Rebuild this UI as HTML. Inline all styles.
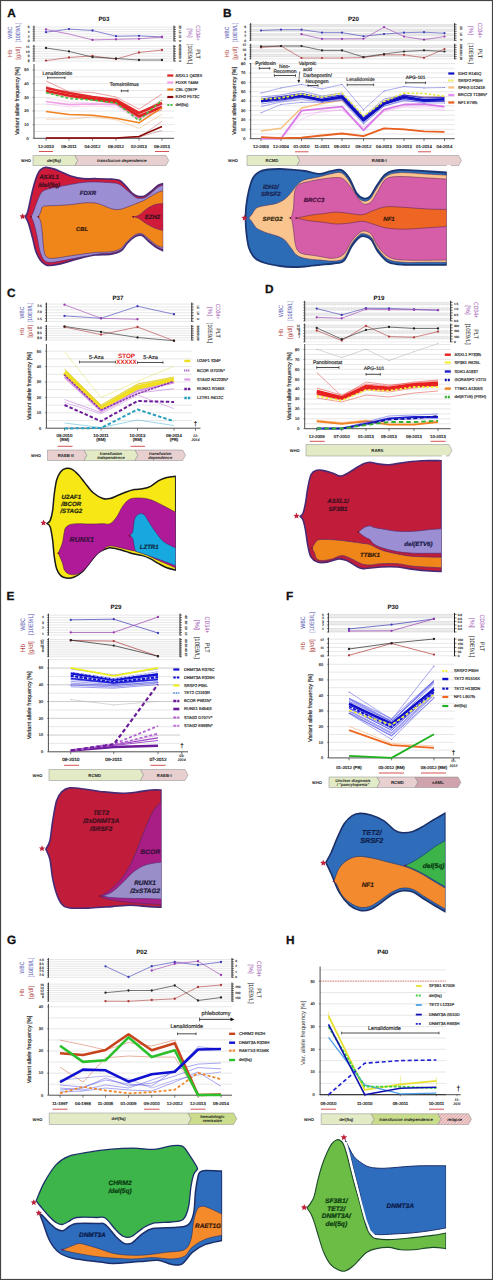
<!DOCTYPE html>
<html><head><meta charset="utf-8"><title>Clonal evolution figure</title>
<style>html,body{margin:0;padding:0;background:#fff;}svg{display:block;}text{font-family:"Liberation Sans", sans-serif;text-rendering:geometricPrecision;}</style>
</head><body>
<svg width="493" height="1280" viewBox="0 0 493 1280" font-family='"Liberation Sans", sans-serif'>
<rect x="0" y="0" width="493" height="1280" fill="#ffffff" />
<text x="7.2" y="16.8" font-size="11.8" fill="#111" text-anchor="start" font-weight="bold" font-style="normal" stroke="#111" stroke-width="0.3">A</text>
<text x="104" y="20.6" font-size="6.2" fill="#111" text-anchor="middle" font-weight="bold" font-style="normal" >P03</text>
<line x1="34" y1="27.1" x2="174" y2="27.1" stroke="#c9c9c9" stroke-width="0.45" />
<line x1="34" y1="29.4" x2="174" y2="29.4" stroke="#c9c9c9" stroke-width="0.45" />
<line x1="34" y1="31.7" x2="174" y2="31.7" stroke="#c9c9c9" stroke-width="0.45" />
<line x1="34" y1="34" x2="174" y2="34" stroke="#c9c9c9" stroke-width="0.45" />
<line x1="34" y1="36.3" x2="174" y2="36.3" stroke="#c9c9c9" stroke-width="0.45" />
<line x1="34" y1="38.6" x2="174" y2="38.6" stroke="#c9c9c9" stroke-width="0.45" />
<line x1="34" y1="40.9" x2="174" y2="40.9" stroke="#c9c9c9" stroke-width="0.45" />
<line x1="34" y1="25.6" x2="34" y2="41.4" stroke="#222" stroke-width="0.9" />
<line x1="174" y1="25.6" x2="174" y2="41.4" stroke="#222" stroke-width="1" />
<line x1="32.5" y1="27.1" x2="34" y2="27.1" stroke="#222" stroke-width="0.5" />
<line x1="174" y1="27.1" x2="176" y2="27.1" stroke="#222" stroke-width="0.6" />
<line x1="32.5" y1="29.4" x2="34" y2="29.4" stroke="#222" stroke-width="0.5" />
<line x1="174" y1="29.4" x2="176" y2="29.4" stroke="#222" stroke-width="0.6" />
<line x1="32.5" y1="31.7" x2="34" y2="31.7" stroke="#222" stroke-width="0.5" />
<line x1="174" y1="31.7" x2="176" y2="31.7" stroke="#222" stroke-width="0.6" />
<line x1="32.5" y1="34" x2="34" y2="34" stroke="#222" stroke-width="0.5" />
<line x1="174" y1="34" x2="176" y2="34" stroke="#222" stroke-width="0.6" />
<line x1="32.5" y1="36.3" x2="34" y2="36.3" stroke="#222" stroke-width="0.5" />
<line x1="174" y1="36.3" x2="176" y2="36.3" stroke="#222" stroke-width="0.6" />
<line x1="32.5" y1="38.6" x2="34" y2="38.6" stroke="#222" stroke-width="0.5" />
<line x1="174" y1="38.6" x2="176" y2="38.6" stroke="#222" stroke-width="0.6" />
<line x1="32.5" y1="40.9" x2="34" y2="40.9" stroke="#222" stroke-width="0.5" />
<line x1="174" y1="40.9" x2="176" y2="40.9" stroke="#222" stroke-width="0.6" />
<text x="29.5" y="28.3" font-size="3.3" fill="#444" text-anchor="end" font-weight="normal" font-style="normal"  stroke="#444" stroke-width="0.2">6</text>
<text x="29.5" y="32.9" font-size="3.3" fill="#444" text-anchor="end" font-weight="normal" font-style="normal"  stroke="#444" stroke-width="0.2">4</text>
<text x="29.5" y="37.5" font-size="3.3" fill="#444" text-anchor="end" font-weight="normal" font-style="normal"  stroke="#444" stroke-width="0.2">2</text>
<text x="29.5" y="42.1" font-size="3.3" fill="#444" text-anchor="end" font-weight="normal" font-style="normal"  stroke="#444" stroke-width="0.2">0</text>
<text x="179.2" y="27.1" font-size="3" fill="#444" text-anchor="middle" font-weight="normal" font-style="normal" transform="rotate(90 179.2 27.1)"  stroke="#444" stroke-width="0.2">20</text>
<text x="179.2" y="31.7" font-size="3" fill="#444" text-anchor="middle" font-weight="normal" font-style="normal" transform="rotate(90 179.2 31.7)"  stroke="#444" stroke-width="0.2">15</text>
<text x="179.2" y="36.3" font-size="3" fill="#444" text-anchor="middle" font-weight="normal" font-style="normal" transform="rotate(90 179.2 36.3)"  stroke="#444" stroke-width="0.2">10</text>
<text x="179.2" y="40.9" font-size="3" fill="#444" text-anchor="middle" font-weight="normal" font-style="normal" transform="rotate(90 179.2 40.9)"  stroke="#444" stroke-width="0.2">0</text>
<line x1="34" y1="46.4" x2="174" y2="46.4" stroke="#c9c9c9" stroke-width="0.45" />
<line x1="34" y1="48.83" x2="174" y2="48.83" stroke="#c9c9c9" stroke-width="0.45" />
<line x1="34" y1="51.27" x2="174" y2="51.27" stroke="#c9c9c9" stroke-width="0.45" />
<line x1="34" y1="53.7" x2="174" y2="53.7" stroke="#c9c9c9" stroke-width="0.45" />
<line x1="34" y1="56.13" x2="174" y2="56.13" stroke="#c9c9c9" stroke-width="0.45" />
<line x1="34" y1="58.57" x2="174" y2="58.57" stroke="#c9c9c9" stroke-width="0.45" />
<line x1="34" y1="61" x2="174" y2="61" stroke="#c9c9c9" stroke-width="0.45" />
<line x1="34" y1="44.9" x2="34" y2="61.5" stroke="#222" stroke-width="0.9" />
<line x1="174" y1="44.9" x2="174" y2="61.5" stroke="#222" stroke-width="1" />
<line x1="32.5" y1="46.4" x2="34" y2="46.4" stroke="#222" stroke-width="0.5" />
<line x1="174" y1="46.4" x2="176" y2="46.4" stroke="#222" stroke-width="0.6" />
<line x1="32.5" y1="48.83" x2="34" y2="48.83" stroke="#222" stroke-width="0.5" />
<line x1="174" y1="48.83" x2="176" y2="48.83" stroke="#222" stroke-width="0.6" />
<line x1="32.5" y1="51.27" x2="34" y2="51.27" stroke="#222" stroke-width="0.5" />
<line x1="174" y1="51.27" x2="176" y2="51.27" stroke="#222" stroke-width="0.6" />
<line x1="32.5" y1="53.7" x2="34" y2="53.7" stroke="#222" stroke-width="0.5" />
<line x1="174" y1="53.7" x2="176" y2="53.7" stroke="#222" stroke-width="0.6" />
<line x1="32.5" y1="56.13" x2="34" y2="56.13" stroke="#222" stroke-width="0.5" />
<line x1="174" y1="56.13" x2="176" y2="56.13" stroke="#222" stroke-width="0.6" />
<line x1="32.5" y1="58.57" x2="34" y2="58.57" stroke="#222" stroke-width="0.5" />
<line x1="174" y1="58.57" x2="176" y2="58.57" stroke="#222" stroke-width="0.6" />
<line x1="32.5" y1="61" x2="34" y2="61" stroke="#222" stroke-width="0.5" />
<line x1="174" y1="61" x2="176" y2="61" stroke="#222" stroke-width="0.6" />
<text x="29.5" y="47.6" font-size="3.3" fill="#444" text-anchor="end" font-weight="normal" font-style="normal"  stroke="#444" stroke-width="0.2">11</text>
<text x="29.5" y="52.5" font-size="3.3" fill="#444" text-anchor="end" font-weight="normal" font-style="normal"  stroke="#444" stroke-width="0.2">10</text>
<text x="29.5" y="57.3" font-size="3.3" fill="#444" text-anchor="end" font-weight="normal" font-style="normal"  stroke="#444" stroke-width="0.2">9</text>
<text x="29.5" y="62.2" font-size="3.3" fill="#444" text-anchor="end" font-weight="normal" font-style="normal"  stroke="#444" stroke-width="0.2">8</text>
<text x="179.2" y="46.4" font-size="3" fill="#444" text-anchor="middle" font-weight="normal" font-style="normal" transform="rotate(90 179.2 46.4)"  stroke="#444" stroke-width="0.2">400</text>
<text x="179.2" y="51.3" font-size="3" fill="#444" text-anchor="middle" font-weight="normal" font-style="normal" transform="rotate(90 179.2 51.3)"  stroke="#444" stroke-width="0.2">300</text>
<text x="179.2" y="56.1" font-size="3" fill="#444" text-anchor="middle" font-weight="normal" font-style="normal" transform="rotate(90 179.2 56.1)"  stroke="#444" stroke-width="0.2">200</text>
<text x="179.2" y="61" font-size="3" fill="#444" text-anchor="middle" font-weight="normal" font-style="normal" transform="rotate(90 179.2 61)"  stroke="#444" stroke-width="0.2">0</text>
<text x="12.31" y="32.7" font-size="6.14" fill="#5050b0" text-anchor="middle" font-weight="normal" font-style="normal" transform="rotate(-90 12.31 32.7)"  textLength="11.9" lengthAdjust="spacingAndGlyphs">WBC</text>
<text x="19.91" y="32.7" font-size="6.14" fill="#5050b0" text-anchor="middle" font-weight="normal" font-style="normal" transform="rotate(-90 19.91 32.7)"  textLength="19.72" lengthAdjust="spacingAndGlyphs">[10E9/L]</text>
<text x="12.31" y="53.3" font-size="6.14" fill="#b04040" text-anchor="middle" font-weight="normal" font-style="normal" transform="rotate(-90 12.31 53.3)"  textLength="7.25" lengthAdjust="spacingAndGlyphs">Hb</text>
<text x="19.91" y="53.3" font-size="6.14" fill="#b04040" text-anchor="middle" font-weight="normal" font-style="normal" transform="rotate(-90 19.91 53.3)"  textLength="12.65" lengthAdjust="spacingAndGlyphs">[g/dl]</text>
<text x="195.79" y="33" font-size="6.14" fill="#9a50b0" text-anchor="middle" font-weight="normal" font-style="normal" transform="rotate(90 195.79 33)"  textLength="15.53" lengthAdjust="spacingAndGlyphs">CD34+</text>
<text x="188.29" y="33" font-size="6.14" fill="#9a50b0" text-anchor="middle" font-weight="normal" font-style="normal" transform="rotate(90 188.29 33)"  textLength="9.39" lengthAdjust="spacingAndGlyphs">[%]</text>
<text x="195.79" y="54" font-size="6.14" fill="#222" text-anchor="middle" font-weight="normal" font-style="normal" transform="rotate(90 195.79 54)"  textLength="9.39" lengthAdjust="spacingAndGlyphs">PLT</text>
<text x="188.29" y="54" font-size="6.14" fill="#222" text-anchor="middle" font-weight="normal" font-style="normal" transform="rotate(90 188.29 54)"  textLength="20.74" lengthAdjust="spacingAndGlyphs">[10E9/L]</text>
<polyline points="46,32.2 69,29.1 92.5,30.5 116,36.2 139,35.8 162,37" fill="none" stroke="#3a3ab8" stroke-width="0.6" stroke-linejoin="round" stroke-linecap="butt" />
<circle cx="46" cy="32.2" r="1.15" fill="#3a3ab8"/><circle cx="69" cy="29.1" r="1.15" fill="#3a3ab8"/><circle cx="92.5" cy="30.5" r="1.15" fill="#3a3ab8"/><circle cx="116" cy="36.2" r="1.15" fill="#3a3ab8"/><circle cx="139" cy="35.8" r="1.15" fill="#3a3ab8"/><circle cx="162" cy="37" r="1.15" fill="#3a3ab8"/>
<polyline points="46,29.5 69,34 92.5,39.9 116,39.3 139,38.8 162,37" fill="none" stroke="#9a3ab0" stroke-width="0.6" stroke-linejoin="round" stroke-linecap="butt" />
<circle cx="46" cy="29.5" r="1.15" fill="#9a3ab0"/><circle cx="92.5" cy="39.9" r="1.15" fill="#9a3ab0"/><circle cx="116" cy="39.3" r="1.15" fill="#9a3ab0"/><circle cx="139" cy="38.8" r="1.15" fill="#9a3ab0"/><circle cx="162" cy="37" r="1.15" fill="#9a3ab0"/>
<polyline points="46,60.6 69,57.5 92.5,55.9 116,59.1 139,52.5 162,50" fill="none" stroke="#b03a3a" stroke-width="0.6" stroke-linejoin="round" stroke-linecap="butt" />
<circle cx="46" cy="60.6" r="1.15" fill="#b03a3a"/><circle cx="69" cy="57.5" r="1.15" fill="#b03a3a"/><circle cx="92.5" cy="55.9" r="1.15" fill="#b03a3a"/><circle cx="116" cy="59.1" r="1.15" fill="#b03a3a"/><circle cx="139" cy="52.5" r="1.15" fill="#b03a3a"/><circle cx="162" cy="50" r="1.15" fill="#b03a3a"/>
<polyline points="46,48 69,51.4 92.5,57.1 116,58.5 139,60 162,60" fill="none" stroke="#222" stroke-width="0.6" stroke-linejoin="round" stroke-linecap="butt" />
<circle cx="46" cy="48" r="1.15" fill="#222"/><circle cx="69" cy="51.4" r="1.15" fill="#222"/><circle cx="92.5" cy="57.1" r="1.15" fill="#222"/><circle cx="116" cy="58.5" r="1.15" fill="#222"/><circle cx="139" cy="60" r="1.15" fill="#222"/><circle cx="162" cy="60" r="1.15" fill="#222"/>
<line x1="34" y1="131.48" x2="174" y2="131.48" stroke="#c9c9c9" stroke-width="0.45" />
<line x1="34" y1="124.65" x2="174" y2="124.65" stroke="#c9c9c9" stroke-width="0.45" />
<line x1="34" y1="117.83" x2="174" y2="117.83" stroke="#c9c9c9" stroke-width="0.45" />
<line x1="34" y1="111" x2="174" y2="111" stroke="#c9c9c9" stroke-width="0.45" />
<line x1="34" y1="104.18" x2="174" y2="104.18" stroke="#c9c9c9" stroke-width="0.45" />
<line x1="34" y1="97.35" x2="174" y2="97.35" stroke="#c9c9c9" stroke-width="0.45" />
<line x1="34" y1="90.53" x2="174" y2="90.53" stroke="#c9c9c9" stroke-width="0.45" />
<line x1="34" y1="83.7" x2="174" y2="83.7" stroke="#c9c9c9" stroke-width="0.45" />
<line x1="34" y1="76.88" x2="174" y2="76.88" stroke="#c9c9c9" stroke-width="0.45" />
<line x1="34" y1="70.05" x2="174" y2="70.05" stroke="#c9c9c9" stroke-width="0.45" />
<line x1="34" y1="64" x2="34" y2="138.3" stroke="#222" stroke-width="0.8" />
<line x1="34" y1="138.3" x2="174" y2="138.3" stroke="#222" stroke-width="0.8" />
<line x1="32.7" y1="138.3" x2="34" y2="138.3" stroke="#222" stroke-width="0.5" />
<text x="28.6" y="139.65" font-size="3.8" fill="#333" text-anchor="end" font-weight="normal" font-style="normal"  stroke="#333" stroke-width="0.2">0</text>
<line x1="32.7" y1="124.65" x2="34" y2="124.65" stroke="#222" stroke-width="0.5" />
<text x="28.6" y="126" font-size="3.8" fill="#333" text-anchor="end" font-weight="normal" font-style="normal"  stroke="#333" stroke-width="0.2">10</text>
<line x1="32.7" y1="111" x2="34" y2="111" stroke="#222" stroke-width="0.5" />
<text x="28.6" y="112.35" font-size="3.8" fill="#333" text-anchor="end" font-weight="normal" font-style="normal"  stroke="#333" stroke-width="0.2">20</text>
<line x1="32.7" y1="97.35" x2="34" y2="97.35" stroke="#222" stroke-width="0.5" />
<text x="28.6" y="98.7" font-size="3.8" fill="#333" text-anchor="end" font-weight="normal" font-style="normal"  stroke="#333" stroke-width="0.2">30</text>
<line x1="32.7" y1="83.7" x2="34" y2="83.7" stroke="#222" stroke-width="0.5" />
<text x="28.6" y="85.05" font-size="3.8" fill="#333" text-anchor="end" font-weight="normal" font-style="normal"  stroke="#333" stroke-width="0.2">40</text>
<line x1="32.7" y1="70.05" x2="34" y2="70.05" stroke="#222" stroke-width="0.5" />
<text x="28.6" y="71.4" font-size="3.8" fill="#333" text-anchor="end" font-weight="normal" font-style="normal"  stroke="#333" stroke-width="0.2">50</text>
<line x1="46" y1="138.3" x2="46" y2="140.7" stroke="#222" stroke-width="0.6" />
<line x1="69" y1="138.3" x2="69" y2="140.7" stroke="#222" stroke-width="0.6" />
<line x1="92.5" y1="138.3" x2="92.5" y2="140.7" stroke="#222" stroke-width="0.6" />
<line x1="116" y1="138.3" x2="116" y2="140.7" stroke="#222" stroke-width="0.6" />
<line x1="139" y1="138.3" x2="139" y2="140.7" stroke="#222" stroke-width="0.6" />
<line x1="162" y1="138.3" x2="162" y2="140.7" stroke="#222" stroke-width="0.6" />
<text x="46" y="148" font-size="4.3" fill="#222" text-anchor="middle" font-weight="normal" font-style="normal"  stroke="#222" stroke-width="0.2">12-2010</text>
<text x="69" y="148" font-size="4.3" fill="#222" text-anchor="middle" font-weight="normal" font-style="normal"  stroke="#222" stroke-width="0.2">06-2011</text>
<text x="92.5" y="148" font-size="4.3" fill="#222" text-anchor="middle" font-weight="normal" font-style="normal"  stroke="#222" stroke-width="0.2">04-2012</text>
<text x="116" y="148" font-size="4.3" fill="#222" text-anchor="middle" font-weight="normal" font-style="normal"  stroke="#222" stroke-width="0.2">08-2012</text>
<text x="139" y="148" font-size="4.3" fill="#222" text-anchor="middle" font-weight="normal" font-style="normal"  stroke="#222" stroke-width="0.2">02-2013</text>
<text x="162" y="148" font-size="4.3" fill="#222" text-anchor="middle" font-weight="normal" font-style="normal"  stroke="#222" stroke-width="0.2">06-2013</text>
<text x="19.5" y="101.15" font-size="5.6" fill="#333" text-anchor="middle" font-weight="normal" font-style="normal" transform="rotate(-90 19.5 101.15)"  stroke="#333" stroke-width="0.2">Variant allele frequency [%]</text>
<polyline points="46,138 69,138 92.5,138 116,138 139,137.5 162,121.3" fill="none" stroke="#a04040" stroke-width="0.4" stroke-linejoin="round" stroke-linecap="butt" />
<polyline points="46,138 69,138 92.5,138 116,138 139,137 162,130.5" fill="none" stroke="#a04040" stroke-width="0.4" stroke-linejoin="round" stroke-linecap="butt" />
<polyline points="46,119.2 69,119.2 92.5,116.8 116,119.8 139,128.3 162,114.3" fill="none" stroke="#f0a060" stroke-width="0.45" stroke-linejoin="round" stroke-linecap="butt" />
<polyline points="46,98 69,102 92.5,103 116,103 139,116 162,102" fill="none" stroke="#f0b0e8" stroke-width="0.5" stroke-linejoin="round" stroke-linecap="butt" />
<polyline points="46,104 69,107 92.5,106 116,107 139,120 162,108" fill="none" stroke="#f0b0e8" stroke-width="0.5" stroke-linejoin="round" stroke-linecap="butt" />
<polyline points="46,101.5 69,104.6 92.5,104 116,104.6 139,118.3 162,104.6" fill="none" stroke="#f3a0e6" stroke-width="1.6" stroke-linejoin="round" stroke-linecap="butt" />
<polyline points="46,80.9 69,91.8 92.5,92.4 116,97 139,109.2 162,94" fill="none" stroke="#d84040" stroke-width="0.5" stroke-linejoin="round" stroke-linecap="butt" />
<polyline points="46,86 69,96 92.5,99 116,101 139,114 162,100" fill="none" stroke="#e05050" stroke-width="0.5" stroke-linejoin="round" stroke-linecap="butt" />
<polyline points="46,93 69,97 92.5,100 116,104 139,118 162,110" fill="none" stroke="#e05050" stroke-width="0.5" stroke-linejoin="round" stroke-linecap="butt" />
<polyline points="46,88 69,93 92.5,97 116,100 139,113 162,103" fill="none" stroke="#e02828" stroke-width="2.6" stroke-linejoin="round" stroke-linecap="butt" />
<polyline points="46,90.9 69,95.5 92.5,99.1 116,102.2 139,116.2 162,107" fill="none" stroke="#e02020" stroke-width="2.6" stroke-linejoin="round" stroke-linecap="butt" />
<polyline points="46,111.6 69,114.6 92.5,115.2 116,118.3 139,122.8 162,107.6" fill="none" stroke="#f08020" stroke-width="1.5" stroke-linejoin="round" stroke-linecap="butt" />
<polyline points="46,92.4 69,98.5 92.5,100 116,103 139,120.4 162,100" fill="none" stroke="#44c040" stroke-width="1.6" stroke-dasharray="3,2" stroke-linejoin="round" stroke-linecap="butt" />
<polyline points="46,138 69,138 92.5,138 116,138 139,136.5 162,126.5" fill="none" stroke="#8b0a0a" stroke-width="1.5" stroke-linejoin="round" stroke-linecap="butt" />
<line x1="47.6" y1="77.8" x2="65" y2="77.8" stroke="#222" stroke-width="0.8" />
<line x1="47.6" y1="76.5" x2="47.6" y2="79.1" stroke="#222" stroke-width="0.7" />
<line x1="65" y1="76.5" x2="65" y2="79.1" stroke="#222" stroke-width="0.7" />
<text x="57.4" y="74.5" font-size="5" fill="#333" text-anchor="middle" font-weight="normal" font-style="normal"  stroke="#333" stroke-width="0.2">Lenalidomide</text>
<line x1="121.3" y1="90.9" x2="128" y2="90.9" stroke="#222" stroke-width="0.8" />
<line x1="121.3" y1="89.6" x2="121.3" y2="92.2" stroke="#222" stroke-width="0.7" />
<line x1="128" y1="89.6" x2="128" y2="92.2" stroke="#222" stroke-width="0.7" />
<text x="124.3" y="86.3" font-size="5" fill="#333" text-anchor="middle" font-weight="normal" font-style="normal"  stroke="#333" stroke-width="0.2">Temsirolimus</text>
<line x1="167.3" y1="75.5" x2="173.3" y2="75.5" stroke="#e02020" stroke-width="2.2" />
<text x="175.5" y="76.95" font-size="4.1" fill="#333" text-anchor="start" font-weight="normal" font-style="normal"  stroke="#333" stroke-width="0.2">ASXL1 Q428X</text>
<line x1="167.3" y1="82.5" x2="173.3" y2="82.5" stroke="#f3a0e6" stroke-width="2.2" />
<text x="175.5" y="83.95" font-size="4.1" fill="#333" text-anchor="start" font-weight="normal" font-style="normal"  stroke="#333" stroke-width="0.2">FDXR T44M</text>
<line x1="167.3" y1="89.5" x2="173.3" y2="89.5" stroke="#f08020" stroke-width="2.2" />
<text x="175.5" y="90.95" font-size="4.1" fill="#333" text-anchor="start" font-weight="normal" font-style="normal"  stroke="#333" stroke-width="0.2">CBL Q367P</text>
<line x1="167.3" y1="97" x2="173.3" y2="97" stroke="#8b0a0a" stroke-width="2.2" />
<text x="175.5" y="98.45" font-size="4.1" fill="#333" text-anchor="start" font-weight="normal" font-style="normal"  stroke="#333" stroke-width="0.2">EZH2 F573C</text>
<line x1="167.3" y1="105" x2="173.3" y2="105" stroke="#44c040" stroke-width="2.2" stroke-dasharray="2,1.2"/>
<text x="175.5" y="106.45" font-size="4.1" fill="#333" text-anchor="start" font-weight="normal" font-style="normal"  stroke="#333" stroke-width="0.2">del(5q)</text>
<line x1="39" y1="151.5" x2="53" y2="151.5" stroke="#d04040" stroke-width="0.9" />
<line x1="155" y1="151.5" x2="169" y2="151.5" stroke="#d04040" stroke-width="0.9" />
<text x="26" y="162.1" font-size="4" fill="#111" text-anchor="middle" font-weight="bold" font-style="normal" >WHO</text>
<polygon points="33,155.5 75,155.5 77.75,160.5 75,165.5 33,165.5" fill="#e2ebc6" stroke="#888" stroke-width="0.5" stroke-linejoin="round"/>
<polygon points="75,155.5 166,155.5 168.75,160.5 166,165.5 75,165.5 77.75,160.5" fill="#e8cfd0" stroke="#888" stroke-width="0.5" stroke-linejoin="round"/>
<text x="54" y="162" font-size="4.3" fill="#222" text-anchor="middle" font-weight="bold" font-style="italic" >del(5q)</text>
<text x="121.88" y="162" font-size="4.3" fill="#222" text-anchor="middle" font-weight="bold" font-style="italic" >transfusion dependence</text>
<path d="M25.3,216.5 C25.7,215.75 26.75,215.2 27.7,212 C28.65,208.8 29.92,201.92 31,197.3 C32.08,192.68 33.12,188.08 34.2,184.3 C35.28,180.52 36.42,177.03 37.5,174.6 C38.58,172.17 39.35,170.92 40.7,169.7 C42.05,168.48 43.43,167.43 45.6,167.3 C47.77,167.17 51,168.08 53.7,168.9 C56.4,169.72 58.83,170.98 61.8,172.2 C64.77,173.42 67.98,175.12 71.5,176.2 C75.02,177.28 78.98,178.28 82.9,178.7 C86.82,179.12 90.28,178.63 95,178.7 C99.72,178.77 107.15,178.83 111.2,179.1 C115.25,179.37 116.87,179.15 119.3,180.3 C121.73,181.45 123.63,183.83 125.8,186 C127.97,188.17 130.13,191.55 132.3,193.3 C134.47,195.05 136.63,196.1 138.8,196.5 C140.97,196.9 143.13,196.65 145.3,195.7 C147.47,194.75 149.63,192.55 151.8,190.8 C153.97,189.05 156.4,186.42 158.3,185.2 C160.2,183.98 162.38,183.78 163.2,183.5 L163.2,250.9 C162.12,250.35 159.15,249.23 156.7,247.6 C154.25,245.97 150.93,243.12 148.5,241.1 C146.07,239.08 144.25,236.3 142.1,235.5 C139.95,234.7 138.03,235.08 135.6,236.3 C133.17,237.52 129.93,240.37 127.5,242.8 C125.07,245.23 123.72,249.02 121,250.9 C118.28,252.78 115.53,253.43 111.2,254.1 C106.87,254.77 99.72,254.35 95,254.9 C90.28,255.45 86.82,256.45 82.9,257.4 C78.98,258.35 75.28,259.52 71.5,260.6 C67.72,261.68 63.7,263.08 60.2,263.9 C56.7,264.72 52.93,265.37 50.5,265.5 C48.07,265.63 47.23,265.52 45.6,264.7 C43.97,263.88 42.33,262.9 40.7,260.6 C39.07,258.3 37.15,254.68 35.8,250.9 C34.45,247.12 33.82,242.5 32.6,237.9 C31.38,233.3 29.72,226.87 28.5,223.3 C27.28,219.73 25.83,217.63 25.3,216.5 Z" fill="#d01a3a" stroke="#4a2a74" stroke-width="1.7" stroke-linejoin="round" />
<path d="M31,216.8 C31.4,216 32.32,214.7 33.4,212 C34.48,209.3 36.15,203.85 37.5,200.6 C38.85,197.35 39.88,194.4 41.5,192.5 C43.12,190.6 44.35,190.15 47.2,189.2 C50.05,188.25 54.55,187.62 58.6,186.8 C62.65,185.98 67.45,185.03 71.5,184.3 C75.55,183.57 78.98,182.8 82.9,182.4 C86.82,182 90.28,181.85 95,181.9 C99.72,181.95 107.15,182.3 111.2,182.7 C115.25,183.1 116.58,182.95 119.3,184.3 C122.02,185.65 124.78,188.63 127.5,190.8 C130.22,192.97 133.6,196.05 135.6,197.3 C137.6,198.55 137.88,198.27 139.5,198.3 C141.12,198.33 143.25,198.47 145.3,197.5 C147.35,196.53 149.63,194.25 151.8,192.5 C153.97,190.75 156.4,188.2 158.3,187 C160.2,185.8 162.38,185.58 163.2,185.3 L163.2,249.5 C162.12,249 159.15,248.08 156.7,246.5 C154.25,244.92 150.93,241.95 148.5,240 C146.07,238.05 144.25,235.55 142.1,234.8 C139.95,234.05 138.03,234.3 135.6,235.5 C133.17,236.7 129.93,239.62 127.5,242 C125.07,244.38 123.72,247.97 121,249.8 C118.28,251.63 115.03,252.28 111.2,253 C107.37,253.72 105.42,252.97 98,254.1 C90.58,255.23 74.62,258.42 66.7,259.8 C58.78,261.18 54.28,262.4 50.5,262.4 C46.72,262.4 45.77,261.72 44,259.8 C42.23,257.88 41.12,255.1 39.9,250.9 C38.68,246.7 37.78,239.47 36.7,234.6 C35.62,229.73 34.35,224.67 33.4,221.7 C32.45,218.73 31.4,217.62 31,216.8 Z" fill="#9c8ed2" stroke="#4a2a74" stroke-width="0.6" stroke-linejoin="round" />
<path d="M38.3,216.8 C38.7,216 40.03,213.63 40.7,212 C41.37,210.37 41.35,208.02 42.3,207 C43.25,205.98 43.68,206.17 46.4,205.9 C49.12,205.63 54.42,205.62 58.6,205.4 C62.78,205.18 67.45,205 71.5,204.6 C75.55,204.2 78.98,203.27 82.9,203 C86.82,202.73 91.63,202.6 95,203 C98.37,203.4 100.4,204.45 103.1,205.4 C105.8,206.35 108.5,208.02 111.2,208.7 C113.9,209.38 116.58,209.78 119.3,209.5 C122.02,209.22 124.78,207.95 127.5,207 C130.22,206.05 132.9,204.87 135.6,203.8 C138.3,202.73 141,201.95 143.7,200.6 C146.4,199.25 149.1,197.2 151.8,195.7 C154.5,194.2 158,192.42 159.9,191.6 C161.8,190.78 162.65,190.93 163.2,190.8 L163.2,247.6 C162.12,247.2 159.15,246.68 156.7,245.2 C154.25,243.72 150.93,240.6 148.5,238.7 C146.07,236.8 144.25,234.48 142.1,233.8 C139.95,233.12 138.03,233.38 135.6,234.6 C133.17,235.82 129.93,238.8 127.5,241.1 C125.07,243.4 123.72,246.63 121,248.4 C118.28,250.17 115.53,251.02 111.2,251.7 C106.87,252.38 101.62,251.83 95,252.5 C88.38,253.17 78.12,254.75 71.5,255.7 C64.88,256.65 59.35,257.92 55.3,258.2 C51.25,258.48 49.08,258.62 47.2,257.4 C45.32,256.18 44.82,254.97 44,250.9 C43.18,246.83 42.85,237.87 42.3,233 C41.75,228.13 41.37,224.4 40.7,221.7 C40.03,219 38.7,217.62 38.3,216.8 Z" fill="#f0861a" stroke="#4a2a74" stroke-width="0.6" stroke-linejoin="round" />
<path d="M133.1,216.8 C134.05,216.53 136.5,216.55 138.8,215.2 C141.1,213.85 144.2,210.47 146.9,208.7 C149.6,206.93 152.28,205.47 155,204.6 C157.72,203.73 161.83,203.68 163.2,203.5 L163.2,230.6 C161.83,230.2 157.72,229.28 155,228.2 C152.28,227.12 149.6,225.73 146.9,224.1 C144.2,222.47 141.1,219.62 138.8,218.4 C136.5,217.18 134.05,217.07 133.1,216.8 Z" fill="#d01a3a" stroke="#4a2a74" stroke-width="0.5" stroke-linejoin="round" />
<rect x="163.2" y="180" width="3" height="75" fill="#fff" />
<polygon points="22.6,213.2 23.47,215.3 25.74,215.48 24.01,216.96 24.54,219.17 22.6,217.99 20.66,219.17 21.19,216.96 19.46,215.48 21.73,215.3" fill="#c0203a"/>
<text x="49" y="179.2" font-size="6.1" fill="#3a0f1e" text-anchor="middle" font-weight="bold" font-style="italic" stroke="#3a0f1e" stroke-width="0.22">ASXL1</text>
<text x="49" y="187.3" font-size="6.1" fill="#3a0f1e" text-anchor="middle" font-weight="bold" font-style="italic" stroke="#3a0f1e" stroke-width="0.22">/del(5q)</text>
<text x="88" y="194.5" font-size="6" fill="#2a1a4a" text-anchor="middle" font-weight="bold" font-style="italic" stroke="#2a1a4a" stroke-width="0.22">FDXR</text>
<text x="82" y="231.4" font-size="5.8" fill="#3a1a0a" text-anchor="middle" font-weight="bold" font-style="italic" stroke="#3a1a0a" stroke-width="0.22">CBL</text>
<text x="152.5" y="219" font-size="6" fill="#3a0f1e" text-anchor="middle" font-weight="bold" font-style="italic" stroke="#3a0f1e" stroke-width="0.22">EZH2</text>
<text x="223.1" y="16.8" font-size="11.8" fill="#111" text-anchor="start" font-weight="bold" font-style="normal" stroke="#111" stroke-width="0.3">B</text>
<text x="353.5" y="20.6" font-size="6.2" fill="#111" text-anchor="middle" font-weight="bold" font-style="normal" >P20</text>
<rect x="250.7" y="24.6" width="204" height="2.26" fill="#ebebeb" />
<rect x="250.7" y="29.11" width="204" height="2.26" fill="#ebebeb" />
<rect x="250.7" y="33.63" width="204" height="2.26" fill="#ebebeb" />
<rect x="250.7" y="38.14" width="204" height="2.26" fill="#ebebeb" />
<line x1="250.7" y1="24.6" x2="454.7" y2="24.6" stroke="#c9c9c9" stroke-width="0.45" />
<line x1="250.7" y1="26.86" x2="454.7" y2="26.86" stroke="#c9c9c9" stroke-width="0.45" />
<line x1="250.7" y1="29.11" x2="454.7" y2="29.11" stroke="#c9c9c9" stroke-width="0.45" />
<line x1="250.7" y1="31.37" x2="454.7" y2="31.37" stroke="#c9c9c9" stroke-width="0.45" />
<line x1="250.7" y1="33.63" x2="454.7" y2="33.63" stroke="#c9c9c9" stroke-width="0.45" />
<line x1="250.7" y1="35.89" x2="454.7" y2="35.89" stroke="#c9c9c9" stroke-width="0.45" />
<line x1="250.7" y1="38.14" x2="454.7" y2="38.14" stroke="#c9c9c9" stroke-width="0.45" />
<line x1="250.7" y1="40.4" x2="454.7" y2="40.4" stroke="#c9c9c9" stroke-width="0.45" />
<line x1="250.7" y1="23.1" x2="250.7" y2="40.9" stroke="#222" stroke-width="0.9" />
<line x1="454.7" y1="23.1" x2="454.7" y2="40.9" stroke="#222" stroke-width="1" />
<line x1="249.2" y1="24.6" x2="250.7" y2="24.6" stroke="#222" stroke-width="0.5" />
<line x1="454.7" y1="24.6" x2="456.7" y2="24.6" stroke="#222" stroke-width="0.6" />
<line x1="249.2" y1="26.86" x2="250.7" y2="26.86" stroke="#222" stroke-width="0.5" />
<line x1="454.7" y1="26.86" x2="456.7" y2="26.86" stroke="#222" stroke-width="0.6" />
<line x1="249.2" y1="29.11" x2="250.7" y2="29.11" stroke="#222" stroke-width="0.5" />
<line x1="454.7" y1="29.11" x2="456.7" y2="29.11" stroke="#222" stroke-width="0.6" />
<line x1="249.2" y1="31.37" x2="250.7" y2="31.37" stroke="#222" stroke-width="0.5" />
<line x1="454.7" y1="31.37" x2="456.7" y2="31.37" stroke="#222" stroke-width="0.6" />
<line x1="249.2" y1="33.63" x2="250.7" y2="33.63" stroke="#222" stroke-width="0.5" />
<line x1="454.7" y1="33.63" x2="456.7" y2="33.63" stroke="#222" stroke-width="0.6" />
<line x1="249.2" y1="35.89" x2="250.7" y2="35.89" stroke="#222" stroke-width="0.5" />
<line x1="454.7" y1="35.89" x2="456.7" y2="35.89" stroke="#222" stroke-width="0.6" />
<line x1="249.2" y1="38.14" x2="250.7" y2="38.14" stroke="#222" stroke-width="0.5" />
<line x1="454.7" y1="38.14" x2="456.7" y2="38.14" stroke="#222" stroke-width="0.6" />
<line x1="249.2" y1="40.4" x2="250.7" y2="40.4" stroke="#222" stroke-width="0.5" />
<line x1="454.7" y1="40.4" x2="456.7" y2="40.4" stroke="#222" stroke-width="0.6" />
<text x="246.2" y="28.1" font-size="3.3" fill="#444" text-anchor="end" font-weight="normal" font-style="normal"  stroke="#444" stroke-width="0.2">6</text>
<text x="246.2" y="32.6" font-size="3.3" fill="#444" text-anchor="end" font-weight="normal" font-style="normal"  stroke="#444" stroke-width="0.2">4</text>
<text x="246.2" y="37.1" font-size="3.3" fill="#444" text-anchor="end" font-weight="normal" font-style="normal"  stroke="#444" stroke-width="0.2">2</text>
<text x="246.2" y="41.6" font-size="3.3" fill="#444" text-anchor="end" font-weight="normal" font-style="normal"  stroke="#444" stroke-width="0.2">0</text>
<text x="459.9" y="28" font-size="3" fill="#444" text-anchor="middle" font-weight="normal" font-style="normal" transform="rotate(90 459.9 28)"  stroke="#444" stroke-width="0.2">20</text>
<text x="459.9" y="34" font-size="3" fill="#444" text-anchor="middle" font-weight="normal" font-style="normal" transform="rotate(90 459.9 34)"  stroke="#444" stroke-width="0.2">10</text>
<text x="459.9" y="39.5" font-size="3" fill="#444" text-anchor="middle" font-weight="normal" font-style="normal" transform="rotate(90 459.9 39.5)"  stroke="#444" stroke-width="0.2">0</text>
<rect x="250.7" y="45.2" width="204" height="2.27" fill="#ebebeb" />
<rect x="250.7" y="49.73" width="204" height="2.27" fill="#ebebeb" />
<rect x="250.7" y="54.27" width="204" height="2.27" fill="#ebebeb" />
<line x1="250.7" y1="45.2" x2="454.7" y2="45.2" stroke="#c9c9c9" stroke-width="0.45" />
<line x1="250.7" y1="47.47" x2="454.7" y2="47.47" stroke="#c9c9c9" stroke-width="0.45" />
<line x1="250.7" y1="49.73" x2="454.7" y2="49.73" stroke="#c9c9c9" stroke-width="0.45" />
<line x1="250.7" y1="52" x2="454.7" y2="52" stroke="#c9c9c9" stroke-width="0.45" />
<line x1="250.7" y1="54.27" x2="454.7" y2="54.27" stroke="#c9c9c9" stroke-width="0.45" />
<line x1="250.7" y1="56.53" x2="454.7" y2="56.53" stroke="#c9c9c9" stroke-width="0.45" />
<line x1="250.7" y1="58.8" x2="454.7" y2="58.8" stroke="#c9c9c9" stroke-width="0.45" />
<line x1="250.7" y1="43.7" x2="250.7" y2="59.3" stroke="#222" stroke-width="0.9" />
<line x1="454.7" y1="43.7" x2="454.7" y2="59.3" stroke="#222" stroke-width="1" />
<line x1="249.2" y1="45.2" x2="250.7" y2="45.2" stroke="#222" stroke-width="0.5" />
<line x1="454.7" y1="45.2" x2="456.7" y2="45.2" stroke="#222" stroke-width="0.6" />
<line x1="249.2" y1="47.47" x2="250.7" y2="47.47" stroke="#222" stroke-width="0.5" />
<line x1="454.7" y1="47.47" x2="456.7" y2="47.47" stroke="#222" stroke-width="0.6" />
<line x1="249.2" y1="49.73" x2="250.7" y2="49.73" stroke="#222" stroke-width="0.5" />
<line x1="454.7" y1="49.73" x2="456.7" y2="49.73" stroke="#222" stroke-width="0.6" />
<line x1="249.2" y1="52" x2="250.7" y2="52" stroke="#222" stroke-width="0.5" />
<line x1="454.7" y1="52" x2="456.7" y2="52" stroke="#222" stroke-width="0.6" />
<line x1="249.2" y1="54.27" x2="250.7" y2="54.27" stroke="#222" stroke-width="0.5" />
<line x1="454.7" y1="54.27" x2="456.7" y2="54.27" stroke="#222" stroke-width="0.6" />
<line x1="249.2" y1="56.53" x2="250.7" y2="56.53" stroke="#222" stroke-width="0.5" />
<line x1="454.7" y1="56.53" x2="456.7" y2="56.53" stroke="#222" stroke-width="0.6" />
<line x1="249.2" y1="58.8" x2="250.7" y2="58.8" stroke="#222" stroke-width="0.5" />
<line x1="454.7" y1="58.8" x2="456.7" y2="58.8" stroke="#222" stroke-width="0.6" />
<text x="246.2" y="46.4" font-size="3.3" fill="#444" text-anchor="end" font-weight="normal" font-style="normal"  stroke="#444" stroke-width="0.2">12</text>
<text x="246.2" y="50.9" font-size="3.3" fill="#444" text-anchor="end" font-weight="normal" font-style="normal"  stroke="#444" stroke-width="0.2">10</text>
<text x="246.2" y="55.5" font-size="3.3" fill="#444" text-anchor="end" font-weight="normal" font-style="normal"  stroke="#444" stroke-width="0.2">8</text>
<text x="246.2" y="60" font-size="3.3" fill="#444" text-anchor="end" font-weight="normal" font-style="normal"  stroke="#444" stroke-width="0.2">6</text>
<text x="459.9" y="46.5" font-size="3" fill="#444" text-anchor="middle" font-weight="normal" font-style="normal" transform="rotate(90 459.9 46.5)"  stroke="#444" stroke-width="0.2">300</text>
<text x="459.9" y="52" font-size="3" fill="#444" text-anchor="middle" font-weight="normal" font-style="normal" transform="rotate(90 459.9 52)"  stroke="#444" stroke-width="0.2">200</text>
<text x="459.9" y="57.5" font-size="3" fill="#444" text-anchor="middle" font-weight="normal" font-style="normal" transform="rotate(90 459.9 57.5)"  stroke="#444" stroke-width="0.2">100</text>
<text x="228.81" y="32.6" font-size="6.14" fill="#5050b0" text-anchor="middle" font-weight="normal" font-style="normal" transform="rotate(-90 228.81 32.6)"  textLength="11.9" lengthAdjust="spacingAndGlyphs">WBC</text>
<text x="236.51" y="32.6" font-size="6.14" fill="#5050b0" text-anchor="middle" font-weight="normal" font-style="normal" transform="rotate(-90 236.51 32.6)"  textLength="19.72" lengthAdjust="spacingAndGlyphs">[10E9/L]</text>
<text x="228.81" y="53.5" font-size="6.14" fill="#b04040" text-anchor="middle" font-weight="normal" font-style="normal" transform="rotate(-90 228.81 53.5)"  textLength="7.25" lengthAdjust="spacingAndGlyphs">Hb</text>
<text x="236.51" y="53.5" font-size="6.14" fill="#b04040" text-anchor="middle" font-weight="normal" font-style="normal" transform="rotate(-90 236.51 53.5)"  textLength="12.65" lengthAdjust="spacingAndGlyphs">[g/dl]</text>
<text x="477.99" y="30.5" font-size="6.14" fill="#9a50b0" text-anchor="middle" font-weight="normal" font-style="normal" transform="rotate(90 477.99 30.5)"  textLength="15.53" lengthAdjust="spacingAndGlyphs">CD34+</text>
<text x="469.49" y="30.5" font-size="6.14" fill="#9a50b0" text-anchor="middle" font-weight="normal" font-style="normal" transform="rotate(90 469.49 30.5)"  textLength="9.39" lengthAdjust="spacingAndGlyphs">[%]</text>
<text x="477.99" y="53.5" font-size="6.14" fill="#222" text-anchor="middle" font-weight="normal" font-style="normal" transform="rotate(90 477.99 53.5)"  textLength="9.39" lengthAdjust="spacingAndGlyphs">PLT</text>
<text x="469.49" y="53.5" font-size="6.14" fill="#222" text-anchor="middle" font-weight="normal" font-style="normal" transform="rotate(90 469.49 53.5)"  textLength="20.74" lengthAdjust="spacingAndGlyphs">[10E9/L]</text>
<polyline points="261,30.5 281,29.7 301.5,29.7 322,32.6 342,32.6 363.5,36.25 384,34 404,32.7 424,32.2 444.5,33.2" fill="none" stroke="#3a3ab8" stroke-width="0.6" stroke-linejoin="round" stroke-linecap="butt" />
<circle cx="261" cy="30.5" r="1.1" fill="#3a3ab8"/><circle cx="281" cy="29.7" r="1.1" fill="#3a3ab8"/><circle cx="301.5" cy="29.7" r="1.1" fill="#3a3ab8"/><circle cx="322" cy="32.6" r="1.1" fill="#3a3ab8"/><circle cx="342" cy="32.6" r="1.1" fill="#3a3ab8"/><circle cx="363.5" cy="36.25" r="1.1" fill="#3a3ab8"/><circle cx="384" cy="34" r="1.1" fill="#3a3ab8"/><circle cx="404" cy="32.7" r="1.1" fill="#3a3ab8"/><circle cx="424" cy="32.2" r="1.1" fill="#3a3ab8"/><circle cx="444.5" cy="33.2" r="1.1" fill="#3a3ab8"/>
<polyline points="301.5,34.2 322,38.9 342,38.9 363.5,38.75 384,27.2 404,36.5 424,39.7 444.5,36.5" fill="none" stroke="#9a3ab0" stroke-width="0.6" stroke-linejoin="round" stroke-linecap="butt" />
<circle cx="301.5" cy="34.2" r="1.1" fill="#9a3ab0"/><circle cx="322" cy="38.9" r="1.1" fill="#9a3ab0"/><circle cx="342" cy="38.9" r="1.1" fill="#9a3ab0"/><circle cx="363.5" cy="38.75" r="1.1" fill="#9a3ab0"/><circle cx="384" cy="27.2" r="1.1" fill="#9a3ab0"/><circle cx="404" cy="36.5" r="1.1" fill="#9a3ab0"/><circle cx="424" cy="39.7" r="1.1" fill="#9a3ab0"/><circle cx="444.5" cy="36.5" r="1.1" fill="#9a3ab0"/>
<polyline points="261,47.4 281,46 301.5,58 322,58 342,58 363.5,57.5 384,54.8 404,54.8 424,57.8 444.5,49" fill="none" stroke="#b03a3a" stroke-width="0.6" stroke-linejoin="round" stroke-linecap="butt" />
<circle cx="261" cy="47.4" r="1.1" fill="#b03a3a"/><circle cx="281" cy="46" r="1.1" fill="#b03a3a"/><circle cx="301.5" cy="58" r="1.1" fill="#b03a3a"/><circle cx="322" cy="58" r="1.1" fill="#b03a3a"/><circle cx="342" cy="58" r="1.1" fill="#b03a3a"/><circle cx="363.5" cy="57.5" r="1.1" fill="#b03a3a"/><circle cx="384" cy="54.8" r="1.1" fill="#b03a3a"/><circle cx="404" cy="54.8" r="1.1" fill="#b03a3a"/><circle cx="424" cy="57.8" r="1.1" fill="#b03a3a"/><circle cx="444.5" cy="49" r="1.1" fill="#b03a3a"/>
<polyline points="261,46.4 281,46 301.5,46 322,50.4 342,50.4 363.5,57 384,54 404,51.5 424,50.3 444.5,51.5" fill="none" stroke="#222" stroke-width="0.6" stroke-linejoin="round" stroke-linecap="butt" />
<circle cx="261" cy="46.4" r="1.1" fill="#222"/><circle cx="281" cy="46" r="1.1" fill="#222"/><circle cx="301.5" cy="46" r="1.1" fill="#222"/><circle cx="322" cy="50.4" r="1.1" fill="#222"/><circle cx="342" cy="50.4" r="1.1" fill="#222"/><circle cx="363.5" cy="57" r="1.1" fill="#222"/><circle cx="384" cy="54" r="1.1" fill="#222"/><circle cx="404" cy="51.5" r="1.1" fill="#222"/><circle cx="424" cy="50.3" r="1.1" fill="#222"/><circle cx="444.5" cy="51.5" r="1.1" fill="#222"/>
<line x1="250.7" y1="134" x2="454.7" y2="134" stroke="#c9c9c9" stroke-width="0.45" />
<line x1="250.7" y1="129.31" x2="454.7" y2="129.31" stroke="#c9c9c9" stroke-width="0.45" />
<line x1="250.7" y1="124.61" x2="454.7" y2="124.61" stroke="#c9c9c9" stroke-width="0.45" />
<line x1="250.7" y1="119.92" x2="454.7" y2="119.92" stroke="#c9c9c9" stroke-width="0.45" />
<line x1="250.7" y1="115.22" x2="454.7" y2="115.22" stroke="#c9c9c9" stroke-width="0.45" />
<line x1="250.7" y1="110.53" x2="454.7" y2="110.53" stroke="#c9c9c9" stroke-width="0.45" />
<line x1="250.7" y1="105.83" x2="454.7" y2="105.83" stroke="#c9c9c9" stroke-width="0.45" />
<line x1="250.7" y1="101.14" x2="454.7" y2="101.14" stroke="#c9c9c9" stroke-width="0.45" />
<line x1="250.7" y1="96.44" x2="454.7" y2="96.44" stroke="#c9c9c9" stroke-width="0.45" />
<line x1="250.7" y1="91.75" x2="454.7" y2="91.75" stroke="#c9c9c9" stroke-width="0.45" />
<line x1="250.7" y1="87.05" x2="454.7" y2="87.05" stroke="#c9c9c9" stroke-width="0.45" />
<line x1="250.7" y1="82.36" x2="454.7" y2="82.36" stroke="#c9c9c9" stroke-width="0.45" />
<line x1="250.7" y1="77.66" x2="454.7" y2="77.66" stroke="#c9c9c9" stroke-width="0.45" />
<line x1="250.7" y1="72.97" x2="454.7" y2="72.97" stroke="#c9c9c9" stroke-width="0.45" />
<line x1="250.7" y1="68.27" x2="454.7" y2="68.27" stroke="#c9c9c9" stroke-width="0.45" />
<line x1="250.7" y1="63.58" x2="454.7" y2="63.58" stroke="#c9c9c9" stroke-width="0.45" />
<line x1="250.7" y1="63" x2="250.7" y2="138.7" stroke="#222" stroke-width="0.8" />
<line x1="250.7" y1="138.7" x2="454.7" y2="138.7" stroke="#222" stroke-width="0.8" />
<line x1="249.4" y1="138.7" x2="250.7" y2="138.7" stroke="#222" stroke-width="0.5" />
<text x="245.3" y="140.05" font-size="3.8" fill="#333" text-anchor="end" font-weight="normal" font-style="normal"  stroke="#333" stroke-width="0.2">0</text>
<line x1="249.4" y1="129.31" x2="250.7" y2="129.31" stroke="#222" stroke-width="0.5" />
<text x="245.3" y="130.66" font-size="3.8" fill="#333" text-anchor="end" font-weight="normal" font-style="normal"  stroke="#333" stroke-width="0.2">10</text>
<line x1="249.4" y1="119.92" x2="250.7" y2="119.92" stroke="#222" stroke-width="0.5" />
<text x="245.3" y="121.27" font-size="3.8" fill="#333" text-anchor="end" font-weight="normal" font-style="normal"  stroke="#333" stroke-width="0.2">20</text>
<line x1="249.4" y1="110.53" x2="250.7" y2="110.53" stroke="#222" stroke-width="0.5" />
<text x="245.3" y="111.88" font-size="3.8" fill="#333" text-anchor="end" font-weight="normal" font-style="normal"  stroke="#333" stroke-width="0.2">30</text>
<line x1="249.4" y1="101.14" x2="250.7" y2="101.14" stroke="#222" stroke-width="0.5" />
<text x="245.3" y="102.49" font-size="3.8" fill="#333" text-anchor="end" font-weight="normal" font-style="normal"  stroke="#333" stroke-width="0.2">40</text>
<line x1="249.4" y1="91.75" x2="250.7" y2="91.75" stroke="#222" stroke-width="0.5" />
<text x="245.3" y="93.1" font-size="3.8" fill="#333" text-anchor="end" font-weight="normal" font-style="normal"  stroke="#333" stroke-width="0.2">50</text>
<line x1="249.4" y1="82.36" x2="250.7" y2="82.36" stroke="#222" stroke-width="0.5" />
<text x="245.3" y="83.71" font-size="3.8" fill="#333" text-anchor="end" font-weight="normal" font-style="normal"  stroke="#333" stroke-width="0.2">60</text>
<line x1="249.4" y1="72.97" x2="250.7" y2="72.97" stroke="#222" stroke-width="0.5" />
<text x="245.3" y="74.32" font-size="3.8" fill="#333" text-anchor="end" font-weight="normal" font-style="normal"  stroke="#333" stroke-width="0.2">70</text>
<line x1="249.4" y1="63.58" x2="250.7" y2="63.58" stroke="#222" stroke-width="0.5" />
<text x="245.3" y="64.93" font-size="3.8" fill="#333" text-anchor="end" font-weight="normal" font-style="normal"  stroke="#333" stroke-width="0.2">80</text>
<line x1="261" y1="138.7" x2="261" y2="141.1" stroke="#222" stroke-width="0.6" />
<line x1="281" y1="138.7" x2="281" y2="141.1" stroke="#222" stroke-width="0.6" />
<line x1="301.5" y1="138.7" x2="301.5" y2="141.1" stroke="#222" stroke-width="0.6" />
<line x1="322" y1="138.7" x2="322" y2="141.1" stroke="#222" stroke-width="0.6" />
<line x1="342" y1="138.7" x2="342" y2="141.1" stroke="#222" stroke-width="0.6" />
<line x1="363.5" y1="138.7" x2="363.5" y2="141.1" stroke="#222" stroke-width="0.6" />
<line x1="384" y1="138.7" x2="384" y2="141.1" stroke="#222" stroke-width="0.6" />
<line x1="404" y1="138.7" x2="404" y2="141.1" stroke="#222" stroke-width="0.6" />
<line x1="424" y1="138.7" x2="424" y2="141.1" stroke="#222" stroke-width="0.6" />
<line x1="444.5" y1="138.7" x2="444.5" y2="141.1" stroke="#222" stroke-width="0.6" />
<text x="261" y="148" font-size="4.3" fill="#222" text-anchor="middle" font-weight="normal" font-style="normal"  stroke="#222" stroke-width="0.2">12-2003</text>
<text x="281" y="148" font-size="4.3" fill="#222" text-anchor="middle" font-weight="normal" font-style="normal"  stroke="#222" stroke-width="0.2">12-2004</text>
<text x="301.5" y="148" font-size="4.3" fill="#222" text-anchor="middle" font-weight="normal" font-style="normal"  stroke="#222" stroke-width="0.2">01-2010</text>
<text x="322" y="148" font-size="4.3" fill="#222" text-anchor="middle" font-weight="normal" font-style="normal"  stroke="#222" stroke-width="0.2">11-2011</text>
<text x="342" y="148" font-size="4.3" fill="#222" text-anchor="middle" font-weight="normal" font-style="normal"  stroke="#222" stroke-width="0.2">05-2012</text>
<text x="363.5" y="148" font-size="4.3" fill="#222" text-anchor="middle" font-weight="normal" font-style="normal"  stroke="#222" stroke-width="0.2">09-2012</text>
<text x="384" y="148" font-size="4.3" fill="#222" text-anchor="middle" font-weight="normal" font-style="normal"  stroke="#222" stroke-width="0.2">04-2013</text>
<text x="404" y="148" font-size="4.3" fill="#222" text-anchor="middle" font-weight="normal" font-style="normal"  stroke="#222" stroke-width="0.2">10-2013</text>
<text x="424" y="148" font-size="4.3" fill="#222" text-anchor="middle" font-weight="normal" font-style="normal"  stroke="#222" stroke-width="0.2">01-2014</text>
<text x="444.5" y="148" font-size="4.3" fill="#222" text-anchor="middle" font-weight="normal" font-style="normal"  stroke="#222" stroke-width="0.2">04-2014</text>
<text x="236" y="100.85" font-size="5.6" fill="#333" text-anchor="middle" font-weight="normal" font-style="normal" transform="rotate(-90 236 100.85)"  stroke="#333" stroke-width="0.2">Variant allele frequency [%]</text>
<polyline points="261,137.2 281,138.2 301.5,137.6 322,135.5 342,133.5 363.5,136.1 384,128.3 404,129.3 424,131.4 444.5,131.8" fill="none" stroke="#f08050" stroke-width="0.5" stroke-linejoin="round" stroke-linecap="butt" />
<polyline points="261,131 281,128.3 301.5,108 322,103.5 342,100.3 363.5,119 384,101 404,95.2 424,97 444.5,97" fill="none" stroke="#f8c080" stroke-width="1.4" stroke-linejoin="round" stroke-linecap="butt" />
<polyline points="261,138.5 281,138.5 301.5,119 322,110.7 342,109.6 363.5,127 384,112 404,107 424,108 444.5,110" fill="none" stroke="#f0b0f0" stroke-width="0.5" stroke-linejoin="round" stroke-linecap="butt" />
<polyline points="261,138.5 281,138.5 301.5,114 322,112 342,110 363.5,128 384,111 404,106 424,106 444.5,108" fill="none" stroke="#e8a0f0" stroke-width="0.5" stroke-linejoin="round" stroke-linecap="butt" />
<polyline points="261,138.5 281,138.5 301.5,110.7 322,108.6 342,106.6 363.5,130.3 384,109.7 404,104.5 424,104.1 444.5,106.6" fill="none" stroke="#d878e8" stroke-width="1.8" stroke-linejoin="round" stroke-linecap="butt" />
<polyline points="261,93.1 281,87.9 301.5,84.4 322,89 342,84.4 363.5,109.7 384,91 404,86.5 424,87.9 444.5,87.5" fill="none" stroke="#6060e0" stroke-width="0.5" stroke-linejoin="round" stroke-linecap="butt" />
<circle cx="261" cy="93.1" r="0.5" fill="#6060e0"/><circle cx="281" cy="87.9" r="0.5" fill="#6060e0"/><circle cx="301.5" cy="84.4" r="0.5" fill="#6060e0"/><circle cx="322" cy="89" r="0.5" fill="#6060e0"/><circle cx="342" cy="84.4" r="0.5" fill="#6060e0"/><circle cx="363.5" cy="109.7" r="0.5" fill="#6060e0"/><circle cx="384" cy="91" r="0.5" fill="#6060e0"/><circle cx="404" cy="86.5" r="0.5" fill="#6060e0"/><circle cx="424" cy="87.9" r="0.5" fill="#6060e0"/><circle cx="444.5" cy="87.5" r="0.5" fill="#6060e0"/>
<polyline points="261,112.8 281,104.5 301.5,102.4 322,102.4 342,99.3 363.5,123 384,106 404,100 424,103 444.5,103" fill="none" stroke="#6060e0" stroke-width="0.5" stroke-linejoin="round" stroke-linecap="butt" />
<circle cx="261" cy="112.8" r="0.5" fill="#6060e0"/><circle cx="281" cy="104.5" r="0.5" fill="#6060e0"/><circle cx="301.5" cy="102.4" r="0.5" fill="#6060e0"/><circle cx="322" cy="102.4" r="0.5" fill="#6060e0"/><circle cx="342" cy="99.3" r="0.5" fill="#6060e0"/><circle cx="363.5" cy="123" r="0.5" fill="#6060e0"/><circle cx="384" cy="106" r="0.5" fill="#6060e0"/><circle cx="404" cy="100" r="0.5" fill="#6060e0"/><circle cx="424" cy="103" r="0.5" fill="#6060e0"/><circle cx="444.5" cy="103" r="0.5" fill="#6060e0"/>
<polyline points="261,97 281,95 301.5,91 322,96 342,93 363.5,117 384,99 404,95 424,97 444.5,97" fill="none" stroke="#4040d8" stroke-width="0.5" stroke-linejoin="round" stroke-linecap="butt" />
<polyline points="261,104 281,101 301.5,98 322,101 342,99 363.5,122 384,104 404,99 424,101 444.5,101" fill="none" stroke="#4040d8" stroke-width="0.5" stroke-linejoin="round" stroke-linecap="butt" />
<polyline points="261,106.5 281,102 301.5,99.5 322,102 342,100.5 363.5,124 384,106 404,101 424,102 444.5,101.5" fill="none" stroke="#5050e0" stroke-width="0.5" stroke-linejoin="round" stroke-linecap="butt" />
<polyline points="261,99 281,96.5 301.5,93.5 322,97.5 342,95 363.5,118 384,101.5 404,95 424,98 444.5,97.5" fill="none" stroke="#3030d0" stroke-width="1.2" stroke-linejoin="round" stroke-linecap="butt" />
<polyline points="261,102 281,100 301.5,97 322,101 342,98 363.5,121 384,104.5 404,98.5 424,101.5 444.5,101" fill="none" stroke="#2020c8" stroke-width="1.2" stroke-linejoin="round" stroke-linecap="butt" />
<polyline points="261,100.8 281,98.3 301.5,95.8 322,99.9 342,96.8 363.5,120 384,103.5 404,96.8 424,100.3 444.5,99.3" fill="none" stroke="#1010c0" stroke-width="2.6" stroke-linejoin="round" stroke-linecap="butt" />
<polyline points="261,99.3 281,97.9 301.5,94.1 322,97.2 342,93.1 363.5,115.9 384,101.4 404,93.1 424,93.5 444.5,96.2" fill="none" stroke="#e8e840" stroke-width="1.6" stroke-dasharray="2.5,1.8" stroke-linejoin="round" stroke-linecap="butt" />
<polyline points="261,137.2 281,138.2 301.5,137.6 322,135.5 342,133.5 363.5,136.1 384,128.3 404,129.3 424,131.4 444.5,131.8" fill="none" stroke="#e86020" stroke-width="1.8" stroke-linejoin="round" stroke-linecap="butt" />
<line x1="259.3" y1="68.3" x2="269.7" y2="68.3" stroke="#222" stroke-width="0.8" />
<line x1="259.3" y1="67" x2="259.3" y2="69.6" stroke="#222" stroke-width="0.7" />
<line x1="269.7" y1="67" x2="269.7" y2="69.6" stroke="#222" stroke-width="0.7" />
<text x="265.5" y="64.8" font-size="5" fill="#333" text-anchor="middle" font-weight="normal" font-style="normal"  stroke="#333" stroke-width="0.2">Pyridoxin</text>
<line x1="274.4" y1="75.5" x2="295.5" y2="75.5" stroke="#222" stroke-width="0.8" />
<line x1="274.4" y1="74.2" x2="274.4" y2="76.8" stroke="#222" stroke-width="0.7" />
<line x1="295.5" y1="74.2" x2="295.5" y2="76.8" stroke="#222" stroke-width="0.7" />
<text x="0" y="0" font-size="5" fill="#333" text-anchor="middle" font-weight="normal" font-style="normal"  stroke="#333" stroke-width="0.2"></text>
<text x="284.5" y="67.8" font-size="5" fill="#333" text-anchor="middle" font-weight="normal" font-style="normal"  stroke="#333" stroke-width="0.2">Neo-</text>
<text x="285" y="73.2" font-size="5" fill="#333" text-anchor="middle" font-weight="normal" font-style="normal"  stroke="#333" stroke-width="0.2">Recormon</text>
<text x="307.5" y="64.8" font-size="5" fill="#333" text-anchor="middle" font-weight="normal" font-style="normal"  stroke="#333" stroke-width="0.2">Valproic</text>
<text x="307.5" y="70.8" font-size="5" fill="#333" text-anchor="middle" font-weight="normal" font-style="normal"  stroke="#333" stroke-width="0.2">acid</text>
<line x1="299.7" y1="71.5" x2="298.8" y2="81.5" stroke="#222" stroke-width="0.6" />
<polygon points="297.4,80 300.2,80 298.8,83.2" fill="#222"/>
<text x="317.5" y="77" font-size="5" fill="#333" text-anchor="middle" font-weight="normal" font-style="normal"  stroke="#333" stroke-width="0.2">Darbepoetin/</text>
<text x="317" y="83" font-size="5" fill="#333" text-anchor="middle" font-weight="normal" font-style="normal"  stroke="#333" stroke-width="0.2">Neupogen</text>
<line x1="308" y1="85.5" x2="318" y2="85.5" stroke="#222" stroke-width="0.8" />
<line x1="308" y1="84.2" x2="308" y2="86.8" stroke="#222" stroke-width="0.7" />
<line x1="318" y1="84.2" x2="318" y2="86.8" stroke="#222" stroke-width="0.7" />
<text x="0" y="0" font-size="5" fill="#333" text-anchor="middle" font-weight="normal" font-style="normal"  stroke="#333" stroke-width="0.2"></text>
<line x1="347.2" y1="84.8" x2="373.7" y2="84.8" stroke="#222" stroke-width="0.8" />
<line x1="347.2" y1="83.5" x2="347.2" y2="86.1" stroke="#222" stroke-width="0.7" />
<line x1="373.7" y1="83.5" x2="373.7" y2="86.1" stroke="#222" stroke-width="0.7" />
<text x="360.5" y="80.8" font-size="4.8" fill="#333" text-anchor="middle" font-weight="normal" font-style="normal"  stroke="#333" stroke-width="0.2">Lenalidomide</text>
<line x1="405.8" y1="82.8" x2="425.5" y2="82.8" stroke="#222" stroke-width="0.8" />
<line x1="405.8" y1="81.5" x2="405.8" y2="84.1" stroke="#222" stroke-width="0.7" />
<line x1="425.5" y1="81.5" x2="425.5" y2="84.1" stroke="#222" stroke-width="0.7" />
<text x="415.6" y="78.8" font-size="4.8" fill="#333" text-anchor="middle" font-weight="normal" font-style="normal"  stroke="#333" stroke-width="0.2">APG-101</text>
<line x1="448.3" y1="73.5" x2="454.3" y2="73.5" stroke="#1010c0" stroke-width="2.2" />
<text x="458" y="74.95" font-size="4.1" fill="#333" text-anchor="start" font-weight="normal" font-style="normal"  stroke="#333" stroke-width="0.2">IDH2 R140Q</text>
<line x1="448.3" y1="80.5" x2="454.3" y2="80.5" stroke="#e8e840" stroke-width="2.2" stroke-dasharray="2,1"/>
<text x="458" y="81.95" font-size="4.1" fill="#333" text-anchor="start" font-weight="normal" font-style="normal"  stroke="#333" stroke-width="0.2">SRSF2 P95H</text>
<line x1="448.3" y1="87.5" x2="454.3" y2="87.5" stroke="#f8c080" stroke-width="2.2" />
<text x="458" y="88.95" font-size="4.1" fill="#333" text-anchor="start" font-weight="normal" font-style="normal"  stroke="#333" stroke-width="0.2">SPEG D1241E</text>
<line x1="448.3" y1="95" x2="454.3" y2="95" stroke="#e090f0" stroke-width="2.2" />
<text x="458" y="96.45" font-size="4.1" fill="#333" text-anchor="start" font-weight="normal" font-style="normal"  stroke="#333" stroke-width="0.2">BRCC3 T136fs*</text>
<line x1="448.3" y1="102.5" x2="454.3" y2="102.5" stroke="#e86020" stroke-width="2.2" />
<text x="458" y="103.95" font-size="4.1" fill="#333" text-anchor="start" font-weight="normal" font-style="normal"  stroke="#333" stroke-width="0.2">NF1 E76fs</text>
<line x1="295" y1="151.8" x2="308.5" y2="151.8" stroke="#d04040" stroke-width="0.9" />
<line x1="418" y1="151.8" x2="431" y2="151.8" stroke="#d04040" stroke-width="0.9" />
<text x="233" y="162.1" font-size="4" fill="#111" text-anchor="middle" font-weight="bold" font-style="normal" >WHO</text>
<polygon points="247,155.5 297,155.5 299.75,160.5 297,165.5 247,165.5" fill="#e2ebc6" stroke="#888" stroke-width="0.5" stroke-linejoin="round"/>
<polygon points="297,155.5 458.7,155.5 461.45,160.5 458.7,165.5 297,165.5 299.75,160.5" fill="#e8cfd0" stroke="#888" stroke-width="0.5" stroke-linejoin="round"/>
<text x="272" y="162" font-size="4.3" fill="#222" text-anchor="middle" font-weight="bold" font-style="normal" >RCMD</text>
<text x="379.23" y="162" font-size="4.3" fill="#222" text-anchor="middle" font-weight="bold" font-style="normal" >RAEB-I</text>
<path d="M245.5,218 C245.63,215.83 245.72,209.67 246.3,205 C246.88,200.33 247.88,194.5 249,190 C250.12,185.5 251.33,181 253,178 C254.67,175 256.5,173.42 259,172 C261.5,170.58 264.5,170 268,169.5 C271.5,169 276,168.97 280,169 C284,169.03 287.83,169.37 292,169.7 C296.17,170.03 300.33,170.3 305,171 C309.67,171.7 315.75,173.87 320,173.9 C324.25,173.93 326.98,171.87 330.5,171.2 C334.02,170.53 338.02,168.8 341.1,169.9 C344.18,171 346.37,173.85 349,177.8 C351.63,181.75 354.48,190.17 356.9,193.6 C359.32,197.03 361.3,197.95 363.5,198.4 C365.7,198.85 367.9,198.42 370.1,196.3 C372.3,194.18 374.07,189.43 376.7,185.7 C379.33,181.97 382.17,176.53 385.9,173.9 C389.63,171.27 392.5,170.35 399.1,169.9 C405.7,169.45 417.58,170.77 425.5,171.2 C433.42,171.63 443.08,172.28 446.6,172.5 L446.6,264.8 C443.08,264.8 432.53,264.8 425.5,264.8 C418.47,264.8 410.55,265.23 404.4,264.8 C398.25,264.37 393,264.38 388.6,262.2 C384.2,260.02 380.87,255.43 378,251.7 C375.13,247.97 373.6,242.35 371.4,239.8 C369.2,237.25 366.77,236.83 364.8,236.4 C362.83,235.97 361.8,235.53 359.6,237.2 C357.4,238.87 354.25,242.45 351.6,246.4 C348.95,250.35 346.77,258.05 343.7,260.9 C340.63,263.75 337.15,262.83 333.2,263.5 C329.25,264.17 324.7,264.4 320,264.9 C315.3,265.4 309.67,266.15 305,266.5 C300.33,266.85 296.17,267.08 292,267 C287.83,266.92 284.5,266.67 280,266 C275.5,265.33 269.17,264.33 265,263 C260.83,261.67 257.67,260.5 255,258 C252.33,255.5 250.45,252.33 249,248 C247.55,243.67 246.88,237 246.3,232 C245.72,227 245.63,220.33 245.5,218 Z" fill="#2c6cb6" stroke="#1b3672" stroke-width="1.8" stroke-linejoin="round" />
<path d="M248.9,218 C249.43,217.33 251.02,215.5 252.1,214 C253.18,212.5 254.05,210.23 255.4,209 C256.75,207.77 258.05,207.27 260.2,206.6 C262.35,205.93 265.58,205.53 268.3,205 C271.02,204.47 273.78,204.35 276.5,203.4 C279.22,202.45 282.18,201.07 284.6,199.3 C287.02,197.53 289.1,194.97 291,192.8 C292.9,190.63 294.1,188.32 296,186.3 C297.9,184.28 299.7,182.05 302.4,180.7 C305.1,179.35 309.27,178.87 312.2,178.2 C315.13,177.53 316.95,177.4 320,176.7 C323.05,176 326.98,174.65 330.5,174 C334.02,173.35 338.02,171.63 341.1,172.8 C344.18,173.97 346.37,177.13 349,181 C351.63,184.87 354.48,192.67 356.9,196 C359.32,199.33 361.3,200.5 363.5,201 C365.7,201.5 367.9,201.08 370.1,199 C372.3,196.92 374.07,192.23 376.7,188.5 C379.33,184.77 382.17,179.23 385.9,176.6 C389.63,173.97 392.5,173.13 399.1,172.7 C405.7,172.27 417.58,173.58 425.5,174 C433.42,174.42 443.08,175 446.6,175.2 L446.6,262.3 C443.08,262.3 432.53,262.3 425.5,262.3 C418.47,262.3 410.55,262.75 404.4,262.3 C398.25,261.85 393,261.82 388.6,259.6 C384.2,257.38 380.87,252.7 378,249 C375.13,245.3 373.6,239.9 371.4,237.4 C369.2,234.9 366.77,234.43 364.8,234 C362.83,233.57 361.8,233.18 359.6,234.8 C357.4,236.42 354.25,239.8 351.6,243.7 C348.95,247.6 346.77,255.32 343.7,258.2 C340.63,261.08 337.15,260.7 333.2,261 C329.25,261.3 323.5,260.27 320,260 C316.5,259.73 315.13,259.78 312.2,259.4 C309.27,259.02 305.1,258.52 302.4,257.7 C299.7,256.88 297.9,256.12 296,254.5 C294.1,252.88 292.9,250.43 291,248 C289.1,245.57 287.02,241.93 284.6,239.9 C282.18,237.87 279.22,236.88 276.5,235.8 C273.78,234.72 271.02,234.33 268.3,233.4 C265.58,232.47 262.35,231.27 260.2,230.2 C258.05,229.13 256.75,228.37 255.4,227 C254.05,225.63 253.18,223.5 252.1,222 C251.02,220.5 249.43,218.67 248.9,218 Z" fill="#f9c48e" stroke="#4a2050" stroke-width="0.5" stroke-linejoin="round" />
<path d="M290.2,218 C290.48,217.58 291.35,217.27 291.9,215.5 C292.45,213.73 293.1,210.9 293.5,207.4 C293.9,203.9 293.88,197.73 294.3,194.5 C294.72,191.27 295.05,189.77 296,188 C296.95,186.23 297.85,184.98 300,183.9 C302.15,182.82 305.57,182.27 308.9,181.5 C312.23,180.73 315.52,179.97 320,179.3 C324.48,178.63 331.85,177.5 335.8,177.5 C339.75,177.5 341.07,177.48 343.7,179.3 C346.33,181.12 348.95,184.92 351.6,188.4 C354.25,191.88 357.4,197.57 359.6,200.2 C361.8,202.83 362.83,203.97 364.8,204.2 C366.77,204.43 369.2,203.8 371.4,201.6 C373.6,199.4 375.58,194.75 378,191 C380.42,187.25 382.38,181.52 385.9,179.1 C389.42,176.68 392.5,176.72 399.1,176.5 C405.7,176.28 417.58,177.37 425.5,177.8 C433.42,178.23 443.08,178.88 446.6,179.1 L446.6,260.1 C439.57,260.1 414.07,260.63 404.4,260.1 C394.73,259.57 393,259.18 388.6,256.9 C384.2,254.62 380.87,250.13 378,246.4 C375.13,242.67 373.6,237.05 371.4,234.5 C369.2,231.95 366.77,231.4 364.8,231.1 C362.83,230.8 361.8,231.03 359.6,232.7 C357.4,234.37 354.25,237.5 351.6,241.1 C348.95,244.7 346.77,251.43 343.7,254.3 C340.63,257.17 337.15,257.93 333.2,258.3 C329.25,258.67 323.5,257 320,256.5 C316.5,256 315.13,255.77 312.2,255.3 C309.27,254.83 304.83,254.52 302.4,253.7 C299.97,252.88 298.82,252.17 297.6,250.4 C296.38,248.63 295.78,246.47 295.1,243.1 C294.42,239.73 294.03,233.98 293.5,230.2 C292.97,226.42 292.45,222.43 291.9,220.4 C291.35,218.37 290.48,218.4 290.2,218 Z" fill="#d65ea8" stroke="#4a2050" stroke-width="0.5" stroke-linejoin="round" />
<path d="M296,218 C296.8,217.87 298.65,217.62 300.8,217.2 C302.95,216.78 306.2,215.98 308.9,215.5 C311.6,215.02 314.48,214.62 317,214.3 C319.52,213.98 320.87,213.97 324,213.6 C327.13,213.23 331.63,212.13 335.8,212.1 C339.97,212.07 344.6,212.97 349,213.4 C353.4,213.83 358.25,215.13 362.2,214.7 C366.15,214.27 368.75,212.12 372.7,210.8 C376.65,209.48 380.62,207.37 385.9,206.8 C391.18,206.23 397.8,207.05 404.4,207.4 C411,207.75 418.47,208.55 425.5,208.9 C432.53,209.25 443.08,209.4 446.6,209.5 L446.6,226.6 C443.08,226.82 432.53,227.47 425.5,227.9 C418.47,228.33 411,229.2 404.4,229.2 C397.8,229.2 391.18,228.77 385.9,227.9 C380.62,227.03 376.65,225.1 372.7,224 C368.75,222.9 366.15,221.43 362.2,221.3 C358.25,221.17 353.4,222.75 349,223.2 C344.6,223.65 339.97,224.15 335.8,224 C331.63,223.85 327.13,222.68 324,222.3 C320.87,221.92 319.52,221.97 317,221.7 C314.48,221.43 311.6,221.13 308.9,220.7 C306.2,220.27 302.95,219.55 300.8,219.1 C298.65,218.65 296.8,218.18 296,218 Z" fill="#ee6524" stroke="#4a2050" stroke-width="0.5" stroke-linejoin="round" />
<rect x="446.8" y="165" width="4" height="105" fill="#fff" />
<polygon points="244.5,214.7 245.37,216.8 247.64,216.98 245.91,218.46 246.44,220.67 244.5,219.49 242.56,220.67 243.09,218.46 241.36,216.98 243.63,216.8" fill="#c0203a"/>
<text x="270.8" y="189" font-size="6.1" fill="#1a2250" text-anchor="middle" font-weight="bold" font-style="italic" stroke="#1a2250" stroke-width="0.22">IDH2/</text>
<text x="270.8" y="196.3" font-size="6.1" fill="#1a2250" text-anchor="middle" font-weight="bold" font-style="italic" stroke="#1a2250" stroke-width="0.22">SRSF2</text>
<text x="272.5" y="220.8" font-size="6" fill="#3a2a10" text-anchor="middle" font-weight="bold" font-style="italic" stroke="#3a2a10" stroke-width="0.22">SPEG2</text>
<text x="314" y="201.5" font-size="6" fill="#4a1040" text-anchor="middle" font-weight="bold" font-style="italic" stroke="#4a1040" stroke-width="0.22">BRCC3</text>
<text x="389" y="220.5" font-size="6" fill="#3a1a0a" text-anchor="middle" font-weight="bold" font-style="italic" stroke="#3a1a0a" stroke-width="0.22">NF1</text>
<text x="6.9" y="296.5" font-size="11.8" fill="#111" text-anchor="start" font-weight="bold" font-style="normal" stroke="#111" stroke-width="0.3">C</text>
<text x="118" y="299.6" font-size="6.2" fill="#111" text-anchor="middle" font-weight="bold" font-style="normal" >P37</text>
<line x1="46.4" y1="304.1" x2="191.8" y2="304.1" stroke="#c9c9c9" stroke-width="0.45" />
<line x1="46.4" y1="306.98" x2="191.8" y2="306.98" stroke="#c9c9c9" stroke-width="0.45" />
<line x1="46.4" y1="309.87" x2="191.8" y2="309.87" stroke="#c9c9c9" stroke-width="0.45" />
<line x1="46.4" y1="312.75" x2="191.8" y2="312.75" stroke="#c9c9c9" stroke-width="0.45" />
<line x1="46.4" y1="315.63" x2="191.8" y2="315.63" stroke="#c9c9c9" stroke-width="0.45" />
<line x1="46.4" y1="318.52" x2="191.8" y2="318.52" stroke="#c9c9c9" stroke-width="0.45" />
<line x1="46.4" y1="321.4" x2="191.8" y2="321.4" stroke="#c9c9c9" stroke-width="0.45" />
<line x1="46.4" y1="302.6" x2="46.4" y2="321.9" stroke="#222" stroke-width="0.9" />
<line x1="191.8" y1="302.6" x2="191.8" y2="321.9" stroke="#222" stroke-width="1" />
<line x1="44.9" y1="304.1" x2="46.4" y2="304.1" stroke="#222" stroke-width="0.5" />
<line x1="191.8" y1="304.1" x2="193.8" y2="304.1" stroke="#222" stroke-width="0.6" />
<line x1="44.9" y1="306.98" x2="46.4" y2="306.98" stroke="#222" stroke-width="0.5" />
<line x1="191.8" y1="306.98" x2="193.8" y2="306.98" stroke="#222" stroke-width="0.6" />
<line x1="44.9" y1="309.87" x2="46.4" y2="309.87" stroke="#222" stroke-width="0.5" />
<line x1="191.8" y1="309.87" x2="193.8" y2="309.87" stroke="#222" stroke-width="0.6" />
<line x1="44.9" y1="312.75" x2="46.4" y2="312.75" stroke="#222" stroke-width="0.5" />
<line x1="191.8" y1="312.75" x2="193.8" y2="312.75" stroke="#222" stroke-width="0.6" />
<line x1="44.9" y1="315.63" x2="46.4" y2="315.63" stroke="#222" stroke-width="0.5" />
<line x1="191.8" y1="315.63" x2="193.8" y2="315.63" stroke="#222" stroke-width="0.6" />
<line x1="44.9" y1="318.52" x2="46.4" y2="318.52" stroke="#222" stroke-width="0.5" />
<line x1="191.8" y1="318.52" x2="193.8" y2="318.52" stroke="#222" stroke-width="0.6" />
<line x1="44.9" y1="321.4" x2="46.4" y2="321.4" stroke="#222" stroke-width="0.5" />
<line x1="191.8" y1="321.4" x2="193.8" y2="321.4" stroke="#222" stroke-width="0.6" />
<text x="41.9" y="307.4" font-size="3.3" fill="#444" text-anchor="end" font-weight="normal" font-style="normal"  stroke="#444" stroke-width="0.2">2.5</text>
<text x="41.9" y="313.4" font-size="3.3" fill="#444" text-anchor="end" font-weight="normal" font-style="normal"  stroke="#444" stroke-width="0.2">2.0</text>
<text x="41.9" y="319.5" font-size="3.3" fill="#444" text-anchor="end" font-weight="normal" font-style="normal"  stroke="#444" stroke-width="0.2">1.5</text>
<text x="197" y="307" font-size="3" fill="#444" text-anchor="middle" font-weight="normal" font-style="normal" transform="rotate(90 197 307)"  stroke="#444" stroke-width="0.2">15</text>
<text x="197" y="313" font-size="3" fill="#444" text-anchor="middle" font-weight="normal" font-style="normal" transform="rotate(90 197 313)"  stroke="#444" stroke-width="0.2">10</text>
<text x="197" y="319" font-size="3" fill="#444" text-anchor="middle" font-weight="normal" font-style="normal" transform="rotate(90 197 319)"  stroke="#444" stroke-width="0.2">5</text>
<line x1="46.4" y1="326.4" x2="191.8" y2="326.4" stroke="#c9c9c9" stroke-width="0.45" />
<line x1="46.4" y1="328.67" x2="191.8" y2="328.67" stroke="#c9c9c9" stroke-width="0.45" />
<line x1="46.4" y1="330.93" x2="191.8" y2="330.93" stroke="#c9c9c9" stroke-width="0.45" />
<line x1="46.4" y1="333.2" x2="191.8" y2="333.2" stroke="#c9c9c9" stroke-width="0.45" />
<line x1="46.4" y1="335.47" x2="191.8" y2="335.47" stroke="#c9c9c9" stroke-width="0.45" />
<line x1="46.4" y1="337.73" x2="191.8" y2="337.73" stroke="#c9c9c9" stroke-width="0.45" />
<line x1="46.4" y1="340" x2="191.8" y2="340" stroke="#c9c9c9" stroke-width="0.45" />
<line x1="46.4" y1="324.9" x2="46.4" y2="340.5" stroke="#222" stroke-width="0.9" />
<line x1="191.8" y1="324.9" x2="191.8" y2="340.5" stroke="#222" stroke-width="1" />
<line x1="44.9" y1="326.4" x2="46.4" y2="326.4" stroke="#222" stroke-width="0.5" />
<line x1="191.8" y1="326.4" x2="193.8" y2="326.4" stroke="#222" stroke-width="0.6" />
<line x1="44.9" y1="328.67" x2="46.4" y2="328.67" stroke="#222" stroke-width="0.5" />
<line x1="191.8" y1="328.67" x2="193.8" y2="328.67" stroke="#222" stroke-width="0.6" />
<line x1="44.9" y1="330.93" x2="46.4" y2="330.93" stroke="#222" stroke-width="0.5" />
<line x1="191.8" y1="330.93" x2="193.8" y2="330.93" stroke="#222" stroke-width="0.6" />
<line x1="44.9" y1="333.2" x2="46.4" y2="333.2" stroke="#222" stroke-width="0.5" />
<line x1="191.8" y1="333.2" x2="193.8" y2="333.2" stroke="#222" stroke-width="0.6" />
<line x1="44.9" y1="335.47" x2="46.4" y2="335.47" stroke="#222" stroke-width="0.5" />
<line x1="191.8" y1="335.47" x2="193.8" y2="335.47" stroke="#222" stroke-width="0.6" />
<line x1="44.9" y1="337.73" x2="46.4" y2="337.73" stroke="#222" stroke-width="0.5" />
<line x1="191.8" y1="337.73" x2="193.8" y2="337.73" stroke="#222" stroke-width="0.6" />
<line x1="44.9" y1="340" x2="46.4" y2="340" stroke="#222" stroke-width="0.5" />
<line x1="191.8" y1="340" x2="193.8" y2="340" stroke="#222" stroke-width="0.6" />
<text x="41.9" y="329.1" font-size="3.3" fill="#444" text-anchor="end" font-weight="normal" font-style="normal"  stroke="#444" stroke-width="0.2">9.0</text>
<text x="41.9" y="333.7" font-size="3.3" fill="#444" text-anchor="end" font-weight="normal" font-style="normal"  stroke="#444" stroke-width="0.2">8.5</text>
<text x="41.9" y="338.8" font-size="3.3" fill="#444" text-anchor="end" font-weight="normal" font-style="normal"  stroke="#444" stroke-width="0.2">8.0</text>
<text x="197" y="328" font-size="3" fill="#444" text-anchor="middle" font-weight="normal" font-style="normal" transform="rotate(90 197 328)"  stroke="#444" stroke-width="0.2">300</text>
<text x="197" y="333" font-size="3" fill="#444" text-anchor="middle" font-weight="normal" font-style="normal" transform="rotate(90 197 333)"  stroke="#444" stroke-width="0.2">200</text>
<text x="197" y="338" font-size="3" fill="#444" text-anchor="middle" font-weight="normal" font-style="normal" transform="rotate(90 197 338)"  stroke="#444" stroke-width="0.2">100</text>
<text x="24.21" y="312.5" font-size="6.14" fill="#5050b0" text-anchor="middle" font-weight="normal" font-style="normal" transform="rotate(-90 24.21 312.5)"  textLength="11.9" lengthAdjust="spacingAndGlyphs">WBC</text>
<text x="32.21" y="312.5" font-size="6.14" fill="#5050b0" text-anchor="middle" font-weight="normal" font-style="normal" transform="rotate(-90 32.21 312.5)"  textLength="19.72" lengthAdjust="spacingAndGlyphs">[10E9/L]</text>
<text x="24.21" y="331.5" font-size="6.14" fill="#b04040" text-anchor="middle" font-weight="normal" font-style="normal" transform="rotate(-90 24.21 331.5)"  textLength="7.25" lengthAdjust="spacingAndGlyphs">Hb</text>
<text x="32.21" y="331.5" font-size="6.14" fill="#b04040" text-anchor="middle" font-weight="normal" font-style="normal" transform="rotate(-90 32.21 331.5)"  textLength="12.65" lengthAdjust="spacingAndGlyphs">[g/dl]</text>
<text x="215.79" y="311.5" font-size="6.14" fill="#9a50b0" text-anchor="middle" font-weight="normal" font-style="normal" transform="rotate(90 215.79 311.5)"  textLength="15.53" lengthAdjust="spacingAndGlyphs">CD34+</text>
<text x="208.29" y="311.5" font-size="6.14" fill="#9a50b0" text-anchor="middle" font-weight="normal" font-style="normal" transform="rotate(90 208.29 311.5)"  textLength="9.39" lengthAdjust="spacingAndGlyphs">[%]</text>
<text x="215.79" y="333" font-size="6.14" fill="#222" text-anchor="middle" font-weight="normal" font-style="normal" transform="rotate(90 215.79 333)"  textLength="9.39" lengthAdjust="spacingAndGlyphs">PLT</text>
<text x="208.29" y="333" font-size="6.14" fill="#222" text-anchor="middle" font-weight="normal" font-style="normal" transform="rotate(90 208.29 333)"  textLength="20.74" lengthAdjust="spacingAndGlyphs">[10E9/L]</text>
<polyline points="64.5,315.9 101,318.3 137.5,306.25 174,314.25" fill="none" stroke="#3a3ab8" stroke-width="0.6" stroke-linejoin="round" stroke-linecap="butt" />
<circle cx="64.5" cy="315.9" r="1.15" fill="#3a3ab8"/><circle cx="101" cy="318.3" r="1.15" fill="#3a3ab8"/><circle cx="137.5" cy="306.25" r="1.15" fill="#3a3ab8"/><circle cx="174" cy="314.25" r="1.15" fill="#3a3ab8"/>
<polyline points="64.5,304.7 101,318.3 137.5,319.25" fill="none" stroke="#9a3ab0" stroke-width="0.6" stroke-linejoin="round" stroke-linecap="butt" />
<circle cx="64.5" cy="304.7" r="1.15" fill="#9a3ab0"/><circle cx="101" cy="318.3" r="1.15" fill="#9a3ab0"/><circle cx="137.5" cy="319.25" r="1.15" fill="#9a3ab0"/>
<polyline points="64.5,327 101,334.6 137.5,327 174,340.75" fill="none" stroke="#b03a3a" stroke-width="0.6" stroke-linejoin="round" stroke-linecap="butt" />
<circle cx="64.5" cy="327" r="1.15" fill="#b03a3a"/><circle cx="101" cy="334.6" r="1.15" fill="#b03a3a"/><circle cx="137.5" cy="327" r="1.15" fill="#b03a3a"/><circle cx="174" cy="340.75" r="1.15" fill="#b03a3a"/>
<polyline points="64.5,326.4 101,331.9 137.5,337.5 174,340.75" fill="none" stroke="#222" stroke-width="0.6" stroke-linejoin="round" stroke-linecap="butt" />
<circle cx="64.5" cy="326.4" r="1.15" fill="#222"/><circle cx="101" cy="331.9" r="1.15" fill="#222"/><circle cx="137.5" cy="337.5" r="1.15" fill="#222"/><circle cx="174" cy="340.75" r="1.15" fill="#222"/>
<line x1="46.4" y1="420.5" x2="191.8" y2="420.5" stroke="#c9c9c9" stroke-width="0.45" />
<line x1="46.4" y1="412.8" x2="191.8" y2="412.8" stroke="#c9c9c9" stroke-width="0.45" />
<line x1="46.4" y1="405.1" x2="191.8" y2="405.1" stroke="#c9c9c9" stroke-width="0.45" />
<line x1="46.4" y1="397.4" x2="191.8" y2="397.4" stroke="#c9c9c9" stroke-width="0.45" />
<line x1="46.4" y1="389.7" x2="191.8" y2="389.7" stroke="#c9c9c9" stroke-width="0.45" />
<line x1="46.4" y1="382" x2="191.8" y2="382" stroke="#c9c9c9" stroke-width="0.45" />
<line x1="46.4" y1="374.3" x2="191.8" y2="374.3" stroke="#c9c9c9" stroke-width="0.45" />
<line x1="46.4" y1="366.6" x2="191.8" y2="366.6" stroke="#c9c9c9" stroke-width="0.45" />
<line x1="46.4" y1="358.9" x2="191.8" y2="358.9" stroke="#c9c9c9" stroke-width="0.45" />
<line x1="46.4" y1="351.2" x2="191.8" y2="351.2" stroke="#c9c9c9" stroke-width="0.45" />
<line x1="46.4" y1="344" x2="46.4" y2="428.2" stroke="#222" stroke-width="0.8" />
<line x1="46.4" y1="428.2" x2="200.5" y2="428.2" stroke="#222" stroke-width="0.8" />
<line x1="45.1" y1="428.2" x2="46.4" y2="428.2" stroke="#222" stroke-width="0.5" />
<text x="41" y="429.55" font-size="3.8" fill="#333" text-anchor="end" font-weight="normal" font-style="normal"  stroke="#333" stroke-width="0.2">0</text>
<line x1="45.1" y1="412.8" x2="46.4" y2="412.8" stroke="#222" stroke-width="0.5" />
<text x="41" y="414.15" font-size="3.8" fill="#333" text-anchor="end" font-weight="normal" font-style="normal"  stroke="#333" stroke-width="0.2">10</text>
<line x1="45.1" y1="397.4" x2="46.4" y2="397.4" stroke="#222" stroke-width="0.5" />
<text x="41" y="398.75" font-size="3.8" fill="#333" text-anchor="end" font-weight="normal" font-style="normal"  stroke="#333" stroke-width="0.2">20</text>
<line x1="45.1" y1="382" x2="46.4" y2="382" stroke="#222" stroke-width="0.5" />
<text x="41" y="383.35" font-size="3.8" fill="#333" text-anchor="end" font-weight="normal" font-style="normal"  stroke="#333" stroke-width="0.2">30</text>
<line x1="45.1" y1="366.6" x2="46.4" y2="366.6" stroke="#222" stroke-width="0.5" />
<text x="41" y="367.95" font-size="3.8" fill="#333" text-anchor="end" font-weight="normal" font-style="normal"  stroke="#333" stroke-width="0.2">40</text>
<line x1="45.1" y1="351.2" x2="46.4" y2="351.2" stroke="#222" stroke-width="0.5" />
<text x="41" y="352.55" font-size="3.8" fill="#333" text-anchor="end" font-weight="normal" font-style="normal"  stroke="#333" stroke-width="0.2">50</text>
<line x1="64.5" y1="428.2" x2="64.5" y2="430.6" stroke="#222" stroke-width="0.6" />
<line x1="101" y1="428.2" x2="101" y2="430.6" stroke="#222" stroke-width="0.6" />
<line x1="137.5" y1="428.2" x2="137.5" y2="430.6" stroke="#222" stroke-width="0.6" />
<line x1="174" y1="428.2" x2="174" y2="430.6" stroke="#222" stroke-width="0.6" />
<line x1="195.5" y1="428.2" x2="195.5" y2="430.6" stroke="#222" stroke-width="0.6" />
<text x="64.5" y="437" font-size="4.3" fill="#222" text-anchor="middle" font-weight="normal" font-style="normal"  stroke="#222" stroke-width="0.2">08-2010</text>
<text x="64.5" y="441.3" font-size="4.3" fill="#222" text-anchor="middle" font-weight="normal" font-style="normal"  stroke="#222" stroke-width="0.2">(BM)</text>
<text x="101" y="437" font-size="4.3" fill="#222" text-anchor="middle" font-weight="normal" font-style="normal"  stroke="#222" stroke-width="0.2">10-2011</text>
<text x="101" y="441.3" font-size="4.3" fill="#222" text-anchor="middle" font-weight="normal" font-style="normal"  stroke="#222" stroke-width="0.2">(BM)</text>
<text x="137.5" y="437" font-size="4.3" fill="#222" text-anchor="middle" font-weight="normal" font-style="normal"  stroke="#222" stroke-width="0.2">10-2013</text>
<text x="137.5" y="441.3" font-size="4.3" fill="#222" text-anchor="middle" font-weight="normal" font-style="normal"  stroke="#222" stroke-width="0.2">(BM)</text>
<text x="174" y="437" font-size="4.3" fill="#222" text-anchor="middle" font-weight="normal" font-style="normal"  stroke="#222" stroke-width="0.2">06-2014</text>
<text x="174" y="441.3" font-size="4.3" fill="#222" text-anchor="middle" font-weight="normal" font-style="normal"  stroke="#222" stroke-width="0.2">(PB)</text>
<text x="31.5" y="386.1" font-size="5.6" fill="#333" text-anchor="middle" font-weight="normal" font-style="normal" transform="rotate(-90 31.5 386.1)"  stroke="#333" stroke-width="0.2">Variant allele frequency [%]</text>
<text x="195.5" y="436.5" font-size="3.5" fill="#444" text-anchor="middle" font-weight="normal" font-style="italic"  stroke="#444" stroke-width="0.2">12-</text>
<text x="195.5" y="440.5" font-size="3.5" fill="#444" text-anchor="middle" font-weight="normal" font-style="italic"  stroke="#444" stroke-width="0.2">2014</text>
<polyline points="64.5,351.75 101,397.5 137.5,381.25 174,366.25" fill="none" stroke="#e0e060" stroke-width="0.5" stroke-linejoin="round" stroke-linecap="butt" />
<polyline points="64.5,423 101,427.5 137.5,420 174,425.5" fill="none" stroke="#40b0d0" stroke-width="0.5" stroke-linejoin="round" stroke-linecap="butt" />
<polyline points="64.5,399.5 101,412.5 137.5,393 174,388.75" fill="none" stroke="#b060d0" stroke-width="0.5" stroke-linejoin="round" stroke-linecap="butt" />
<polyline points="64.5,402.5 101,413.75 137.5,395 174,408.75" fill="none" stroke="#c080e0" stroke-width="0.5" stroke-linejoin="round" stroke-linecap="butt" />
<polyline points="64.5,372.5 101,408.75 137.5,387.5 174,380" fill="none" stroke="#f0e020" stroke-width="4.6" stroke-linejoin="round" stroke-linecap="butt" />
<polyline points="64.5,369.5 101,406 137.5,384.5 174,377.5" fill="none" stroke="#c8c040" stroke-width="0.5" stroke-linejoin="round" stroke-linecap="butt" />
<polyline points="64.5,376 101,411 137.5,390 174,383" fill="none" stroke="#c8c040" stroke-width="0.5" stroke-linejoin="round" stroke-linecap="butt" />
<polyline points="64.5,369 101,405 137.5,384 174,377" fill="none" stroke="#e8d830" stroke-width="1" stroke-linejoin="round" stroke-linecap="butt" />
<polyline points="64.5,377 101,411 137.5,391 174,382.5" fill="none" stroke="#d898e8" stroke-width="1.8" stroke-linejoin="round" stroke-linecap="butt" />
<polyline points="64.5,375 101,410 137.5,393.75 174,381.25" fill="none" stroke="#8a30b0" stroke-width="1.5" stroke-dasharray="1.2,2.2" stroke-linejoin="round" stroke-linecap="round" />
<polyline points="64.5,405 101,421.25 137.5,401 174,402" fill="none" stroke="#6a1a9a" stroke-width="2" stroke-dasharray="3.5,2" stroke-linejoin="round" stroke-linecap="butt" />
<polyline points="64.5,428.5 101,428 137.5,409.5 174,421.25" fill="none" stroke="#2aa0c0" stroke-width="2" stroke-dasharray="3.5,2" stroke-linejoin="round" stroke-linecap="butt" />
<line x1="79.5" y1="362" x2="115.5" y2="362" stroke="#222" stroke-width="0.8" />
<line x1="79.5" y1="360.7" x2="79.5" y2="363.3" stroke="#222" stroke-width="0.7" />
<line x1="115.5" y1="360.7" x2="115.5" y2="363.3" stroke="#222" stroke-width="0.7" />
<text x="96.3" y="358.7" font-size="5.6" fill="#333" text-anchor="middle" font-weight="normal" font-style="normal"  stroke="#333" stroke-width="0.2">5-Aza</text>
<line x1="137.5" y1="362.5" x2="163" y2="362.5" stroke="#222" stroke-width="0.8" />
<line x1="137.5" y1="361.2" x2="137.5" y2="363.8" stroke="#222" stroke-width="0.7" />
<line x1="163" y1="361.2" x2="163" y2="363.8" stroke="#222" stroke-width="0.7" />
<text x="150.5" y="358.7" font-size="5.6" fill="#333" text-anchor="middle" font-weight="normal" font-style="normal"  stroke="#333" stroke-width="0.2">5-Aza</text>
<text x="126.5" y="357.6" font-size="6.3" fill="#e02020" text-anchor="middle" font-weight="bold" font-style="normal" >STOP</text>
<text x="126.5" y="364.4" font-size="6.1" fill="#e02020" text-anchor="middle" font-weight="bold" font-style="normal" >XXXXX</text>
<text x="195.5" y="426" font-size="7" fill="#111" text-anchor="middle" font-weight="bold" font-style="normal" >†</text>
<line x1="184.3" y1="361" x2="190.3" y2="361" stroke="#f0e020" stroke-width="2.4" />
<text x="197" y="362.45" font-size="4.1" fill="#333" text-anchor="start" font-weight="normal" font-style="normal"  stroke="#333" stroke-width="0.2">U2AF1 S34F</text>
<line x1="184.3" y1="370.5" x2="190.3" y2="370.5" stroke="#8a30b0" stroke-width="2.2" stroke-dasharray="1,1"/>
<text x="197" y="371.95" font-size="4.1" fill="#333" text-anchor="start" font-weight="normal" font-style="normal"  stroke="#333" stroke-width="0.2">BCOR G701fs*</text>
<line x1="184.3" y1="379.5" x2="190.3" y2="379.5" stroke="#d898e8" stroke-width="2.2" />
<text x="197" y="380.95" font-size="4.1" fill="#333" text-anchor="start" font-weight="normal" font-style="normal"  stroke="#333" stroke-width="0.2">STAG2 N1223fs*</text>
<line x1="184.3" y1="389" x2="190.3" y2="389" stroke="#6a1a9a" stroke-width="2.4" stroke-dasharray="2.5,1"/>
<text x="197" y="390.45" font-size="4.1" fill="#333" text-anchor="start" font-weight="normal" font-style="normal"  stroke="#333" stroke-width="0.2">RUNX1 R166X</text>
<line x1="184.3" y1="398" x2="190.3" y2="398" stroke="#2aa0c0" stroke-width="2.4" stroke-dasharray="2.5,1"/>
<text x="197" y="399.45" font-size="4.1" fill="#333" text-anchor="start" font-weight="normal" font-style="normal"  stroke="#333" stroke-width="0.2">LZTR1 R412C</text>
<line x1="57.5" y1="446.3" x2="72.5" y2="446.3" stroke="#d04040" stroke-width="0.9" />
<line x1="130.5" y1="446.3" x2="145" y2="446.3" stroke="#d04040" stroke-width="0.9" />
<text x="36" y="456.8" font-size="4" fill="#111" text-anchor="middle" font-weight="bold" font-style="normal" >WHO</text>
<polygon points="47.5,450 84,450 86.89,455.25 84,460.5 47.5,460.5" fill="#e8cfd0" stroke="#888" stroke-width="0.5" stroke-linejoin="round"/>
<polygon points="84,450 135,450 137.89,455.25 135,460.5 84,460.5 86.89,455.25" fill="#e2ebc6" stroke="#888" stroke-width="0.5" stroke-linejoin="round"/>
<polygon points="135,450 182.6,450 185.49,455.25 182.6,460.5 135,460.5 137.89,455.25" fill="#e8cfd0" stroke="#888" stroke-width="0.5" stroke-linejoin="round"/>
<text x="65.75" y="456.75" font-size="4.3" fill="#222" text-anchor="middle" font-weight="bold" font-style="normal" >RAEB-II</text>
<text x="110.94" y="454.65" font-size="4.1" fill="#222" text-anchor="middle" font-weight="bold" font-style="italic" >transfusion</text>
<text x="110.94" y="458.95" font-size="4.1" fill="#222" text-anchor="middle" font-weight="bold" font-style="italic" >independence</text>
<text x="160.24" y="454.65" font-size="4.1" fill="#222" text-anchor="middle" font-weight="bold" font-style="italic" >transfusion</text>
<text x="160.24" y="458.95" font-size="4.1" fill="#222" text-anchor="middle" font-weight="bold" font-style="italic" >dependence</text>
<path d="M46.9,523.5 C47.45,522.98 49.25,522.53 50.2,520.4 C51.15,518.27 51.93,515.02 52.6,510.7 C53.27,506.38 53.52,499.65 54.2,494.5 C54.88,489.35 55.62,483.6 56.7,479.8 C57.78,476 59.22,473.58 60.7,471.7 C62.18,469.82 63.7,468.9 65.6,468.5 C67.5,468.1 69.93,468.22 72.1,469.3 C74.27,470.38 76.43,472.7 78.6,475 C80.77,477.3 82.67,480.13 85.1,483.1 C87.53,486.07 90.23,490.23 93.2,492.8 C96.17,495.37 100.1,497.55 102.9,498.5 C105.7,499.45 107.47,499.03 110,498.5 C112.53,497.97 115.4,496.38 118.1,495.3 C120.8,494.22 123.5,492.95 126.2,492 C128.9,491.05 131.58,490.13 134.3,489.6 C137.02,489.07 139.78,489.35 142.5,488.8 C145.22,488.25 147.9,487.65 150.6,486.3 C153.3,484.95 156,482.18 158.7,480.7 C161.4,479.22 163.97,478.13 166.8,477.4 C169.63,476.67 174.22,476.48 175.7,476.3 L175.7,570.2 C174.22,569.8 169.63,568.88 166.8,567.8 C163.97,566.72 161.4,565.18 158.7,563.7 C156,562.22 153.3,560.25 150.6,558.9 C147.9,557.55 145.22,556.42 142.5,555.6 C139.78,554.78 137.02,554.67 134.3,554 C131.58,553.33 128.9,552.4 126.2,551.6 C123.5,550.8 120.8,549.83 118.1,549.2 C115.4,548.57 111.98,547.87 110,547.8 C108.02,547.73 108.2,547.95 106.2,548.8 C104.2,549.65 100.72,550.6 98,552.9 C95.28,555.2 92.6,559.37 89.9,562.6 C87.2,565.83 84.5,569.87 81.8,572.3 C79.1,574.73 76.27,576.25 73.7,577.2 C71.13,578.15 68.57,578.27 66.4,578 C64.23,577.73 62.32,577.08 60.7,575.6 C59.08,574.12 57.78,572.35 56.7,569.1 C55.62,565.85 54.88,560.97 54.2,556.1 C53.52,551.23 53.27,544.77 52.6,539.9 C51.93,535.03 51.15,529.63 50.2,526.9 C49.25,524.17 47.45,524.07 46.9,523.5 Z" fill="#f6e715" stroke="#1a1a1a" stroke-width="1.5" stroke-linejoin="round" />
<path d="M58.3,553.2 C58.97,551.52 61.35,546.4 62.3,543.1 C63.25,539.8 63.45,535.97 64,533.4 C64.55,530.83 64.52,529.18 65.6,527.7 C66.68,526.22 68.33,525.17 70.5,524.5 C72.67,523.83 75.37,523.78 78.6,523.7 C81.83,523.62 85.85,524 89.9,524 C93.95,524 99.55,523.75 102.9,523.7 C106.25,523.65 107.73,524.78 110,523.7 C112.27,522.62 114.33,520.18 116.5,517.2 C118.67,514.22 120.83,508.78 123,505.8 C125.17,502.82 127.07,500.6 129.5,499.3 C131.93,498 134.9,498.13 137.6,498 C140.3,497.87 143,498.02 145.7,498.5 C148.4,498.98 150.83,499.68 153.8,500.9 C156.77,502.12 159.85,503.9 163.5,505.8 C167.15,507.7 173.67,511.22 175.7,512.3 L175.7,567.9 C172.87,566.68 164.23,563.03 158.7,560.6 C153.17,558.17 147.92,555.2 142.5,553.3 C137.08,551.4 131.62,550.42 126.2,549.2 C120.78,547.98 113.88,545.87 110,546 C106.12,546.13 105.43,548.25 102.9,550 C100.37,551.75 97.5,553.67 94.8,556.5 C92.1,559.33 89.4,564.15 86.7,567 C84,569.85 81.3,572.33 78.6,573.6 C75.9,574.87 72.8,575.08 70.5,574.6 C68.2,574.12 66.17,572.7 64.8,570.7 C63.43,568.7 63.38,565.52 62.3,562.6 C61.22,559.68 58.97,554.77 58.3,553.2 Z" fill="#b01a98" stroke="#3a1040" stroke-width="0.5" stroke-linejoin="round" />
<path d="M129.5,535.8 C130.03,535.13 131.9,534.37 132.7,531.8 C133.5,529.23 133.62,523.12 134.3,520.4 C134.98,517.68 135.72,516.63 136.8,515.5 C137.88,514.37 139.45,513.6 140.8,513.6 C142.15,513.6 143.55,514.1 144.9,515.5 C146.25,516.9 147.15,519.28 148.9,522 C150.65,524.72 152.97,528.55 155.4,531.8 C157.83,535.05 160.12,538.8 163.5,541.5 C166.88,544.2 173.67,546.92 175.7,548 L175.7,565.7 C172.87,564.63 164.23,561.33 158.7,559.3 C153.17,557.27 146.28,554.83 142.5,553.5 C138.72,552.17 137.37,552.48 136,551.3 C134.63,550.12 134.85,548.57 134.3,546.4 C133.75,544.23 133.5,540.07 132.7,538.3 C131.9,536.53 130.03,536.22 129.5,535.8 Z" fill="#17a8e0" stroke="#3a1040" stroke-width="0.4" stroke-linejoin="round" />
<rect x="175.9" y="470" width="4" height="105" fill="#fff" />
<polygon points="43.5,519.6 44.37,521.7 46.64,521.88 44.91,523.36 45.44,525.57 43.5,524.38 41.56,525.57 42.09,523.36 40.36,521.88 42.63,521.7" fill="#c0203a"/>
<text x="71.3" y="498.7" font-size="6.2" fill="#2a2a10" text-anchor="middle" font-weight="bold" font-style="italic" stroke="#2a2a10" stroke-width="0.22">U2AF1</text>
<text x="71.3" y="505.8" font-size="6.2" fill="#2a2a10" text-anchor="middle" font-weight="bold" font-style="italic" stroke="#2a2a10" stroke-width="0.22">/BCOR</text>
<text x="71.3" y="512.9" font-size="6.2" fill="#2a2a10" text-anchor="middle" font-weight="bold" font-style="italic" stroke="#2a2a10" stroke-width="0.22">/STAG2</text>
<text x="81.8" y="541.5" font-size="7.2" fill="#3a1040" text-anchor="middle" font-weight="bold" font-style="italic" stroke="#3a1040" stroke-width="0.22">RUNX1</text>
<text x="149.2" y="549.4" font-size="6.1" fill="#10304a" text-anchor="middle" font-weight="bold" font-style="italic" stroke="#10304a" stroke-width="0.22">LZTR1</text>
<text x="265.1" y="292.5" font-size="11.8" fill="#111" text-anchor="start" font-weight="bold" font-style="normal" stroke="#111" stroke-width="0.3">D</text>
<text x="379" y="299.6" font-size="6.2" fill="#111" text-anchor="middle" font-weight="bold" font-style="normal" >P19</text>
<rect x="304.7" y="302.3" width="146" height="2.66" fill="#ebebeb" />
<rect x="304.7" y="307.61" width="146" height="2.66" fill="#ebebeb" />
<rect x="304.7" y="312.93" width="146" height="2.66" fill="#ebebeb" />
<rect x="304.7" y="318.24" width="146" height="2.66" fill="#ebebeb" />
<line x1="304.7" y1="302.3" x2="450.7" y2="302.3" stroke="#c9c9c9" stroke-width="0.45" stroke-dasharray="1,0.6"/>
<line x1="304.7" y1="304.96" x2="450.7" y2="304.96" stroke="#c9c9c9" stroke-width="0.45" stroke-dasharray="1,0.6"/>
<line x1="304.7" y1="307.61" x2="450.7" y2="307.61" stroke="#c9c9c9" stroke-width="0.45" stroke-dasharray="1,0.6"/>
<line x1="304.7" y1="310.27" x2="450.7" y2="310.27" stroke="#c9c9c9" stroke-width="0.45" stroke-dasharray="1,0.6"/>
<line x1="304.7" y1="312.93" x2="450.7" y2="312.93" stroke="#c9c9c9" stroke-width="0.45" stroke-dasharray="1,0.6"/>
<line x1="304.7" y1="315.59" x2="450.7" y2="315.59" stroke="#c9c9c9" stroke-width="0.45" stroke-dasharray="1,0.6"/>
<line x1="304.7" y1="318.24" x2="450.7" y2="318.24" stroke="#c9c9c9" stroke-width="0.45" stroke-dasharray="1,0.6"/>
<line x1="304.7" y1="320.9" x2="450.7" y2="320.9" stroke="#c9c9c9" stroke-width="0.45" stroke-dasharray="1,0.6"/>
<line x1="304.7" y1="300.8" x2="304.7" y2="321.4" stroke="#222" stroke-width="0.9" />
<line x1="450.7" y1="300.8" x2="450.7" y2="321.4" stroke="#222" stroke-width="1" />
<line x1="303.2" y1="302.3" x2="304.7" y2="302.3" stroke="#222" stroke-width="0.5" />
<line x1="450.7" y1="302.3" x2="452.7" y2="302.3" stroke="#222" stroke-width="0.6" />
<line x1="303.2" y1="304.96" x2="304.7" y2="304.96" stroke="#222" stroke-width="0.5" />
<line x1="450.7" y1="304.96" x2="452.7" y2="304.96" stroke="#222" stroke-width="0.6" />
<line x1="303.2" y1="307.61" x2="304.7" y2="307.61" stroke="#222" stroke-width="0.5" />
<line x1="450.7" y1="307.61" x2="452.7" y2="307.61" stroke="#222" stroke-width="0.6" />
<line x1="303.2" y1="310.27" x2="304.7" y2="310.27" stroke="#222" stroke-width="0.5" />
<line x1="450.7" y1="310.27" x2="452.7" y2="310.27" stroke="#222" stroke-width="0.6" />
<line x1="303.2" y1="312.93" x2="304.7" y2="312.93" stroke="#222" stroke-width="0.5" />
<line x1="450.7" y1="312.93" x2="452.7" y2="312.93" stroke="#222" stroke-width="0.6" />
<line x1="303.2" y1="315.59" x2="304.7" y2="315.59" stroke="#222" stroke-width="0.5" />
<line x1="450.7" y1="315.59" x2="452.7" y2="315.59" stroke="#222" stroke-width="0.6" />
<line x1="303.2" y1="318.24" x2="304.7" y2="318.24" stroke="#222" stroke-width="0.5" />
<line x1="450.7" y1="318.24" x2="452.7" y2="318.24" stroke="#222" stroke-width="0.6" />
<line x1="303.2" y1="320.9" x2="304.7" y2="320.9" stroke="#222" stroke-width="0.5" />
<line x1="450.7" y1="320.9" x2="452.7" y2="320.9" stroke="#222" stroke-width="0.6" />
<text x="453.9" y="304.6" font-size="3.1" fill="#444" text-anchor="start" font-weight="normal" font-style="normal"  stroke="#444" stroke-width="0.2">1.5</text>
<text x="453.9" y="310.4" font-size="3.1" fill="#444" text-anchor="start" font-weight="normal" font-style="normal"  stroke="#444" stroke-width="0.2">1.0</text>
<text x="453.9" y="316.1" font-size="3.1" fill="#444" text-anchor="start" font-weight="normal" font-style="normal"  stroke="#444" stroke-width="0.2">0.5</text>
<text x="453.9" y="321.6" font-size="3.1" fill="#444" text-anchor="start" font-weight="normal" font-style="normal"  stroke="#444" stroke-width="0.2">0.0</text>
<rect x="304.7" y="325" width="146" height="2.8" fill="#ebebeb" />
<rect x="304.7" y="330.6" width="146" height="2.8" fill="#ebebeb" />
<rect x="304.7" y="336.2" width="146" height="2.8" fill="#ebebeb" />
<line x1="304.7" y1="325" x2="450.7" y2="325" stroke="#c9c9c9" stroke-width="0.45" stroke-dasharray="1,0.6"/>
<line x1="304.7" y1="327.8" x2="450.7" y2="327.8" stroke="#c9c9c9" stroke-width="0.45" stroke-dasharray="1,0.6"/>
<line x1="304.7" y1="330.6" x2="450.7" y2="330.6" stroke="#c9c9c9" stroke-width="0.45" stroke-dasharray="1,0.6"/>
<line x1="304.7" y1="333.4" x2="450.7" y2="333.4" stroke="#c9c9c9" stroke-width="0.45" stroke-dasharray="1,0.6"/>
<line x1="304.7" y1="336.2" x2="450.7" y2="336.2" stroke="#c9c9c9" stroke-width="0.45" stroke-dasharray="1,0.6"/>
<line x1="304.7" y1="339" x2="450.7" y2="339" stroke="#c9c9c9" stroke-width="0.45" stroke-dasharray="1,0.6"/>
<line x1="304.7" y1="341.8" x2="450.7" y2="341.8" stroke="#c9c9c9" stroke-width="0.45" stroke-dasharray="1,0.6"/>
<line x1="304.7" y1="323.5" x2="304.7" y2="342.3" stroke="#222" stroke-width="0.9" />
<line x1="450.7" y1="323.5" x2="450.7" y2="342.3" stroke="#222" stroke-width="1" />
<line x1="303.2" y1="325" x2="304.7" y2="325" stroke="#222" stroke-width="0.5" />
<line x1="450.7" y1="325" x2="452.7" y2="325" stroke="#222" stroke-width="0.6" />
<line x1="303.2" y1="327.8" x2="304.7" y2="327.8" stroke="#222" stroke-width="0.5" />
<line x1="450.7" y1="327.8" x2="452.7" y2="327.8" stroke="#222" stroke-width="0.6" />
<line x1="303.2" y1="330.6" x2="304.7" y2="330.6" stroke="#222" stroke-width="0.5" />
<line x1="450.7" y1="330.6" x2="452.7" y2="330.6" stroke="#222" stroke-width="0.6" />
<line x1="303.2" y1="333.4" x2="304.7" y2="333.4" stroke="#222" stroke-width="0.5" />
<line x1="450.7" y1="333.4" x2="452.7" y2="333.4" stroke="#222" stroke-width="0.6" />
<line x1="303.2" y1="336.2" x2="304.7" y2="336.2" stroke="#222" stroke-width="0.5" />
<line x1="450.7" y1="336.2" x2="452.7" y2="336.2" stroke="#222" stroke-width="0.6" />
<line x1="303.2" y1="339" x2="304.7" y2="339" stroke="#222" stroke-width="0.5" />
<line x1="450.7" y1="339" x2="452.7" y2="339" stroke="#222" stroke-width="0.6" />
<line x1="303.2" y1="341.8" x2="304.7" y2="341.8" stroke="#222" stroke-width="0.5" />
<line x1="450.7" y1="341.8" x2="452.7" y2="341.8" stroke="#222" stroke-width="0.6" />
<text x="300.2" y="326.7" font-size="3.3" fill="#444" text-anchor="end" font-weight="normal" font-style="normal"  stroke="#444" stroke-width="0.2">11</text>
<text x="300.2" y="329.5" font-size="3.3" fill="#444" text-anchor="end" font-weight="normal" font-style="normal"  stroke="#444" stroke-width="0.2">10</text>
<text x="300.2" y="332.3" font-size="3.3" fill="#444" text-anchor="end" font-weight="normal" font-style="normal"  stroke="#444" stroke-width="0.2">9</text>
<text x="300.2" y="335.1" font-size="3.3" fill="#444" text-anchor="end" font-weight="normal" font-style="normal"  stroke="#444" stroke-width="0.2">8</text>
<text x="300.2" y="337.9" font-size="3.3" fill="#444" text-anchor="end" font-weight="normal" font-style="normal"  stroke="#444" stroke-width="0.2">7</text>
<text x="453.9" y="326.6" font-size="3.1" fill="#444" text-anchor="start" font-weight="normal" font-style="normal"  stroke="#444" stroke-width="0.2">300</text>
<text x="453.9" y="332.1" font-size="3.1" fill="#444" text-anchor="start" font-weight="normal" font-style="normal"  stroke="#444" stroke-width="0.2">200</text>
<text x="453.9" y="337.6" font-size="3.1" fill="#444" text-anchor="start" font-weight="normal" font-style="normal"  stroke="#444" stroke-width="0.2">100</text>
<text x="453.9" y="342.7" font-size="3.1" fill="#444" text-anchor="start" font-weight="normal" font-style="normal"  stroke="#444" stroke-width="0.2">0</text>
<text x="283.26" y="311" font-size="6.27" fill="#5050b0" text-anchor="middle" font-weight="normal" font-style="normal" transform="rotate(-90 283.26 311)"  textLength="12.16" lengthAdjust="spacingAndGlyphs">WBC</text>
<text x="291.76" y="311" font-size="6.27" fill="#5050b0" text-anchor="middle" font-weight="normal" font-style="normal" transform="rotate(-90 291.76 311)"  textLength="20.14" lengthAdjust="spacingAndGlyphs">[10E9/L]</text>
<text x="283.26" y="332.5" font-size="6.27" fill="#b04040" text-anchor="middle" font-weight="normal" font-style="normal" transform="rotate(-90 283.26 332.5)"  textLength="7.41" lengthAdjust="spacingAndGlyphs">Hb</text>
<text x="291.76" y="332.5" font-size="6.27" fill="#b04040" text-anchor="middle" font-weight="normal" font-style="normal" transform="rotate(-90 291.76 332.5)"  textLength="12.92" lengthAdjust="spacingAndGlyphs">[g/dl]</text>
<text x="473.74" y="310" font-size="6.27" fill="#9a50b0" text-anchor="middle" font-weight="normal" font-style="normal" transform="rotate(90 473.74 310)"  textLength="15.86" lengthAdjust="spacingAndGlyphs">CD34+</text>
<text x="465.74" y="310" font-size="6.27" fill="#9a50b0" text-anchor="middle" font-weight="normal" font-style="normal" transform="rotate(90 465.74 310)"  textLength="9.59" lengthAdjust="spacingAndGlyphs">[%]</text>
<text x="473.74" y="334" font-size="6.27" fill="#222" text-anchor="middle" font-weight="normal" font-style="normal" transform="rotate(90 473.74 334)"  textLength="9.59" lengthAdjust="spacingAndGlyphs">PLT</text>
<text x="465.74" y="334" font-size="6.27" fill="#222" text-anchor="middle" font-weight="normal" font-style="normal" transform="rotate(90 465.74 334)"  textLength="21.18" lengthAdjust="spacingAndGlyphs">[10E9/L]</text>
<polyline points="316.75,308.6 341.75,314.9 366,308.2 389,308.4 414,309.4 438,310.2" fill="none" stroke="#3a3ab8" stroke-width="0.6" stroke-linejoin="round" stroke-linecap="butt" />
<circle cx="316.75" cy="308.6" r="1.15" fill="#3a3ab8"/><circle cx="341.75" cy="314.9" r="1.15" fill="#3a3ab8"/><circle cx="366" cy="308.2" r="1.15" fill="#3a3ab8"/><circle cx="389" cy="308.4" r="1.15" fill="#3a3ab8"/><circle cx="414" cy="309.4" r="1.15" fill="#3a3ab8"/><circle cx="438" cy="310.2" r="1.15" fill="#3a3ab8"/>
<polyline points="316.75,317.3 341.75,318.3 366,309.2 389,309.7 414,309.7 438,310.2" fill="none" stroke="#9a3ab0" stroke-width="0.6" stroke-linejoin="round" stroke-linecap="butt" />
<circle cx="316.75" cy="317.3" r="1.15" fill="#9a3ab0"/><circle cx="341.75" cy="318.3" r="1.15" fill="#9a3ab0"/><circle cx="366" cy="309.2" r="1.15" fill="#9a3ab0"/><circle cx="389" cy="309.7" r="1.15" fill="#9a3ab0"/><circle cx="414" cy="309.7" r="1.15" fill="#9a3ab0"/><circle cx="438" cy="310.2" r="1.15" fill="#9a3ab0"/>
<polyline points="316.75,330.5 341.75,340.6 366,325.8 389,336.6 414,337.3 438,331.6" fill="none" stroke="#b03a3a" stroke-width="0.6" stroke-linejoin="round" stroke-linecap="butt" />
<circle cx="316.75" cy="330.5" r="1.15" fill="#b03a3a"/><circle cx="341.75" cy="340.6" r="1.15" fill="#b03a3a"/><circle cx="366" cy="325.8" r="1.15" fill="#b03a3a"/><circle cx="389" cy="336.6" r="1.15" fill="#b03a3a"/><circle cx="414" cy="337.3" r="1.15" fill="#b03a3a"/><circle cx="438" cy="331.6" r="1.15" fill="#b03a3a"/>
<polyline points="316.75,327.9 341.75,339.2 366,329.9 389,327 414,328.5 438,328.5" fill="none" stroke="#222" stroke-width="0.6" stroke-linejoin="round" stroke-linecap="butt" />
<circle cx="316.75" cy="327.9" r="1.15" fill="#222"/><circle cx="341.75" cy="339.2" r="1.15" fill="#222"/><circle cx="366" cy="329.9" r="1.15" fill="#222"/><circle cx="389" cy="327" r="1.15" fill="#222"/><circle cx="414" cy="328.5" r="1.15" fill="#222"/><circle cx="438" cy="328.5" r="1.15" fill="#222"/>
<line x1="304.7" y1="423.75" x2="450.7" y2="423.75" stroke="#c9c9c9" stroke-width="0.45" />
<line x1="304.7" y1="418.8" x2="450.7" y2="418.8" stroke="#c9c9c9" stroke-width="0.45" />
<line x1="304.7" y1="413.85" x2="450.7" y2="413.85" stroke="#c9c9c9" stroke-width="0.45" />
<line x1="304.7" y1="408.9" x2="450.7" y2="408.9" stroke="#c9c9c9" stroke-width="0.45" />
<line x1="304.7" y1="403.95" x2="450.7" y2="403.95" stroke="#c9c9c9" stroke-width="0.45" />
<line x1="304.7" y1="399" x2="450.7" y2="399" stroke="#c9c9c9" stroke-width="0.45" />
<line x1="304.7" y1="394.05" x2="450.7" y2="394.05" stroke="#c9c9c9" stroke-width="0.45" />
<line x1="304.7" y1="389.1" x2="450.7" y2="389.1" stroke="#c9c9c9" stroke-width="0.45" />
<line x1="304.7" y1="384.15" x2="450.7" y2="384.15" stroke="#c9c9c9" stroke-width="0.45" />
<line x1="304.7" y1="379.2" x2="450.7" y2="379.2" stroke="#c9c9c9" stroke-width="0.45" />
<line x1="304.7" y1="374.25" x2="450.7" y2="374.25" stroke="#c9c9c9" stroke-width="0.45" />
<line x1="304.7" y1="369.3" x2="450.7" y2="369.3" stroke="#c9c9c9" stroke-width="0.45" />
<line x1="304.7" y1="364.35" x2="450.7" y2="364.35" stroke="#c9c9c9" stroke-width="0.45" />
<line x1="304.7" y1="359.4" x2="450.7" y2="359.4" stroke="#c9c9c9" stroke-width="0.45" />
<line x1="304.7" y1="354.45" x2="450.7" y2="354.45" stroke="#c9c9c9" stroke-width="0.45" />
<line x1="304.7" y1="349.5" x2="450.7" y2="349.5" stroke="#c9c9c9" stroke-width="0.45" />
<line x1="304.7" y1="344.55" x2="450.7" y2="344.55" stroke="#c9c9c9" stroke-width="0.45" />
<line x1="304.7" y1="344" x2="304.7" y2="428.7" stroke="#222" stroke-width="0.8" />
<line x1="304.7" y1="428.7" x2="450.7" y2="428.7" stroke="#222" stroke-width="0.8" />
<line x1="303.4" y1="428.7" x2="304.7" y2="428.7" stroke="#222" stroke-width="0.5" />
<text x="299.3" y="430.05" font-size="3.8" fill="#333" text-anchor="end" font-weight="normal" font-style="normal"  stroke="#333" stroke-width="0.2">0</text>
<line x1="303.4" y1="418.8" x2="304.7" y2="418.8" stroke="#222" stroke-width="0.5" />
<text x="299.3" y="420.15" font-size="3.8" fill="#333" text-anchor="end" font-weight="normal" font-style="normal"  stroke="#333" stroke-width="0.2">10</text>
<line x1="303.4" y1="408.9" x2="304.7" y2="408.9" stroke="#222" stroke-width="0.5" />
<text x="299.3" y="410.25" font-size="3.8" fill="#333" text-anchor="end" font-weight="normal" font-style="normal"  stroke="#333" stroke-width="0.2">20</text>
<line x1="303.4" y1="399" x2="304.7" y2="399" stroke="#222" stroke-width="0.5" />
<text x="299.3" y="400.35" font-size="3.8" fill="#333" text-anchor="end" font-weight="normal" font-style="normal"  stroke="#333" stroke-width="0.2">30</text>
<line x1="303.4" y1="389.1" x2="304.7" y2="389.1" stroke="#222" stroke-width="0.5" />
<text x="299.3" y="390.45" font-size="3.8" fill="#333" text-anchor="end" font-weight="normal" font-style="normal"  stroke="#333" stroke-width="0.2">40</text>
<line x1="303.4" y1="379.2" x2="304.7" y2="379.2" stroke="#222" stroke-width="0.5" />
<text x="299.3" y="380.55" font-size="3.8" fill="#333" text-anchor="end" font-weight="normal" font-style="normal"  stroke="#333" stroke-width="0.2">50</text>
<line x1="303.4" y1="369.3" x2="304.7" y2="369.3" stroke="#222" stroke-width="0.5" />
<text x="299.3" y="370.65" font-size="3.8" fill="#333" text-anchor="end" font-weight="normal" font-style="normal"  stroke="#333" stroke-width="0.2">60</text>
<line x1="303.4" y1="359.4" x2="304.7" y2="359.4" stroke="#222" stroke-width="0.5" />
<text x="299.3" y="360.75" font-size="3.8" fill="#333" text-anchor="end" font-weight="normal" font-style="normal"  stroke="#333" stroke-width="0.2">70</text>
<line x1="303.4" y1="349.5" x2="304.7" y2="349.5" stroke="#222" stroke-width="0.5" />
<text x="299.3" y="350.85" font-size="3.8" fill="#333" text-anchor="end" font-weight="normal" font-style="normal"  stroke="#333" stroke-width="0.2">80</text>
<line x1="316.75" y1="428.7" x2="316.75" y2="431.1" stroke="#222" stroke-width="0.6" />
<line x1="341.75" y1="428.7" x2="341.75" y2="431.1" stroke="#222" stroke-width="0.6" />
<line x1="366" y1="428.7" x2="366" y2="431.1" stroke="#222" stroke-width="0.6" />
<line x1="389" y1="428.7" x2="389" y2="431.1" stroke="#222" stroke-width="0.6" />
<line x1="414" y1="428.7" x2="414" y2="431.1" stroke="#222" stroke-width="0.6" />
<line x1="438" y1="428.7" x2="438" y2="431.1" stroke="#222" stroke-width="0.6" />
<text x="316.75" y="437.8" font-size="4.3" fill="#222" text-anchor="middle" font-weight="normal" font-style="normal"  stroke="#222" stroke-width="0.2">12-2009</text>
<text x="341.75" y="437.8" font-size="4.3" fill="#222" text-anchor="middle" font-weight="normal" font-style="normal"  stroke="#222" stroke-width="0.2">07-2010</text>
<text x="366" y="437.8" font-size="4.3" fill="#222" text-anchor="middle" font-weight="normal" font-style="normal"  stroke="#222" stroke-width="0.2">01-2013</text>
<text x="389" y="437.8" font-size="4.3" fill="#222" text-anchor="middle" font-weight="normal" font-style="normal"  stroke="#222" stroke-width="0.2">05-2013</text>
<text x="414" y="437.8" font-size="4.3" fill="#222" text-anchor="middle" font-weight="normal" font-style="normal"  stroke="#222" stroke-width="0.2">08-2013</text>
<text x="438" y="437.8" font-size="4.3" fill="#222" text-anchor="middle" font-weight="normal" font-style="normal"  stroke="#222" stroke-width="0.2">10-2013</text>
<text x="291" y="386.35" font-size="5.6" fill="#333" text-anchor="middle" font-weight="normal" font-style="normal" transform="rotate(-90 291 386.35)"  stroke="#333" stroke-width="0.2">Variant allele frequency [%]</text>
<polyline points="316.75,349.25 341.75,357.5 366,349.25 389,360.5 414,351.7 438,343.6" fill="none" stroke="#b0b0b0" stroke-width="0.5" stroke-linejoin="round" stroke-linecap="butt" />
<circle cx="316.75" cy="349.25" r="0.5" fill="#b0b0b0"/><circle cx="341.75" cy="357.5" r="0.5" fill="#b0b0b0"/><circle cx="366" cy="349.25" r="0.5" fill="#b0b0b0"/><circle cx="389" cy="360.5" r="0.5" fill="#b0b0b0"/><circle cx="414" cy="351.7" r="0.5" fill="#b0b0b0"/><circle cx="438" cy="343.6" r="0.5" fill="#b0b0b0"/>
<polyline points="316.75,372.5 341.75,396.25 366,382 389,385 414,383 438,381" fill="none" stroke="#e04040" stroke-width="0.5" stroke-linejoin="round" stroke-linecap="butt" />
<polyline points="316.75,388 341.75,395 366,384 389,386 414,382 438,380" fill="none" stroke="#e83030" stroke-width="0.5" stroke-linejoin="round" stroke-linecap="butt" />
<polyline points="316.75,395 341.75,400 366,390 389,392 414,388 438,386" fill="none" stroke="#e04040" stroke-width="0.5" stroke-linejoin="round" stroke-linecap="butt" />
<polyline points="316.75,398 341.75,402 366,395 389,397 414,393 438,391" fill="none" stroke="#e04040" stroke-width="0.5" stroke-linejoin="round" stroke-linecap="butt" />
<polyline points="316.75,391.25 341.75,397.5 366,386.25 389,388.1 414,384.4 438,383" fill="none" stroke="#e82020" stroke-width="3" stroke-linejoin="round" stroke-linecap="butt" />
<polyline points="316.75,393.5 341.75,399 366,388.5 389,390 414,386.5 438,385" fill="none" stroke="#e82020" stroke-width="2" stroke-linejoin="round" stroke-linecap="butt" />
<polyline points="316.75,396.25 341.75,400.5 366,390 389,390.7 414,387 438,387" fill="none" stroke="#f0f040" stroke-width="1.8" stroke-dasharray="2.5,2" stroke-linejoin="round" stroke-linecap="butt" />
<polyline points="316.75,421.25 341.75,423.75 366,421.25 389,424.6 414,424.6 438,422" fill="none" stroke="#f08020" stroke-width="1.8" stroke-linejoin="round" stroke-linecap="butt" />
<polyline points="316.75,420 341.75,422.5 366,420 389,423 414,423 438,420.5" fill="none" stroke="#f0a060" stroke-width="0.5" stroke-linejoin="round" stroke-linecap="butt" />
<polyline points="316.75,428.5 341.75,428.5 366,423.75 389,418.3 414,417 438,417" fill="none" stroke="#2020d0" stroke-width="1.8" stroke-linejoin="round" stroke-linecap="butt" />
<polyline points="316.75,428.5 341.75,428.5 366,422 389,416 414,415 438,414" fill="none" stroke="#4040e0" stroke-width="0.5" stroke-linejoin="round" stroke-linecap="butt" />
<polyline points="316.75,428.5 341.75,428.5 366,425 389,420 414,419 438,418.5" fill="none" stroke="#4040e0" stroke-width="0.5" stroke-linejoin="round" stroke-linecap="butt" />
<polyline points="316.75,428.5 341.75,428.5 366,424.5 389,419.5 414,418.5 438,416" fill="none" stroke="#1010a0" stroke-width="1.6" stroke-dasharray="4,2.5" stroke-linejoin="round" stroke-linecap="butt" />
<polyline points="316.75,428.5 341.75,428.5 366,425 389,422 414,422 438,420.8" fill="none" stroke="#30b030" stroke-width="1.8" stroke-dasharray="4.5,3" stroke-linejoin="round" stroke-linecap="butt" />
<line x1="316.75" y1="367.5" x2="339" y2="367.5" stroke="#222" stroke-width="0.8" />
<line x1="316.75" y1="366.2" x2="316.75" y2="368.8" stroke="#222" stroke-width="0.7" />
<line x1="339" y1="366.2" x2="339" y2="368.8" stroke="#222" stroke-width="0.7" />
<text x="327.5" y="363.5" font-size="5" fill="#333" text-anchor="middle" font-weight="normal" font-style="normal"  stroke="#333" stroke-width="0.2">Panobinostat</text>
<line x1="366" y1="374.3" x2="380.3" y2="374.3" stroke="#222" stroke-width="0.8" />
<line x1="366" y1="373" x2="366" y2="375.6" stroke="#222" stroke-width="0.7" />
<line x1="380.3" y1="373" x2="380.3" y2="375.6" stroke="#222" stroke-width="0.7" />
<text x="374" y="370" font-size="5" fill="#333" text-anchor="middle" font-weight="normal" font-style="normal"  stroke="#333" stroke-width="0.2">APG-101</text>
<line x1="444.8" y1="354.7" x2="450.8" y2="354.7" stroke="#e82020" stroke-width="2.4" />
<text x="454.5" y="356.15" font-size="4.1" fill="#333" text-anchor="start" font-weight="normal" font-style="normal"  stroke="#333" stroke-width="0.2">ASXL1 P783fs</text>
<line x1="444.8" y1="362.5" x2="450.8" y2="362.5" stroke="#f0f040" stroke-width="2.4" />
<text x="454.5" y="363.95" font-size="4.1" fill="#333" text-anchor="start" font-weight="normal" font-style="normal"  stroke="#333" stroke-width="0.2">SF3B1 R625L</text>
<line x1="444.8" y1="371.5" x2="450.8" y2="371.5" stroke="#2020d0" stroke-width="2.4" />
<text x="454.5" y="372.95" font-size="4.1" fill="#333" text-anchor="start" font-weight="normal" font-style="normal"  stroke="#333" stroke-width="0.2">SDK1 A188T</text>
<line x1="444.8" y1="380" x2="450.8" y2="380" stroke="#1010a0" stroke-width="2.4" stroke-dasharray="2,1"/>
<text x="454.5" y="381.45" font-size="4.1" fill="#333" text-anchor="start" font-weight="normal" font-style="normal"  stroke="#333" stroke-width="0.2">GORASP2 V271I</text>
<line x1="444.8" y1="388.6" x2="450.8" y2="388.6" stroke="#f08020" stroke-width="2.4" />
<text x="454.5" y="390.05" font-size="4.1" fill="#333" text-anchor="start" font-weight="normal" font-style="normal"  stroke="#333" stroke-width="0.2">TTBK1 A1305S</text>
<line x1="444.8" y1="397" x2="450.8" y2="397" stroke="#30b030" stroke-width="2.4" stroke-dasharray="2,1"/>
<text x="454.5" y="398.45" font-size="4.1" fill="#333" text-anchor="start" font-weight="normal" font-style="normal"  stroke="#333" stroke-width="0.2">del(ETV6) (FISH)</text>
<line x1="309.75" y1="441.3" x2="324.75" y2="441.3" stroke="#d04040" stroke-width="0.9" />
<line x1="430.6" y1="441.3" x2="445.7" y2="441.3" stroke="#d04040" stroke-width="0.9" />
<text x="294.75" y="451.8" font-size="4" fill="#111" text-anchor="middle" font-weight="bold" font-style="normal" >WHO</text>
<polygon points="306,444.5 448.8,444.5 451.96,450.25 448.8,456 306,456" fill="#e2ebc6" stroke="#888" stroke-width="0.5" stroke-linejoin="round"/>
<text x="377.4" y="451.75" font-size="4.3" fill="#222" text-anchor="middle" font-weight="bold" font-style="normal" >RARS</text>
<path d="M300.1,516.3 C300.58,515.82 302.12,515.5 303,513.4 C303.88,511.3 304.58,508.02 305.4,503.7 C306.22,499.38 306.95,492.37 307.9,487.5 C308.85,482.63 309.75,477.35 311.1,474.5 C312.45,471.65 314.1,471.08 316,470.4 C317.9,469.72 319.8,469.98 322.5,470.4 C325.2,470.82 329.23,471.95 332.2,472.9 C335.17,473.85 337.87,475.97 340.3,476.1 C342.73,476.23 344.37,474.92 346.8,473.7 C349.23,472.48 352.2,470.43 354.9,468.8 C357.6,467.17 360.48,464.98 363,463.9 C365.52,462.82 367.5,462.3 370,462.3 C372.5,462.3 374.78,463.5 378,463.9 C381.22,464.3 384.7,464.97 389.3,464.7 C393.9,464.43 400.18,462.97 405.6,462.3 C411.02,461.63 415.8,460.97 421.8,460.7 C427.8,460.43 438.3,460.7 441.6,460.7 L441.6,571.5 C439.65,571.42 434.55,571.35 429.9,571 C425.25,570.65 419.1,570.07 413.7,569.4 C408.3,568.73 402.92,567.4 397.5,567 C392.08,566.6 386.95,566.73 381.2,567 C375.45,567.27 367.38,568.88 363,568.6 C358.62,568.32 357.6,566.65 354.9,565.3 C352.2,563.95 349.5,561.57 346.8,560.5 C344.1,559.43 341.95,558.63 338.7,558.9 C335.45,559.17 330.82,561.57 327.3,562.1 C323.78,562.63 320.3,562.92 317.6,562.1 C314.9,561.28 312.72,559.9 311.1,557.2 C309.48,554.5 308.85,550.5 307.9,545.9 C306.95,541.3 306.22,533.93 305.4,529.6 C304.58,525.27 303.88,522.12 303,519.9 C302.12,517.68 300.58,516.9 300.1,516.3 Z" fill="#c11c3a" stroke="#4a2a74" stroke-width="1.6" stroke-linejoin="round" />
<path d="M311.9,548.3 C312.3,547.63 313.35,545.65 314.3,544.3 C315.25,542.95 315.7,541.02 317.6,540.2 C319.5,539.38 322.18,539.4 325.7,539.4 C329.22,539.4 334.37,539.8 338.7,540.2 C343.03,540.6 347.65,541.27 351.7,541.8 C355.75,542.33 359.95,542.93 363,543.4 C366.05,543.87 366.97,543.52 370,544.6 C373.03,545.68 376.62,548.33 381.2,549.9 C385.78,551.47 392.08,552.92 397.5,554 C402.92,555.08 406.35,555.87 413.7,556.4 C421.05,556.93 436.95,557.07 441.6,557.2 L441.6,567.8 C436.95,567.53 421.05,566.88 413.7,566.2 C406.35,565.52 402.92,564.12 397.5,563.7 C392.08,563.28 385.78,563.48 381.2,563.7 C376.62,563.92 373.3,565 370,565 C366.7,565 364.45,564.72 361.4,563.7 C358.35,562.68 354.95,560.25 351.7,558.9 C348.45,557.55 345.15,555.6 341.9,555.6 C338.65,555.6 335.43,558.08 332.2,558.9 C328.97,559.72 325.07,560.5 322.5,560.5 C319.93,560.5 318.17,560.25 316.8,558.9 C315.43,557.55 315.12,554.17 314.3,552.4 C313.48,550.63 312.3,548.98 311.9,548.3 Z" fill="#f0861a" stroke="#4a2a74" stroke-width="0.6" stroke-linejoin="round" />
<path d="M358.2,532.1 C358.73,531.68 360.33,530.42 361.4,529.6 C362.47,528.78 363.17,527.83 364.6,527.2 C366.03,526.57 368.58,525.8 370,525.8 C371.42,525.8 371.23,526.7 373.1,527.2 C374.97,527.7 377.13,528.12 381.2,528.8 C385.27,529.48 392.08,530.88 397.5,531.3 C402.92,531.72 408.3,531.58 413.7,531.3 C419.1,531.02 425.25,530.02 429.9,529.6 C434.55,529.18 439.65,528.93 441.6,528.8 L441.6,553.2 C436.95,553.2 421.05,553.47 413.7,553.2 C406.35,552.93 402.92,552.55 397.5,551.6 C392.08,550.65 385.27,548.87 381.2,547.5 C377.13,546.13 374.97,544.72 373.1,543.4 C371.23,542.08 371.13,540.53 370,539.6 C368.87,538.67 367.73,538.65 366.3,537.8 C364.87,536.95 362.75,535.45 361.4,534.5 C360.05,533.55 358.73,532.5 358.2,532.1 Z" fill="#9c8ed2" stroke="#4a2a74" stroke-width="0.6" stroke-linejoin="round" />
<rect x="441.8" y="455" width="4" height="120" fill="#fff" />
<polygon points="296.5,512.6 297.37,514.7 299.64,514.88 297.91,516.36 298.44,518.57 296.5,517.38 294.56,518.57 295.09,516.36 293.36,514.88 295.63,514.7" fill="#c0203a"/>
<text x="338" y="503.2" font-size="6.1" fill="#3a0f1e" text-anchor="middle" font-weight="bold" font-style="italic" stroke="#3a0f1e" stroke-width="0.22">ASXL1/</text>
<text x="338" y="510.5" font-size="6.1" fill="#3a0f1e" text-anchor="middle" font-weight="bold" font-style="italic" stroke="#3a0f1e" stroke-width="0.22">SF3B1</text>
<text x="418.4" y="545.9" font-size="6.1" fill="#1a1a4a" text-anchor="middle" font-weight="bold" font-style="italic" stroke="#1a1a4a" stroke-width="0.22">del(ETV6)</text>
<text x="370" y="556.8" font-size="6.2" fill="#3a1a0a" text-anchor="middle" font-weight="bold" font-style="italic" stroke="#3a1a0a" stroke-width="0.22">TTBK1</text>
<text x="6.6" y="600" font-size="11.8" fill="#111" text-anchor="start" font-weight="bold" font-style="normal" stroke="#111" stroke-width="0.3">E</text>
<text x="116" y="608.6" font-size="6.2" fill="#111" text-anchor="middle" font-weight="bold" font-style="normal" >P29</text>
<line x1="48.4" y1="615.1" x2="180" y2="615.1" stroke="#c9c9c9" stroke-width="0.45" />
<line x1="48.4" y1="617.59" x2="180" y2="617.59" stroke="#c9c9c9" stroke-width="0.45" />
<line x1="48.4" y1="620.08" x2="180" y2="620.08" stroke="#c9c9c9" stroke-width="0.45" />
<line x1="48.4" y1="622.56" x2="180" y2="622.56" stroke="#c9c9c9" stroke-width="0.45" />
<line x1="48.4" y1="625.05" x2="180" y2="625.05" stroke="#c9c9c9" stroke-width="0.45" />
<line x1="48.4" y1="627.54" x2="180" y2="627.54" stroke="#c9c9c9" stroke-width="0.45" />
<line x1="48.4" y1="630.02" x2="180" y2="630.02" stroke="#c9c9c9" stroke-width="0.45" />
<line x1="48.4" y1="632.51" x2="180" y2="632.51" stroke="#c9c9c9" stroke-width="0.45" />
<line x1="48.4" y1="635" x2="180" y2="635" stroke="#c9c9c9" stroke-width="0.45" />
<line x1="48.4" y1="613.6" x2="48.4" y2="635.5" stroke="#222" stroke-width="0.9" />
<line x1="180" y1="613.6" x2="180" y2="635.5" stroke="#222" stroke-width="1" />
<line x1="46.9" y1="615.1" x2="48.4" y2="615.1" stroke="#222" stroke-width="0.5" />
<line x1="180" y1="615.1" x2="182" y2="615.1" stroke="#222" stroke-width="0.6" />
<line x1="46.9" y1="617.59" x2="48.4" y2="617.59" stroke="#222" stroke-width="0.5" />
<line x1="180" y1="617.59" x2="182" y2="617.59" stroke="#222" stroke-width="0.6" />
<line x1="46.9" y1="620.08" x2="48.4" y2="620.08" stroke="#222" stroke-width="0.5" />
<line x1="180" y1="620.08" x2="182" y2="620.08" stroke="#222" stroke-width="0.6" />
<line x1="46.9" y1="622.56" x2="48.4" y2="622.56" stroke="#222" stroke-width="0.5" />
<line x1="180" y1="622.56" x2="182" y2="622.56" stroke="#222" stroke-width="0.6" />
<line x1="46.9" y1="625.05" x2="48.4" y2="625.05" stroke="#222" stroke-width="0.5" />
<line x1="180" y1="625.05" x2="182" y2="625.05" stroke="#222" stroke-width="0.6" />
<line x1="46.9" y1="627.54" x2="48.4" y2="627.54" stroke="#222" stroke-width="0.5" />
<line x1="180" y1="627.54" x2="182" y2="627.54" stroke="#222" stroke-width="0.6" />
<line x1="46.9" y1="630.02" x2="48.4" y2="630.02" stroke="#222" stroke-width="0.5" />
<line x1="180" y1="630.02" x2="182" y2="630.02" stroke="#222" stroke-width="0.6" />
<line x1="46.9" y1="632.51" x2="48.4" y2="632.51" stroke="#222" stroke-width="0.5" />
<line x1="180" y1="632.51" x2="182" y2="632.51" stroke="#222" stroke-width="0.6" />
<line x1="46.9" y1="635" x2="48.4" y2="635" stroke="#222" stroke-width="0.5" />
<line x1="180" y1="635" x2="182" y2="635" stroke="#222" stroke-width="0.6" />
<text x="43.9" y="618" font-size="3.3" fill="#444" text-anchor="end" font-weight="normal" font-style="normal"  stroke="#444" stroke-width="0.2">4</text>
<text x="43.9" y="623.6" font-size="3.3" fill="#444" text-anchor="end" font-weight="normal" font-style="normal"  stroke="#444" stroke-width="0.2">3</text>
<text x="43.9" y="629.4" font-size="3.3" fill="#444" text-anchor="end" font-weight="normal" font-style="normal"  stroke="#444" stroke-width="0.2">2</text>
<text x="43.9" y="635" font-size="3.3" fill="#444" text-anchor="end" font-weight="normal" font-style="normal"  stroke="#444" stroke-width="0.2">1</text>
<text x="185.2" y="617" font-size="3" fill="#444" text-anchor="middle" font-weight="normal" font-style="normal" transform="rotate(90 185.2 617)"  stroke="#444" stroke-width="0.2">40</text>
<text x="185.2" y="622.5" font-size="3" fill="#444" text-anchor="middle" font-weight="normal" font-style="normal" transform="rotate(90 185.2 622.5)"  stroke="#444" stroke-width="0.2">30</text>
<text x="185.2" y="628" font-size="3" fill="#444" text-anchor="middle" font-weight="normal" font-style="normal" transform="rotate(90 185.2 628)"  stroke="#444" stroke-width="0.2">20</text>
<text x="185.2" y="633.5" font-size="3" fill="#444" text-anchor="middle" font-weight="normal" font-style="normal" transform="rotate(90 185.2 633.5)"  stroke="#444" stroke-width="0.2">10</text>
<line x1="48.4" y1="639.5" x2="180" y2="639.5" stroke="#c9c9c9" stroke-width="0.45" />
<line x1="48.4" y1="641.41" x2="180" y2="641.41" stroke="#c9c9c9" stroke-width="0.45" />
<line x1="48.4" y1="643.32" x2="180" y2="643.32" stroke="#c9c9c9" stroke-width="0.45" />
<line x1="48.4" y1="645.23" x2="180" y2="645.23" stroke="#c9c9c9" stroke-width="0.45" />
<line x1="48.4" y1="647.14" x2="180" y2="647.14" stroke="#c9c9c9" stroke-width="0.45" />
<line x1="48.4" y1="649.06" x2="180" y2="649.06" stroke="#c9c9c9" stroke-width="0.45" />
<line x1="48.4" y1="650.97" x2="180" y2="650.97" stroke="#c9c9c9" stroke-width="0.45" />
<line x1="48.4" y1="652.88" x2="180" y2="652.88" stroke="#c9c9c9" stroke-width="0.45" />
<line x1="48.4" y1="654.79" x2="180" y2="654.79" stroke="#c9c9c9" stroke-width="0.45" />
<line x1="48.4" y1="656.7" x2="180" y2="656.7" stroke="#c9c9c9" stroke-width="0.45" />
<line x1="48.4" y1="638" x2="48.4" y2="657.2" stroke="#222" stroke-width="0.9" />
<line x1="180" y1="638" x2="180" y2="657.2" stroke="#222" stroke-width="1" />
<line x1="46.9" y1="639.5" x2="48.4" y2="639.5" stroke="#222" stroke-width="0.5" />
<line x1="180" y1="639.5" x2="182" y2="639.5" stroke="#222" stroke-width="0.6" />
<line x1="46.9" y1="641.41" x2="48.4" y2="641.41" stroke="#222" stroke-width="0.5" />
<line x1="180" y1="641.41" x2="182" y2="641.41" stroke="#222" stroke-width="0.6" />
<line x1="46.9" y1="643.32" x2="48.4" y2="643.32" stroke="#222" stroke-width="0.5" />
<line x1="180" y1="643.32" x2="182" y2="643.32" stroke="#222" stroke-width="0.6" />
<line x1="46.9" y1="645.23" x2="48.4" y2="645.23" stroke="#222" stroke-width="0.5" />
<line x1="180" y1="645.23" x2="182" y2="645.23" stroke="#222" stroke-width="0.6" />
<line x1="46.9" y1="647.14" x2="48.4" y2="647.14" stroke="#222" stroke-width="0.5" />
<line x1="180" y1="647.14" x2="182" y2="647.14" stroke="#222" stroke-width="0.6" />
<line x1="46.9" y1="649.06" x2="48.4" y2="649.06" stroke="#222" stroke-width="0.5" />
<line x1="180" y1="649.06" x2="182" y2="649.06" stroke="#222" stroke-width="0.6" />
<line x1="46.9" y1="650.97" x2="48.4" y2="650.97" stroke="#222" stroke-width="0.5" />
<line x1="180" y1="650.97" x2="182" y2="650.97" stroke="#222" stroke-width="0.6" />
<line x1="46.9" y1="652.88" x2="48.4" y2="652.88" stroke="#222" stroke-width="0.5" />
<line x1="180" y1="652.88" x2="182" y2="652.88" stroke="#222" stroke-width="0.6" />
<line x1="46.9" y1="654.79" x2="48.4" y2="654.79" stroke="#222" stroke-width="0.5" />
<line x1="180" y1="654.79" x2="182" y2="654.79" stroke="#222" stroke-width="0.6" />
<line x1="46.9" y1="656.7" x2="48.4" y2="656.7" stroke="#222" stroke-width="0.5" />
<line x1="180" y1="656.7" x2="182" y2="656.7" stroke="#222" stroke-width="0.6" />
<text x="43.9" y="641.5" font-size="3.3" fill="#444" text-anchor="end" font-weight="normal" font-style="normal"  stroke="#444" stroke-width="0.2">12</text>
<text x="43.9" y="644" font-size="3.3" fill="#444" text-anchor="end" font-weight="normal" font-style="normal"  stroke="#444" stroke-width="0.2">11</text>
<text x="43.9" y="646.5" font-size="3.3" fill="#444" text-anchor="end" font-weight="normal" font-style="normal"  stroke="#444" stroke-width="0.2">10</text>
<text x="43.9" y="649" font-size="3.3" fill="#444" text-anchor="end" font-weight="normal" font-style="normal"  stroke="#444" stroke-width="0.2">9</text>
<text x="43.9" y="651.5" font-size="3.3" fill="#444" text-anchor="end" font-weight="normal" font-style="normal"  stroke="#444" stroke-width="0.2">8</text>
<text x="185.2" y="641" font-size="3" fill="#444" text-anchor="middle" font-weight="normal" font-style="normal" transform="rotate(90 185.2 641)"  stroke="#444" stroke-width="0.2">80</text>
<text x="185.2" y="645.5" font-size="3" fill="#444" text-anchor="middle" font-weight="normal" font-style="normal" transform="rotate(90 185.2 645.5)"  stroke="#444" stroke-width="0.2">60</text>
<text x="185.2" y="650" font-size="3" fill="#444" text-anchor="middle" font-weight="normal" font-style="normal" transform="rotate(90 185.2 650)"  stroke="#444" stroke-width="0.2">40</text>
<text x="185.2" y="654.5" font-size="3" fill="#444" text-anchor="middle" font-weight="normal" font-style="normal" transform="rotate(90 185.2 654.5)"  stroke="#444" stroke-width="0.2">20</text>
<text x="24.68" y="624.4" font-size="6.6" fill="#5050b0" text-anchor="middle" font-weight="normal" font-style="normal" transform="rotate(-90 24.68 624.4)"  textLength="12.8" lengthAdjust="spacingAndGlyphs">WBC</text>
<text x="32.78" y="624.4" font-size="6.6" fill="#5050b0" text-anchor="middle" font-weight="normal" font-style="normal" transform="rotate(-90 32.78 624.4)"  textLength="21.2" lengthAdjust="spacingAndGlyphs">[10E9/L]</text>
<text x="24.68" y="648" font-size="6.6" fill="#b04040" text-anchor="middle" font-weight="normal" font-style="normal" transform="rotate(-90 24.68 648)"  textLength="7.8" lengthAdjust="spacingAndGlyphs">Hb</text>
<text x="32.78" y="648" font-size="6.6" fill="#b04040" text-anchor="middle" font-weight="normal" font-style="normal" transform="rotate(-90 32.78 648)"  textLength="13.6" lengthAdjust="spacingAndGlyphs">[g/dl]</text>
<text x="205.32" y="624.9" font-size="6.6" fill="#9a50b0" text-anchor="middle" font-weight="normal" font-style="normal" transform="rotate(90 205.32 624.9)"  textLength="16.7" lengthAdjust="spacingAndGlyphs">CD34+</text>
<text x="195.12" y="624.9" font-size="6.6" fill="#9a50b0" text-anchor="middle" font-weight="normal" font-style="normal" transform="rotate(90 195.12 624.9)"  textLength="10.1" lengthAdjust="spacingAndGlyphs">[%]</text>
<text x="205.32" y="647.8" font-size="6.6" fill="#222" text-anchor="middle" font-weight="normal" font-style="normal" transform="rotate(90 205.32 647.8)"  textLength="10.1" lengthAdjust="spacingAndGlyphs">PLT</text>
<text x="195.12" y="647.8" font-size="6.6" fill="#222" text-anchor="middle" font-weight="normal" font-style="normal" transform="rotate(90 195.12 647.8)"  textLength="22.3" lengthAdjust="spacingAndGlyphs">[10E9/L]</text>
<polyline points="70.75,619.8 113.75,619.2 158,633" fill="none" stroke="#3a3ab8" stroke-width="0.7" stroke-linejoin="round" stroke-linecap="butt" />
<circle cx="70.75" cy="619.8" r="1.15" fill="#3a3ab8"/><circle cx="113.75" cy="619.2" r="1.15" fill="#3a3ab8"/><circle cx="158" cy="633" r="1.15" fill="#3a3ab8"/>
<polyline points="70.75,632.4 113.75,632.4 158,617" fill="none" stroke="#9a3ab0" stroke-width="0.7" stroke-linejoin="round" stroke-linecap="butt" />
<circle cx="70.75" cy="632.4" r="1.15" fill="#9a3ab0"/><circle cx="113.75" cy="632.4" r="1.15" fill="#9a3ab0"/><circle cx="158" cy="617" r="1.15" fill="#9a3ab0"/>
<polyline points="70.75,640.5 113.75,641.1 158,656.25" fill="none" stroke="#b03a3a" stroke-width="0.7" stroke-linejoin="round" stroke-linecap="butt" />
<circle cx="70.75" cy="640.5" r="1.15" fill="#b03a3a"/><circle cx="113.75" cy="641.1" r="1.15" fill="#b03a3a"/><circle cx="158" cy="656.25" r="1.15" fill="#b03a3a"/>
<polyline points="70.75,640.1 113.75,645.6 158,656.25" fill="none" stroke="#222" stroke-width="0.7" stroke-linejoin="round" stroke-linecap="butt" />
<circle cx="70.75" cy="640.1" r="1.15" fill="#222"/><circle cx="113.75" cy="645.6" r="1.15" fill="#222"/><circle cx="158" cy="656.25" r="1.15" fill="#222"/>
<line x1="48.4" y1="743.42" x2="180" y2="743.42" stroke="#c9c9c9" stroke-width="0.45" />
<line x1="48.4" y1="735.05" x2="180" y2="735.05" stroke="#a8a8a8" stroke-width="0.6" />
<line x1="48.4" y1="726.67" x2="180" y2="726.67" stroke="#c9c9c9" stroke-width="0.45" />
<line x1="48.4" y1="718.3" x2="180" y2="718.3" stroke="#a8a8a8" stroke-width="0.6" />
<line x1="48.4" y1="709.92" x2="180" y2="709.92" stroke="#c9c9c9" stroke-width="0.45" />
<line x1="48.4" y1="701.55" x2="180" y2="701.55" stroke="#a8a8a8" stroke-width="0.6" />
<line x1="48.4" y1="693.17" x2="180" y2="693.17" stroke="#c9c9c9" stroke-width="0.45" />
<line x1="48.4" y1="684.8" x2="180" y2="684.8" stroke="#a8a8a8" stroke-width="0.6" />
<line x1="48.4" y1="676.42" x2="180" y2="676.42" stroke="#c9c9c9" stroke-width="0.45" />
<line x1="48.4" y1="668.05" x2="180" y2="668.05" stroke="#a8a8a8" stroke-width="0.6" />
<line x1="48.4" y1="659.67" x2="180" y2="659.67" stroke="#c9c9c9" stroke-width="0.45" />
<line x1="48.4" y1="659" x2="48.4" y2="751.8" stroke="#222" stroke-width="0.8" />
<line x1="48.4" y1="751.8" x2="188" y2="751.8" stroke="#222" stroke-width="0.8" />
<line x1="47.1" y1="751.8" x2="48.4" y2="751.8" stroke="#222" stroke-width="0.5" />
<text x="43" y="753.15" font-size="3.8" fill="#333" text-anchor="end" font-weight="normal" font-style="normal"  stroke="#333" stroke-width="0.2">0</text>
<line x1="47.1" y1="735.05" x2="48.4" y2="735.05" stroke="#222" stroke-width="0.5" />
<text x="43" y="736.4" font-size="3.8" fill="#333" text-anchor="end" font-weight="normal" font-style="normal"  stroke="#333" stroke-width="0.2">10</text>
<line x1="47.1" y1="718.3" x2="48.4" y2="718.3" stroke="#222" stroke-width="0.5" />
<text x="43" y="719.65" font-size="3.8" fill="#333" text-anchor="end" font-weight="normal" font-style="normal"  stroke="#333" stroke-width="0.2">20</text>
<line x1="47.1" y1="701.55" x2="48.4" y2="701.55" stroke="#222" stroke-width="0.5" />
<text x="43" y="702.9" font-size="3.8" fill="#333" text-anchor="end" font-weight="normal" font-style="normal"  stroke="#333" stroke-width="0.2">30</text>
<line x1="47.1" y1="684.8" x2="48.4" y2="684.8" stroke="#222" stroke-width="0.5" />
<text x="43" y="686.15" font-size="3.8" fill="#333" text-anchor="end" font-weight="normal" font-style="normal"  stroke="#333" stroke-width="0.2">40</text>
<line x1="47.1" y1="668.05" x2="48.4" y2="668.05" stroke="#222" stroke-width="0.5" />
<text x="43" y="669.4" font-size="3.8" fill="#333" text-anchor="end" font-weight="normal" font-style="normal"  stroke="#333" stroke-width="0.2">50</text>
<line x1="70.75" y1="751.8" x2="70.75" y2="754.2" stroke="#222" stroke-width="0.6" />
<line x1="113.75" y1="751.8" x2="113.75" y2="754.2" stroke="#222" stroke-width="0.6" />
<line x1="158" y1="751.8" x2="158" y2="754.2" stroke="#222" stroke-width="0.6" />
<line x1="181.75" y1="751.8" x2="181.75" y2="754.2" stroke="#222" stroke-width="0.6" />
<text x="70.75" y="760.5" font-size="4.7" fill="#222" text-anchor="middle" font-weight="normal" font-style="normal"  stroke="#222" stroke-width="0.2">08-2010</text>
<text x="113.75" y="760.5" font-size="4.7" fill="#222" text-anchor="middle" font-weight="normal" font-style="normal"  stroke="#222" stroke-width="0.2">09-2011</text>
<text x="158" y="760.5" font-size="4.7" fill="#222" text-anchor="middle" font-weight="normal" font-style="normal"  stroke="#222" stroke-width="0.2">07-2012</text>
<text x="31.5" y="705.4" font-size="5.6" fill="#333" text-anchor="middle" font-weight="normal" font-style="normal" transform="rotate(-90 31.5 705.4)"  stroke="#333" stroke-width="0.2">Variant allele frequency [%]</text>
<text x="181.75" y="756.5" font-size="3.5" fill="#444" text-anchor="middle" font-weight="normal" font-style="italic"  stroke="#444" stroke-width="0.2">03-</text>
<text x="181.75" y="760.5" font-size="3.5" fill="#444" text-anchor="middle" font-weight="normal" font-style="italic"  stroke="#444" stroke-width="0.2">2014</text>
<polyline points="70.75,699.6 113.75,704.9 158,701.4" fill="none" stroke="#b0b0b0" stroke-width="0.5" stroke-linejoin="round" stroke-linecap="butt" />
<circle cx="70.75" cy="699.6" r="0.5" fill="#b0b0b0"/><circle cx="113.75" cy="704.9" r="0.5" fill="#b0b0b0"/><circle cx="158" cy="701.4" r="0.5" fill="#b0b0b0"/>
<polyline points="70.75,672.4 113.75,678.6 158,671.8" fill="none" stroke="#3a3ae0" stroke-width="0.5" stroke-linejoin="round" stroke-linecap="butt" />
<polyline points="70.75,674.2 113.75,679.8 158,673.4" fill="none" stroke="#3a3ae0" stroke-width="0.5" stroke-linejoin="round" stroke-linecap="butt" />
<polyline points="70.75,676 113.75,681 158,675" fill="none" stroke="#3a3ae0" stroke-width="0.5" stroke-linejoin="round" stroke-linecap="butt" />
<polyline points="70.75,677.8 113.75,682.2 158,676.6" fill="none" stroke="#3a3ae0" stroke-width="0.5" stroke-linejoin="round" stroke-linecap="butt" />
<polyline points="70.75,679.6 113.75,683.4 158,678.2" fill="none" stroke="#3a3ae0" stroke-width="0.5" stroke-linejoin="round" stroke-linecap="butt" />
<polyline points="70.75,681.4 113.75,684.6 158,679.8" fill="none" stroke="#3a3ae0" stroke-width="0.5" stroke-linejoin="round" stroke-linecap="butt" />
<polyline points="70.75,683.2 113.75,685.8 158,681.4" fill="none" stroke="#3a3ae0" stroke-width="0.5" stroke-linejoin="round" stroke-linecap="butt" />
<polyline points="70.75,685 113.75,687 158,683" fill="none" stroke="#3a3ae0" stroke-width="0.5" stroke-linejoin="round" stroke-linecap="butt" />
<polyline points="70.75,686.8 113.75,688.2 158,684.6" fill="none" stroke="#3a3ae0" stroke-width="0.5" stroke-linejoin="round" stroke-linecap="butt" />
<polyline points="70.75,669 113.75,675 158,669" fill="none" stroke="#4a4ae8" stroke-width="0.5" stroke-linejoin="round" stroke-linecap="butt" />
<polyline points="70.75,685 113.75,685 158,682.4" fill="none" stroke="#4a4ae8" stroke-width="0.5" stroke-linejoin="round" stroke-linecap="butt" />
<circle cx="70.75" cy="685" r="0.5" fill="#4a4ae8"/><circle cx="113.75" cy="685" r="0.5" fill="#4a4ae8"/><circle cx="158" cy="682.4" r="0.5" fill="#4a4ae8"/>
<polyline points="70.75,667.9 113.75,675.8 158,667.9" fill="none" stroke="#f0f020" stroke-width="1.8" stroke-linejoin="round" stroke-linecap="butt" />
<polyline points="70.75,673.2 113.75,679.8 158,674.5" fill="none" stroke="#1010d0" stroke-width="2.4" stroke-linejoin="round" stroke-linecap="butt" />
<polyline points="70.75,675.8 113.75,682.4 158,677.2" fill="none" stroke="#1010d0" stroke-width="2.2" stroke-dasharray="3,1.5" stroke-linejoin="round" stroke-linecap="butt" />
<polyline points="70.75,678.5 113.75,683 158,679.5" fill="none" stroke="#2020d8" stroke-width="1.6" stroke-linejoin="round" stroke-linecap="butt" />
<polyline points="70.75,671.9 113.75,679 158,671.9" fill="none" stroke="#e8e8ff" stroke-width="0.8" stroke-dasharray="2.5,1.5" stroke-linejoin="round" stroke-linecap="butt" />
<polyline points="70.75,750.5 113.75,747 158,745.8" fill="none" stroke="#6a1a9a" stroke-width="2.6" stroke-linejoin="round" stroke-linecap="butt" />
<polyline points="70.75,750.5 113.75,744.4 158,735.2" fill="none" stroke="#b070d0" stroke-width="0.5" stroke-linejoin="round" stroke-linecap="butt" />
<polyline points="70.75,750.5 113.75,745 158,737.8" fill="none" stroke="#9a40c0" stroke-width="1.2" stroke-linejoin="round" stroke-linecap="butt" />
<polyline points="70.75,750.5 113.75,745.5 158,740.5" fill="none" stroke="#a050c8" stroke-width="1" stroke-linejoin="round" stroke-linecap="butt" />
<polyline points="70.75,750.5 113.75,743.9 158,726" fill="none" stroke="#b060d0" stroke-width="1.8" stroke-dasharray="3,2" stroke-linejoin="round" stroke-linecap="butt" />
<polyline points="70.75,750.5 113.75,745 158,733.5" fill="none" stroke="#b060d0" stroke-width="1.6" stroke-dasharray="3,2" stroke-linejoin="round" stroke-linecap="butt" />
<polyline points="70.75,750.5 113.75,744.4 158,684.3" fill="none" stroke="#6a1a9a" stroke-width="2.2" stroke-dasharray="4,2.5" stroke-linejoin="round" stroke-linecap="butt" />
<text x="181.9" y="747.5" font-size="7" fill="#111" text-anchor="middle" font-weight="bold" font-style="normal" >†</text>
<line x1="173.3" y1="669.5" x2="179.3" y2="669.5" stroke="#1010d0" stroke-width="2.2" />
<text x="184" y="670.95" font-size="4.1" fill="#333" text-anchor="start" font-weight="normal" font-style="normal"  stroke="#333" stroke-width="0.2">DNMT3A R379C</text>
<line x1="173.3" y1="677.5" x2="179.3" y2="677.5" stroke="#1010d0" stroke-width="2.2" stroke-dasharray="2.5,1"/>
<text x="184" y="678.95" font-size="4.1" fill="#333" text-anchor="start" font-weight="normal" font-style="normal"  stroke="#333" stroke-width="0.2">DNMT3A R326H</text>
<line x1="173.3" y1="685.5" x2="179.3" y2="685.5" stroke="#f0f020" stroke-width="2.2" />
<text x="184" y="686.95" font-size="4.1" fill="#333" text-anchor="start" font-weight="normal" font-style="normal"  stroke="#333" stroke-width="0.2">SRSF2 P95L</text>
<line x1="173.3" y1="693" x2="179.3" y2="693" stroke="#4080e0" stroke-width="1.6" stroke-dasharray="1.5,1"/>
<text x="184" y="694.45" font-size="4.1" fill="#333" text-anchor="start" font-weight="normal" font-style="normal"  stroke="#333" stroke-width="0.2">TET2 C1193R</text>
<line x1="173.3" y1="701" x2="179.3" y2="701" stroke="#6a1a9a" stroke-width="2.4" stroke-dasharray="3,1"/>
<text x="184" y="702.45" font-size="4.1" fill="#333" text-anchor="start" font-weight="normal" font-style="normal"  stroke="#333" stroke-width="0.2">BCOR P681fs*</text>
<line x1="173.3" y1="709" x2="179.3" y2="709" stroke="#6a1a9a" stroke-width="2.6" />
<text x="184" y="710.45" font-size="4.1" fill="#333" text-anchor="start" font-weight="normal" font-style="normal"  stroke="#333" stroke-width="0.2">RUNX1 E454G</text>
<line x1="173.3" y1="717.5" x2="179.3" y2="717.5" stroke="#b060d0" stroke-width="1.8" stroke-dasharray="3,1"/>
<text x="184" y="718.95" font-size="4.1" fill="#333" text-anchor="start" font-weight="normal" font-style="normal"  stroke="#333" stroke-width="0.2">STAG2 D707V*</text>
<line x1="173.3" y1="725.75" x2="179.3" y2="725.75" stroke="#c070d8" stroke-width="1.8" stroke-dasharray="3,1"/>
<text x="184" y="727.2" font-size="4.1" fill="#333" text-anchor="start" font-weight="normal" font-style="normal"  stroke="#333" stroke-width="0.2">STAG2 E968fs*</text>
<line x1="64" y1="765.3" x2="79" y2="765.3" stroke="#d04040" stroke-width="0.9" />
<line x1="150.5" y1="765.3" x2="165.5" y2="765.3" stroke="#d04040" stroke-width="0.9" />
<text x="37.5" y="776.6" font-size="4" fill="#111" text-anchor="middle" font-weight="bold" font-style="normal" >WHO</text>
<polygon points="49,769.5 140.5,769.5 143.53,775 140.5,780.5 49,780.5" fill="#e2ebc6" stroke="#888" stroke-width="0.5" stroke-linejoin="round"/>
<polygon points="140.5,769.5 185,769.5 188.03,775 185,780.5 140.5,780.5 143.53,775" fill="#e8cfd0" stroke="#888" stroke-width="0.5" stroke-linejoin="round"/>
<text x="94.75" y="776.5" font-size="4.3" fill="#222" text-anchor="middle" font-weight="bold" font-style="normal" >RCMD</text>
<text x="164.26" y="776.5" font-size="4.3" fill="#222" text-anchor="middle" font-weight="bold" font-style="normal" >RAEB-I</text>
<path d="M45.9,849.1 C46.57,847.7 48.8,845.18 49.9,840.7 C51,836.22 51.4,828.8 52.5,822.2 C53.6,815.6 54.97,806.15 56.5,801.1 C58.03,796.05 59.5,794.1 61.7,791.9 C63.9,789.7 65.73,788.35 69.7,787.9 C73.67,787.45 79.78,788.53 85.5,789.2 C91.22,789.87 97.85,791.23 104,791.9 C110.15,792.57 116.68,793.2 122.4,793.2 C128.12,793.2 133.45,792.43 138.3,791.9 C143.15,791.37 147.63,790.32 151.5,790 C155.37,789.68 159.83,790 161.5,790 L161.5,907.2 C159.38,907.1 154,906.92 148.8,906.6 C143.6,906.28 136.45,905.3 130.3,905.3 C124.15,905.3 118.48,906.15 111.9,906.6 C105.32,907.05 97.83,907.77 90.8,908 C83.77,908.23 74.55,908.67 69.7,908 C64.85,907.33 63.9,906.42 61.7,904 C59.5,901.58 58.03,897.9 56.5,893.5 C54.97,889.1 53.6,883.32 52.5,877.6 C51.4,871.88 51,863.95 49.9,859.2 C48.8,854.45 46.57,850.78 45.9,849.1 Z" fill="#c11c3a" stroke="#4a2a74" stroke-width="1.6" stroke-linejoin="round" />
<path d="M100,896.1 C101.53,895.22 105.47,893.88 109.2,890.8 C112.93,887.72 118.43,882.87 122.4,877.6 C126.37,872.33 129.48,866.67 133,859.2 C136.52,851.73 140.42,840.28 143.5,832.8 C146.58,825.32 149.08,818.93 151.5,814.3 C153.92,809.67 156.33,806.85 158,805 C159.67,803.15 160.92,803.5 161.5,803.2 L161.5,904.5 C156.3,904.17 139.02,903.33 130.3,902.5 C121.58,901.67 114.25,900.57 109.2,899.5 C104.15,898.43 101.53,896.67 100,896.1 Z" fill="#a91e84" stroke="#4a2a74" stroke-width="0.6" stroke-linejoin="round" />
<path d="M102.6,896.1 C104.15,895.43 108.6,894.3 111.9,892.1 C115.2,889.9 118.88,886.2 122.4,882.9 C125.92,879.6 129.48,875.15 133,872.3 C136.52,869.45 139.98,867.33 143.5,865.8 C147.02,864.27 151.1,863.68 154.1,863.1 C157.1,862.52 160.27,862.43 161.5,862.3 L161.5,898.9 C156.3,898.82 138.57,898.62 130.3,898.4 C122.03,898.18 116.52,897.98 111.9,897.6 C107.28,897.22 104.15,896.35 102.6,896.1 Z" fill="#9a8ec8" stroke="#4a2a74" stroke-width="0.6" stroke-linejoin="round" />
<rect x="161.7" y="785" width="4" height="125" fill="#fff" />
<polygon points="42,845.3 42.87,847.4 45.14,847.58 43.41,849.06 43.94,851.27 42,850.09 40.06,851.27 40.59,849.06 38.86,847.58 41.13,847.4" fill="#c0203a"/>
<text x="101.1" y="814.7" font-size="6.5" fill="#3a0f1e" text-anchor="middle" font-weight="bold" font-style="italic" stroke="#3a0f1e" stroke-width="0.22">TET2</text>
<text x="101.1" y="822.7" font-size="6.5" fill="#3a0f1e" text-anchor="middle" font-weight="bold" font-style="italic" stroke="#3a0f1e" stroke-width="0.22">/2xDNMT3A</text>
<text x="101.1" y="830.7" font-size="6.5" fill="#3a0f1e" text-anchor="middle" font-weight="bold" font-style="italic" stroke="#3a0f1e" stroke-width="0.22">/SRSF2</text>
<text x="150.3" y="853.6" font-size="6.6" fill="#3a0f3e" text-anchor="middle" font-weight="bold" font-style="italic" stroke="#3a0f3e" stroke-width="0.22">BCOR</text>
<text x="145.1" y="884.7" font-size="6.4" fill="#1a1a3a" text-anchor="middle" font-weight="bold" font-style="italic" stroke="#1a1a3a" stroke-width="0.22">RUNX1</text>
<text x="145.1" y="892.8" font-size="6.4" fill="#1a1a3a" text-anchor="middle" font-weight="bold" font-style="italic" stroke="#1a1a3a" stroke-width="0.22">/2xSTAG2</text>
<text x="286.1" y="600" font-size="11.8" fill="#111" text-anchor="start" font-weight="bold" font-style="normal" stroke="#111" stroke-width="0.3">F</text>
<text x="393" y="608.6" font-size="6.2" fill="#111" text-anchor="middle" font-weight="bold" font-style="normal" >P30</text>
<rect x="328.4" y="614.4" width="126.1" height="3.52" fill="#ebebeb" />
<rect x="328.4" y="621.44" width="126.1" height="3.52" fill="#ebebeb" />
<rect x="328.4" y="628.48" width="126.1" height="3.52" fill="#ebebeb" />
<line x1="328.4" y1="614.4" x2="454.5" y2="614.4" stroke="#c9c9c9" stroke-width="0.45" />
<line x1="328.4" y1="617.92" x2="454.5" y2="617.92" stroke="#c9c9c9" stroke-width="0.45" />
<line x1="328.4" y1="621.44" x2="454.5" y2="621.44" stroke="#c9c9c9" stroke-width="0.45" />
<line x1="328.4" y1="624.96" x2="454.5" y2="624.96" stroke="#c9c9c9" stroke-width="0.45" />
<line x1="328.4" y1="628.48" x2="454.5" y2="628.48" stroke="#c9c9c9" stroke-width="0.45" />
<line x1="328.4" y1="632" x2="454.5" y2="632" stroke="#c9c9c9" stroke-width="0.45" />
<line x1="328.4" y1="612.9" x2="328.4" y2="632.5" stroke="#222" stroke-width="0.9" />
<line x1="454.5" y1="612.9" x2="454.5" y2="632.5" stroke="#222" stroke-width="1" />
<line x1="326.9" y1="614.4" x2="328.4" y2="614.4" stroke="#222" stroke-width="0.5" />
<line x1="454.5" y1="614.4" x2="456.5" y2="614.4" stroke="#222" stroke-width="0.6" />
<line x1="326.9" y1="617.92" x2="328.4" y2="617.92" stroke="#222" stroke-width="0.5" />
<line x1="454.5" y1="617.92" x2="456.5" y2="617.92" stroke="#222" stroke-width="0.6" />
<line x1="326.9" y1="621.44" x2="328.4" y2="621.44" stroke="#222" stroke-width="0.5" />
<line x1="454.5" y1="621.44" x2="456.5" y2="621.44" stroke="#222" stroke-width="0.6" />
<line x1="326.9" y1="624.96" x2="328.4" y2="624.96" stroke="#222" stroke-width="0.5" />
<line x1="454.5" y1="624.96" x2="456.5" y2="624.96" stroke="#222" stroke-width="0.6" />
<line x1="326.9" y1="628.48" x2="328.4" y2="628.48" stroke="#222" stroke-width="0.5" />
<line x1="454.5" y1="628.48" x2="456.5" y2="628.48" stroke="#222" stroke-width="0.6" />
<line x1="326.9" y1="632" x2="328.4" y2="632" stroke="#222" stroke-width="0.5" />
<line x1="454.5" y1="632" x2="456.5" y2="632" stroke="#222" stroke-width="0.6" />
<text x="323.9" y="615.9" font-size="3.3" fill="#444" text-anchor="end" font-weight="normal" font-style="normal"  stroke="#444" stroke-width="0.2">5</text>
<text x="323.9" y="619.4" font-size="3.3" fill="#444" text-anchor="end" font-weight="normal" font-style="normal"  stroke="#444" stroke-width="0.2">4</text>
<text x="323.9" y="622.8" font-size="3.3" fill="#444" text-anchor="end" font-weight="normal" font-style="normal"  stroke="#444" stroke-width="0.2">3</text>
<text x="323.9" y="626.3" font-size="3.3" fill="#444" text-anchor="end" font-weight="normal" font-style="normal"  stroke="#444" stroke-width="0.2">2</text>
<text x="323.9" y="629.8" font-size="3.3" fill="#444" text-anchor="end" font-weight="normal" font-style="normal"  stroke="#444" stroke-width="0.2">1</text>
<text x="457.7" y="616" font-size="3.1" fill="#444" text-anchor="start" font-weight="normal" font-style="normal"  stroke="#444" stroke-width="0.2">0.8</text>
<text x="457.7" y="619.5" font-size="3.1" fill="#444" text-anchor="start" font-weight="normal" font-style="normal"  stroke="#444" stroke-width="0.2">0.6</text>
<text x="457.7" y="623" font-size="3.1" fill="#444" text-anchor="start" font-weight="normal" font-style="normal"  stroke="#444" stroke-width="0.2">0.4</text>
<text x="457.7" y="626.5" font-size="3.1" fill="#444" text-anchor="start" font-weight="normal" font-style="normal"  stroke="#444" stroke-width="0.2">0.2</text>
<text x="457.7" y="630" font-size="3.1" fill="#444" text-anchor="start" font-weight="normal" font-style="normal"  stroke="#444" stroke-width="0.2">0.0</text>
<line x1="328.4" y1="639.1" x2="454.5" y2="639.1" stroke="#c9c9c9" stroke-width="0.45" />
<line x1="328.4" y1="643.27" x2="454.5" y2="643.27" stroke="#c9c9c9" stroke-width="0.45" />
<line x1="328.4" y1="647.45" x2="454.5" y2="647.45" stroke="#c9c9c9" stroke-width="0.45" />
<line x1="328.4" y1="651.62" x2="454.5" y2="651.62" stroke="#c9c9c9" stroke-width="0.45" />
<line x1="328.4" y1="655.8" x2="454.5" y2="655.8" stroke="#c9c9c9" stroke-width="0.45" />
<line x1="328.4" y1="637.6" x2="328.4" y2="656.3" stroke="#222" stroke-width="0.9" />
<line x1="454.5" y1="637.6" x2="454.5" y2="656.3" stroke="#222" stroke-width="1" />
<line x1="326.9" y1="639.1" x2="328.4" y2="639.1" stroke="#222" stroke-width="0.5" />
<line x1="454.5" y1="639.1" x2="456.5" y2="639.1" stroke="#222" stroke-width="0.6" />
<line x1="326.9" y1="643.27" x2="328.4" y2="643.27" stroke="#222" stroke-width="0.5" />
<line x1="454.5" y1="643.27" x2="456.5" y2="643.27" stroke="#222" stroke-width="0.6" />
<line x1="326.9" y1="647.45" x2="328.4" y2="647.45" stroke="#222" stroke-width="0.5" />
<line x1="454.5" y1="647.45" x2="456.5" y2="647.45" stroke="#222" stroke-width="0.6" />
<line x1="326.9" y1="651.62" x2="328.4" y2="651.62" stroke="#222" stroke-width="0.5" />
<line x1="454.5" y1="651.62" x2="456.5" y2="651.62" stroke="#222" stroke-width="0.6" />
<line x1="326.9" y1="655.8" x2="328.4" y2="655.8" stroke="#222" stroke-width="0.5" />
<line x1="454.5" y1="655.8" x2="456.5" y2="655.8" stroke="#222" stroke-width="0.6" />
<text x="323.9" y="640.7" font-size="3.3" fill="#444" text-anchor="end" font-weight="normal" font-style="normal"  stroke="#444" stroke-width="0.2">12</text>
<text x="323.9" y="648.6" font-size="3.3" fill="#444" text-anchor="end" font-weight="normal" font-style="normal"  stroke="#444" stroke-width="0.2">11</text>
<text x="323.9" y="656.5" font-size="3.3" fill="#444" text-anchor="end" font-weight="normal" font-style="normal"  stroke="#444" stroke-width="0.2">10</text>
<text x="457.7" y="640.6" font-size="3.1" fill="#444" text-anchor="start" font-weight="normal" font-style="normal"  stroke="#444" stroke-width="0.2">200</text>
<text x="457.7" y="644.8" font-size="3.1" fill="#444" text-anchor="start" font-weight="normal" font-style="normal"  stroke="#444" stroke-width="0.2">150</text>
<text x="457.7" y="649" font-size="3.1" fill="#444" text-anchor="start" font-weight="normal" font-style="normal"  stroke="#444" stroke-width="0.2">100</text>
<text x="457.7" y="653.2" font-size="3.1" fill="#444" text-anchor="start" font-weight="normal" font-style="normal"  stroke="#444" stroke-width="0.2">50</text>
<text x="457.7" y="656.9" font-size="3.1" fill="#444" text-anchor="start" font-weight="normal" font-style="normal"  stroke="#444" stroke-width="0.2">0</text>
<text x="305.3" y="622.5" font-size="6.4" fill="#5050b0" text-anchor="middle" font-weight="normal" font-style="normal" transform="rotate(-90 305.3 622.5)"  textLength="12.42" lengthAdjust="spacingAndGlyphs">WBC</text>
<text x="313.8" y="622.5" font-size="6.4" fill="#5050b0" text-anchor="middle" font-weight="normal" font-style="normal" transform="rotate(-90 313.8 622.5)"  textLength="20.56" lengthAdjust="spacingAndGlyphs">[10E9/L]</text>
<text x="305.3" y="646" font-size="6.4" fill="#b04040" text-anchor="middle" font-weight="normal" font-style="normal" transform="rotate(-90 305.3 646)"  textLength="7.57" lengthAdjust="spacingAndGlyphs">Hb</text>
<text x="313.8" y="646" font-size="6.4" fill="#b04040" text-anchor="middle" font-weight="normal" font-style="normal" transform="rotate(-90 313.8 646)"  textLength="13.19" lengthAdjust="spacingAndGlyphs">[g/dl]</text>
<text x="479.7" y="622.7" font-size="6.4" fill="#9a50b0" text-anchor="middle" font-weight="normal" font-style="normal" transform="rotate(90 479.7 622.7)"  textLength="16.2" lengthAdjust="spacingAndGlyphs">CD34+</text>
<text x="469.7" y="622.7" font-size="6.4" fill="#9a50b0" text-anchor="middle" font-weight="normal" font-style="normal" transform="rotate(90 469.7 622.7)"  textLength="9.8" lengthAdjust="spacingAndGlyphs">[%]</text>
<text x="479.7" y="646.6" font-size="6.4" fill="#222" text-anchor="middle" font-weight="normal" font-style="normal" transform="rotate(90 479.7 646.6)"  textLength="9.8" lengthAdjust="spacingAndGlyphs">PLT</text>
<text x="469.7" y="646.6" font-size="6.4" fill="#222" text-anchor="middle" font-weight="normal" font-style="normal" transform="rotate(90 469.7 646.6)"  textLength="21.63" lengthAdjust="spacingAndGlyphs">[10E9/L]</text>
<polyline points="349,628.9 391.6,624.6 434,618.9" fill="none" stroke="#3a3ab8" stroke-width="0.7" stroke-linejoin="round" stroke-linecap="butt" />
<circle cx="349" cy="628.9" r="1.15" fill="#3a3ab8"/><circle cx="391.6" cy="624.6" r="1.15" fill="#3a3ab8"/><circle cx="434" cy="618.9" r="1.15" fill="#3a3ab8"/>
<polyline points="349,631 391.6,630.8 434,618.9" fill="none" stroke="#9a3ab0" stroke-width="0.7" stroke-linejoin="round" stroke-linecap="butt" />
<circle cx="349" cy="631" r="1.15" fill="#9a3ab0"/><circle cx="391.6" cy="630.8" r="1.15" fill="#9a3ab0"/><circle cx="434" cy="618.9" r="1.15" fill="#9a3ab0"/>
<polyline points="349,655.3 391.6,643.5 434,654.6" fill="none" stroke="#b03a3a" stroke-width="0.7" stroke-linejoin="round" stroke-linecap="butt" />
<circle cx="349" cy="655.3" r="1.15" fill="#b03a3a"/><circle cx="391.6" cy="643.5" r="1.15" fill="#b03a3a"/><circle cx="434" cy="654.6" r="1.15" fill="#b03a3a"/>
<polyline points="349,649 391.6,643.1 434,639" fill="none" stroke="#222" stroke-width="0.7" stroke-linejoin="round" stroke-linecap="butt" />
<circle cx="349" cy="649" r="1.15" fill="#222"/><circle cx="391.6" cy="643.1" r="1.15" fill="#222"/><circle cx="434" cy="639" r="1.15" fill="#222"/>
<line x1="328.4" y1="750.1" x2="454.5" y2="750.1" stroke="#c9c9c9" stroke-width="0.45" />
<line x1="328.4" y1="742.3" x2="454.5" y2="742.3" stroke="#c9c9c9" stroke-width="0.45" />
<line x1="328.4" y1="734.5" x2="454.5" y2="734.5" stroke="#c9c9c9" stroke-width="0.45" />
<line x1="328.4" y1="726.7" x2="454.5" y2="726.7" stroke="#c9c9c9" stroke-width="0.45" />
<line x1="328.4" y1="718.9" x2="454.5" y2="718.9" stroke="#c9c9c9" stroke-width="0.45" />
<line x1="328.4" y1="711.1" x2="454.5" y2="711.1" stroke="#c9c9c9" stroke-width="0.45" />
<line x1="328.4" y1="703.3" x2="454.5" y2="703.3" stroke="#c9c9c9" stroke-width="0.45" />
<line x1="328.4" y1="695.5" x2="454.5" y2="695.5" stroke="#c9c9c9" stroke-width="0.45" />
<line x1="328.4" y1="687.7" x2="454.5" y2="687.7" stroke="#c9c9c9" stroke-width="0.45" />
<line x1="328.4" y1="679.9" x2="454.5" y2="679.9" stroke="#c9c9c9" stroke-width="0.45" />
<line x1="328.4" y1="672.1" x2="454.5" y2="672.1" stroke="#c9c9c9" stroke-width="0.45" />
<line x1="328.4" y1="664.3" x2="454.5" y2="664.3" stroke="#c9c9c9" stroke-width="0.45" />
<line x1="328.4" y1="658.2" x2="328.4" y2="757.9" stroke="#222" stroke-width="0.8" />
<line x1="328.4" y1="757.9" x2="460" y2="757.9" stroke="#222" stroke-width="0.8" />
<line x1="327.1" y1="757.9" x2="328.4" y2="757.9" stroke="#222" stroke-width="0.5" />
<text x="323" y="759.25" font-size="3.8" fill="#333" text-anchor="end" font-weight="normal" font-style="normal"  stroke="#333" stroke-width="0.2">0</text>
<line x1="327.1" y1="742.3" x2="328.4" y2="742.3" stroke="#222" stroke-width="0.5" />
<text x="323" y="743.65" font-size="3.8" fill="#333" text-anchor="end" font-weight="normal" font-style="normal"  stroke="#333" stroke-width="0.2">10</text>
<line x1="327.1" y1="726.7" x2="328.4" y2="726.7" stroke="#222" stroke-width="0.5" />
<text x="323" y="728.05" font-size="3.8" fill="#333" text-anchor="end" font-weight="normal" font-style="normal"  stroke="#333" stroke-width="0.2">20</text>
<line x1="327.1" y1="711.1" x2="328.4" y2="711.1" stroke="#222" stroke-width="0.5" />
<text x="323" y="712.45" font-size="3.8" fill="#333" text-anchor="end" font-weight="normal" font-style="normal"  stroke="#333" stroke-width="0.2">30</text>
<line x1="327.1" y1="695.5" x2="328.4" y2="695.5" stroke="#222" stroke-width="0.5" />
<text x="323" y="696.85" font-size="3.8" fill="#333" text-anchor="end" font-weight="normal" font-style="normal"  stroke="#333" stroke-width="0.2">40</text>
<line x1="327.1" y1="679.9" x2="328.4" y2="679.9" stroke="#222" stroke-width="0.5" />
<text x="323" y="681.25" font-size="3.8" fill="#333" text-anchor="end" font-weight="normal" font-style="normal"  stroke="#333" stroke-width="0.2">50</text>
<line x1="327.1" y1="664.3" x2="328.4" y2="664.3" stroke="#222" stroke-width="0.5" />
<text x="323" y="665.65" font-size="3.8" fill="#333" text-anchor="end" font-weight="normal" font-style="normal"  stroke="#333" stroke-width="0.2">60</text>
<line x1="349" y1="757.9" x2="349" y2="760.3" stroke="#222" stroke-width="0.6" />
<line x1="391.6" y1="757.9" x2="391.6" y2="760.3" stroke="#222" stroke-width="0.6" />
<line x1="434" y1="757.9" x2="434" y2="760.3" stroke="#222" stroke-width="0.6" />
<line x1="453.5" y1="757.9" x2="453.5" y2="760.3" stroke="#222" stroke-width="0.6" />
<text x="349" y="768.5" font-size="4.3" fill="#222" text-anchor="middle" font-weight="normal" font-style="normal"  stroke="#222" stroke-width="0.2">01-2012 (PB)</text>
<text x="391.6" y="768.5" font-size="4.3" fill="#222" text-anchor="middle" font-weight="normal" font-style="normal"  stroke="#222" stroke-width="0.2">03-2012 (BM)</text>
<text x="434" y="768.5" font-size="4.3" fill="#222" text-anchor="middle" font-weight="normal" font-style="normal"  stroke="#222" stroke-width="0.2">08-2012 (BM)</text>
<text x="312" y="708.05" font-size="5.6" fill="#333" text-anchor="middle" font-weight="normal" font-style="normal" transform="rotate(-90 312 708.05)"  stroke="#333" stroke-width="0.2">Variant allele frequency [%]</text>
<text x="453.5" y="762.3" font-size="3.5" fill="#444" text-anchor="middle" font-weight="normal" font-style="italic"  stroke="#444" stroke-width="0.2">11-</text>
<text x="453.5" y="767.3" font-size="3.5" fill="#444" text-anchor="middle" font-weight="normal" font-style="italic"  stroke="#444" stroke-width="0.2">2012</text>
<polyline points="349,698.15 391.6,718.55 434,680.45" fill="none" stroke="#3a3ae8" stroke-width="0.55" stroke-linejoin="round" stroke-linecap="butt" />
<polyline points="349,698.61 391.6,720.8 434,680.74" fill="none" stroke="#3a3ae8" stroke-width="0.55" stroke-linejoin="round" stroke-linecap="butt" />
<polyline points="349,699.55 391.6,721.81 434,680.91" fill="none" stroke="#3a3ae8" stroke-width="0.55" stroke-linejoin="round" stroke-linecap="butt" />
<polyline points="349,701.27 391.6,721.59 434,682.21" fill="none" stroke="#3a3ae8" stroke-width="0.55" stroke-linejoin="round" stroke-linecap="butt" />
<polyline points="349,702.22 391.6,724.95 434,683.46" fill="none" stroke="#3a3ae8" stroke-width="0.55" stroke-linejoin="round" stroke-linecap="butt" />
<polyline points="349,702.78 391.6,725.45 434,687.08" fill="none" stroke="#3a3ae8" stroke-width="0.55" stroke-linejoin="round" stroke-linecap="butt" />
<polyline points="349,704.45 391.6,725.85 434,688.31" fill="none" stroke="#3a3ae8" stroke-width="0.55" stroke-linejoin="round" stroke-linecap="butt" />
<polyline points="349,704.36 391.6,728.33 434,687.4" fill="none" stroke="#3a3ae8" stroke-width="0.55" stroke-linejoin="round" stroke-linecap="butt" />
<polyline points="349,705.52 391.6,727.2 434,688.6" fill="none" stroke="#3a3ae8" stroke-width="0.55" stroke-linejoin="round" stroke-linecap="butt" />
<polyline points="349,707.83 391.6,728.48 434,690.56" fill="none" stroke="#3a3ae8" stroke-width="0.55" stroke-linejoin="round" stroke-linecap="butt" />
<polyline points="349,708.44 391.6,730.15 434,691.61" fill="none" stroke="#3a3ae8" stroke-width="0.55" stroke-linejoin="round" stroke-linecap="butt" />
<polyline points="349,708.26 391.6,730.31 434,691.73" fill="none" stroke="#3a3ae8" stroke-width="0.55" stroke-linejoin="round" stroke-linecap="butt" />
<polyline points="349,710.46 391.6,732.5 434,693.2" fill="none" stroke="#3a3ae8" stroke-width="0.55" stroke-linejoin="round" stroke-linecap="butt" />
<polyline points="349,711.24 391.6,733.67 434,694.31" fill="none" stroke="#3a3ae8" stroke-width="0.55" stroke-linejoin="round" stroke-linecap="butt" />
<polyline points="349,712.62 391.6,735.5 434,695.29" fill="none" stroke="#3a3ae8" stroke-width="0.55" stroke-linejoin="round" stroke-linecap="butt" />
<polyline points="349,713.15 391.6,736.08 434,698.33" fill="none" stroke="#3a3ae8" stroke-width="0.55" stroke-linejoin="round" stroke-linecap="butt" />
<polyline points="349,692 391.6,719.6 434,666" fill="none" stroke="#4a4ae8" stroke-width="0.5" stroke-linejoin="round" stroke-linecap="butt" />
<circle cx="349" cy="692" r="0.5" fill="#4a4ae8"/><circle cx="391.6" cy="719.6" r="0.5" fill="#4a4ae8"/><circle cx="434" cy="666" r="0.5" fill="#4a4ae8"/>
<polyline points="349,713.5 391.6,739.4 434,697.5" fill="none" stroke="#4a4ae8" stroke-width="0.5" stroke-linejoin="round" stroke-linecap="butt" />
<circle cx="349" cy="713.5" r="0.5" fill="#4a4ae8"/><circle cx="391.6" cy="739.4" r="0.5" fill="#4a4ae8"/><circle cx="434" cy="697.5" r="0.5" fill="#4a4ae8"/>
<polyline points="349,703.8 391.6,723.6 434,689.3" fill="none" stroke="#1010c8" stroke-width="2.4" stroke-linejoin="round" stroke-linecap="butt" />
<polyline points="349,706.5 391.6,727 434,692" fill="none" stroke="#1010c8" stroke-width="1.8" stroke-dasharray="3,1.5" stroke-linejoin="round" stroke-linecap="butt" />
<polyline points="349,710.4 391.6,724.9 434,694.6" fill="none" stroke="#f0f040" stroke-width="1.6" stroke-dasharray="3,2.2" stroke-linejoin="round" stroke-linecap="butt" />
<polyline points="349,726.2 391.6,743.4 434,746" fill="none" stroke="#f0a060" stroke-width="0.5" stroke-linejoin="round" stroke-linecap="butt" />
<polyline points="349,730.2 391.6,745.2 434,747.9" fill="none" stroke="#f06820" stroke-width="1.8" stroke-linejoin="round" stroke-linecap="butt" />
<polyline points="349,755.8 391.6,757.9 434,734.2" fill="none" stroke="#20b020" stroke-width="1.8" stroke-linejoin="round" stroke-linecap="butt" />
<text x="453.5" y="755" font-size="7" fill="#111" text-anchor="middle" font-weight="bold" font-style="normal" >†</text>
<line x1="442.3" y1="671" x2="448.3" y2="671" stroke="#f0f040" stroke-width="2.2" stroke-dasharray="2,1"/>
<text x="454" y="672.45" font-size="4.1" fill="#333" text-anchor="start" font-weight="normal" font-style="normal"  stroke="#333" stroke-width="0.2">SRSF2 P95H</text>
<line x1="442.3" y1="679" x2="448.3" y2="679" stroke="#1010c8" stroke-width="2.4" />
<text x="454" y="680.45" font-size="4.1" fill="#333" text-anchor="start" font-weight="normal" font-style="normal"  stroke="#333" stroke-width="0.2">TET2 R1516X</text>
<line x1="442.3" y1="688.6" x2="448.3" y2="688.6" stroke="#1010c8" stroke-width="2.2" stroke-dasharray="2.5,1"/>
<text x="454" y="690.05" font-size="4.1" fill="#333" text-anchor="start" font-weight="normal" font-style="normal"  stroke="#333" stroke-width="0.2">TET2 H1382N</text>
<line x1="442.3" y1="697" x2="448.3" y2="697" stroke="#f06820" stroke-width="2.2" />
<text x="454" y="698.45" font-size="4.1" fill="#333" text-anchor="start" font-weight="normal" font-style="normal"  stroke="#333" stroke-width="0.2">NF1 L907fs</text>
<line x1="442.3" y1="706" x2="448.3" y2="706" stroke="#20b020" stroke-width="2.2" />
<text x="454" y="707.45" font-size="4.1" fill="#333" text-anchor="start" font-weight="normal" font-style="normal"  stroke="#333" stroke-width="0.2">del(5q)</text>
<line x1="378.8" y1="773" x2="403.9" y2="773" stroke="#d04040" stroke-width="0.9" />
<line x1="421" y1="773" x2="446" y2="773" stroke="#d04040" stroke-width="0.9" />
<text x="317" y="783.6" font-size="4" fill="#111" text-anchor="middle" font-weight="bold" font-style="normal" >WHO</text>
<polygon points="329,777 377,777 379.89,782.25 377,787.5 329,787.5" fill="#e2ebc6" stroke="#888" stroke-width="0.5" stroke-linejoin="round"/>
<polygon points="377,777 415,777 417.89,782.25 415,787.5 377,787.5 379.89,782.25" fill="#e8cfd0" stroke="#888" stroke-width="0.5" stroke-linejoin="round"/>
<polygon points="415,777 458,777 460.89,782.25 458,787.5 415,787.5 417.89,782.25" fill="#cfa3ad" stroke="#888" stroke-width="0.5" stroke-linejoin="round"/>
<text x="353" y="781.65" font-size="4.1" fill="#222" text-anchor="middle" font-weight="bold" font-style="italic" >Unclear diagnosis</text>
<text x="353" y="785.95" font-size="4.1" fill="#222" text-anchor="middle" font-weight="bold" font-style="italic" >/ "pancytopenia"</text>
<text x="397.44" y="783.75" font-size="4.3" fill="#222" text-anchor="middle" font-weight="bold" font-style="normal" >RCMD</text>
<text x="437.94" y="783.75" font-size="4.3" fill="#222" text-anchor="middle" font-weight="bold" font-style="normal" >sAML</text>
<path d="M325.9,862.5 C326.78,860.83 329.22,856.8 331.2,852.5 C333.18,848.2 335.6,841.53 337.8,836.7 C340,831.87 341.98,827.02 344.4,823.5 C346.82,819.98 349.67,817.28 352.3,815.6 C354.93,813.92 357.12,813.5 360.2,813.4 C363.28,813.3 366.83,813.77 370.8,815 C374.77,816.23 380.05,818.28 384,820.8 C387.95,823.32 391.43,828.12 394.5,830.1 C397.57,832.08 399.32,832.48 402.4,832.7 C405.48,832.92 409.48,832.5 413,831.4 C416.52,830.3 419.98,828.08 423.5,826.1 C427.02,824.12 430.45,821.68 434.1,819.5 C437.75,817.32 443.52,814.08 445.4,813 L445.4,911.9 C443.52,910.8 437.75,907.5 434.1,905.3 C430.45,903.1 427.02,900.9 423.5,898.7 C419.98,896.5 416.52,893.42 413,892.1 C409.48,890.78 405.92,890.37 402.4,890.8 C398.88,891.23 395.42,892.73 391.9,894.7 C388.38,896.67 384.82,900.18 381.3,902.6 C377.78,905.02 374.32,907.88 370.8,909.2 C367.28,910.52 363.72,911.15 360.2,910.5 C356.68,909.85 353.22,908.37 349.7,905.3 C346.18,902.23 342.18,897.38 339.1,892.1 C336.02,886.82 333.4,878.53 331.2,873.6 C329,868.67 326.78,864.35 325.9,862.5 Z" fill="#2f6dbb" stroke="#1b3068" stroke-width="1.6" stroke-linejoin="round" />
<path d="M333.8,881.5 C334.68,879.3 336.9,871.82 339.1,868.3 C341.3,864.78 343.92,862.37 347,860.4 C350.08,858.43 353.63,856.93 357.6,856.5 C361.57,856.07 365.97,856.93 370.8,857.8 C375.63,858.67 381.33,860.38 386.6,861.7 C391.87,863.02 398,864.38 402.4,865.7 C406.8,867.02 409.48,868.07 413,869.6 C416.52,871.13 419.98,872.92 423.5,874.9 C427.02,876.88 430.45,879.3 434.1,881.5 C437.75,883.7 443.52,887 445.4,888.1 L445.4,909.2 C443.52,908.1 437.75,904.8 434.1,902.6 C430.45,900.4 427.02,898.2 423.5,896 C419.98,893.8 416.52,890.72 413,889.4 C409.48,888.08 405.92,887.65 402.4,888.1 C398.88,888.55 395.42,890.2 391.9,892.1 C388.38,894 384.82,897.18 381.3,899.5 C377.78,901.82 374.32,904.68 370.8,906 C367.28,907.32 363.72,907.97 360.2,907.4 C356.68,906.83 352.78,904.72 349.7,902.6 C346.62,900.48 343.9,897.77 341.7,894.7 C339.5,891.63 337.82,886.4 336.5,884.2 C335.18,882 334.25,881.95 333.8,881.5 Z" fill="#f48a2e" stroke="#1b3068" stroke-width="0.6" stroke-linejoin="round" />
<path d="M405.1,865.5 C406.42,864.87 409.93,863.43 413,861.7 C416.07,859.97 419.98,857.52 423.5,855.1 C427.02,852.68 430.45,849.62 434.1,847.2 C437.75,844.78 443.52,841.7 445.4,840.6 L445.4,886.8 C443.52,885.72 437.75,882.45 434.1,880.3 C430.45,878.15 427.02,875.82 423.5,873.9 C419.98,871.98 416.07,870.2 413,868.8 C409.93,867.4 406.42,866.05 405.1,865.5 Z" fill="#3cb44a" stroke="#1b3068" stroke-width="0.6" stroke-linejoin="round" />
<rect x="445.6" y="805" width="4" height="115" fill="#fff" />
<polygon points="323.3,859.7 324.17,861.8 326.44,861.98 324.71,863.46 325.24,865.67 323.3,864.49 321.36,865.67 321.89,863.46 320.16,861.98 322.43,861.8" fill="#c0203a"/>
<text x="371.8" y="835" font-size="7.2" fill="#10204a" text-anchor="middle" font-weight="bold" font-style="italic" stroke="#10204a" stroke-width="0.22">TET2/</text>
<text x="371.8" y="843.3" font-size="7.2" fill="#10204a" text-anchor="middle" font-weight="bold" font-style="italic" stroke="#10204a" stroke-width="0.22">SRSF2</text>
<text x="367.7" y="886.6" font-size="6.4" fill="#3a1a0a" text-anchor="middle" font-weight="bold" font-style="italic" stroke="#3a1a0a" stroke-width="0.22">NF1</text>
<text x="433.6" y="868.1" font-size="6.7" fill="#0a3a10" text-anchor="middle" font-weight="bold" font-style="italic" stroke="#0a3a10" stroke-width="0.22">del(5q)</text>
<text x="7" y="944" font-size="11.8" fill="#111" text-anchor="start" font-weight="bold" font-style="normal" stroke="#111" stroke-width="0.3">G</text>
<text x="141.75" y="953.6" font-size="6.2" fill="#111" text-anchor="middle" font-weight="bold" font-style="normal" >P02</text>
<line x1="48.4" y1="959.5" x2="232" y2="959.5" stroke="#c9c9c9" stroke-width="0.45" />
<line x1="48.4" y1="961.73" x2="232" y2="961.73" stroke="#c9c9c9" stroke-width="0.45" />
<line x1="48.4" y1="963.95" x2="232" y2="963.95" stroke="#c9c9c9" stroke-width="0.45" />
<line x1="48.4" y1="966.17" x2="232" y2="966.17" stroke="#c9c9c9" stroke-width="0.45" />
<line x1="48.4" y1="968.4" x2="232" y2="968.4" stroke="#c9c9c9" stroke-width="0.45" />
<line x1="48.4" y1="970.62" x2="232" y2="970.62" stroke="#c9c9c9" stroke-width="0.45" />
<line x1="48.4" y1="972.85" x2="232" y2="972.85" stroke="#c9c9c9" stroke-width="0.45" />
<line x1="48.4" y1="975.07" x2="232" y2="975.07" stroke="#c9c9c9" stroke-width="0.45" />
<line x1="48.4" y1="977.3" x2="232" y2="977.3" stroke="#c9c9c9" stroke-width="0.45" />
<line x1="48.4" y1="958" x2="48.4" y2="977.8" stroke="#222" stroke-width="0.9" />
<line x1="232" y1="958" x2="232" y2="977.8" stroke="#222" stroke-width="1" />
<line x1="46.9" y1="959.5" x2="48.4" y2="959.5" stroke="#222" stroke-width="0.5" />
<line x1="232" y1="959.5" x2="234" y2="959.5" stroke="#222" stroke-width="0.6" />
<line x1="46.9" y1="961.73" x2="48.4" y2="961.73" stroke="#222" stroke-width="0.5" />
<line x1="232" y1="961.73" x2="234" y2="961.73" stroke="#222" stroke-width="0.6" />
<line x1="46.9" y1="963.95" x2="48.4" y2="963.95" stroke="#222" stroke-width="0.5" />
<line x1="232" y1="963.95" x2="234" y2="963.95" stroke="#222" stroke-width="0.6" />
<line x1="46.9" y1="966.17" x2="48.4" y2="966.17" stroke="#222" stroke-width="0.5" />
<line x1="232" y1="966.17" x2="234" y2="966.17" stroke="#222" stroke-width="0.6" />
<line x1="46.9" y1="968.4" x2="48.4" y2="968.4" stroke="#222" stroke-width="0.5" />
<line x1="232" y1="968.4" x2="234" y2="968.4" stroke="#222" stroke-width="0.6" />
<line x1="46.9" y1="970.62" x2="48.4" y2="970.62" stroke="#222" stroke-width="0.5" />
<line x1="232" y1="970.62" x2="234" y2="970.62" stroke="#222" stroke-width="0.6" />
<line x1="46.9" y1="972.85" x2="48.4" y2="972.85" stroke="#222" stroke-width="0.5" />
<line x1="232" y1="972.85" x2="234" y2="972.85" stroke="#222" stroke-width="0.6" />
<line x1="46.9" y1="975.07" x2="48.4" y2="975.07" stroke="#222" stroke-width="0.5" />
<line x1="232" y1="975.07" x2="234" y2="975.07" stroke="#222" stroke-width="0.6" />
<line x1="46.9" y1="977.3" x2="48.4" y2="977.3" stroke="#222" stroke-width="0.5" />
<line x1="232" y1="977.3" x2="234" y2="977.3" stroke="#222" stroke-width="0.6" />
<text x="43.9" y="961.4" font-size="3.3" fill="#444" text-anchor="end" font-weight="normal" font-style="normal"  stroke="#444" stroke-width="0.2">4.0</text>
<text x="43.9" y="965" font-size="3.3" fill="#444" text-anchor="end" font-weight="normal" font-style="normal"  stroke="#444" stroke-width="0.2">3.5</text>
<text x="43.9" y="968.6" font-size="3.3" fill="#444" text-anchor="end" font-weight="normal" font-style="normal"  stroke="#444" stroke-width="0.2">3.0</text>
<text x="43.9" y="972.2" font-size="3.3" fill="#444" text-anchor="end" font-weight="normal" font-style="normal"  stroke="#444" stroke-width="0.2">2.5</text>
<text x="43.9" y="975.8" font-size="3.3" fill="#444" text-anchor="end" font-weight="normal" font-style="normal"  stroke="#444" stroke-width="0.2">2.0</text>
<text x="235.2" y="961.85" font-size="3.1" fill="#444" text-anchor="start" font-weight="normal" font-style="normal"  stroke="#444" stroke-width="0.2">3</text>
<text x="235.2" y="967.35" font-size="3.1" fill="#444" text-anchor="start" font-weight="normal" font-style="normal"  stroke="#444" stroke-width="0.2">2</text>
<text x="235.2" y="972.6" font-size="3.1" fill="#444" text-anchor="start" font-weight="normal" font-style="normal"  stroke="#444" stroke-width="0.2">1</text>
<text x="235.2" y="978.1" font-size="3.1" fill="#444" text-anchor="start" font-weight="normal" font-style="normal"  stroke="#444" stroke-width="0.2">0</text>
<line x1="48.4" y1="984.1" x2="232" y2="984.1" stroke="#c9c9c9" stroke-width="0.45" />
<line x1="48.4" y1="986.24" x2="232" y2="986.24" stroke="#c9c9c9" stroke-width="0.45" />
<line x1="48.4" y1="988.38" x2="232" y2="988.38" stroke="#c9c9c9" stroke-width="0.45" />
<line x1="48.4" y1="990.51" x2="232" y2="990.51" stroke="#c9c9c9" stroke-width="0.45" />
<line x1="48.4" y1="992.65" x2="232" y2="992.65" stroke="#c9c9c9" stroke-width="0.45" />
<line x1="48.4" y1="994.79" x2="232" y2="994.79" stroke="#c9c9c9" stroke-width="0.45" />
<line x1="48.4" y1="996.93" x2="232" y2="996.93" stroke="#c9c9c9" stroke-width="0.45" />
<line x1="48.4" y1="999.06" x2="232" y2="999.06" stroke="#c9c9c9" stroke-width="0.45" />
<line x1="48.4" y1="1001.2" x2="232" y2="1001.2" stroke="#c9c9c9" stroke-width="0.45" />
<line x1="48.4" y1="982.6" x2="48.4" y2="1001.7" stroke="#222" stroke-width="0.9" />
<line x1="232" y1="982.6" x2="232" y2="1001.7" stroke="#222" stroke-width="1" />
<line x1="46.9" y1="984.1" x2="48.4" y2="984.1" stroke="#222" stroke-width="0.5" />
<line x1="232" y1="984.1" x2="234" y2="984.1" stroke="#222" stroke-width="0.6" />
<line x1="46.9" y1="986.24" x2="48.4" y2="986.24" stroke="#222" stroke-width="0.5" />
<line x1="232" y1="986.24" x2="234" y2="986.24" stroke="#222" stroke-width="0.6" />
<line x1="46.9" y1="988.38" x2="48.4" y2="988.38" stroke="#222" stroke-width="0.5" />
<line x1="232" y1="988.38" x2="234" y2="988.38" stroke="#222" stroke-width="0.6" />
<line x1="46.9" y1="990.51" x2="48.4" y2="990.51" stroke="#222" stroke-width="0.5" />
<line x1="232" y1="990.51" x2="234" y2="990.51" stroke="#222" stroke-width="0.6" />
<line x1="46.9" y1="992.65" x2="48.4" y2="992.65" stroke="#222" stroke-width="0.5" />
<line x1="232" y1="992.65" x2="234" y2="992.65" stroke="#222" stroke-width="0.6" />
<line x1="46.9" y1="994.79" x2="48.4" y2="994.79" stroke="#222" stroke-width="0.5" />
<line x1="232" y1="994.79" x2="234" y2="994.79" stroke="#222" stroke-width="0.6" />
<line x1="46.9" y1="996.93" x2="48.4" y2="996.93" stroke="#222" stroke-width="0.5" />
<line x1="232" y1="996.93" x2="234" y2="996.93" stroke="#222" stroke-width="0.6" />
<line x1="46.9" y1="999.06" x2="48.4" y2="999.06" stroke="#222" stroke-width="0.5" />
<line x1="232" y1="999.06" x2="234" y2="999.06" stroke="#222" stroke-width="0.6" />
<line x1="46.9" y1="1001.2" x2="48.4" y2="1001.2" stroke="#222" stroke-width="0.5" />
<line x1="232" y1="1001.2" x2="234" y2="1001.2" stroke="#222" stroke-width="0.6" />
<text x="43.9" y="985.7" font-size="3.3" fill="#444" text-anchor="end" font-weight="normal" font-style="normal"  stroke="#444" stroke-width="0.2">16</text>
<text x="43.9" y="988.7" font-size="3.3" fill="#444" text-anchor="end" font-weight="normal" font-style="normal"  stroke="#444" stroke-width="0.2">14</text>
<text x="43.9" y="991.7" font-size="3.3" fill="#444" text-anchor="end" font-weight="normal" font-style="normal"  stroke="#444" stroke-width="0.2">12</text>
<text x="43.9" y="994.7" font-size="3.3" fill="#444" text-anchor="end" font-weight="normal" font-style="normal"  stroke="#444" stroke-width="0.2">10</text>
<text x="43.9" y="997.7" font-size="3.3" fill="#444" text-anchor="end" font-weight="normal" font-style="normal"  stroke="#444" stroke-width="0.2">8</text>
<text x="235.2" y="988.1" font-size="3.1" fill="#444" text-anchor="start" font-weight="normal" font-style="normal"  stroke="#444" stroke-width="0.2">250</text>
<text x="235.2" y="993.6" font-size="3.1" fill="#444" text-anchor="start" font-weight="normal" font-style="normal"  stroke="#444" stroke-width="0.2">200</text>
<text x="235.2" y="998.6" font-size="3.1" fill="#444" text-anchor="start" font-weight="normal" font-style="normal"  stroke="#444" stroke-width="0.2">150</text>
<text x="24.26" y="967.5" font-size="6.27" fill="#5050b0" text-anchor="middle" font-weight="normal" font-style="normal" transform="rotate(-90 24.26 967.5)"  textLength="12.16" lengthAdjust="spacingAndGlyphs">WBC</text>
<text x="33.46" y="967.5" font-size="6.27" fill="#5050b0" text-anchor="middle" font-weight="normal" font-style="normal" transform="rotate(-90 33.46 967.5)"  textLength="20.14" lengthAdjust="spacingAndGlyphs">[10E9/L]</text>
<text x="24.26" y="992.5" font-size="6.27" fill="#b04040" text-anchor="middle" font-weight="normal" font-style="normal" transform="rotate(-90 24.26 992.5)"  textLength="7.41" lengthAdjust="spacingAndGlyphs">Hb</text>
<text x="33.46" y="992.5" font-size="6.27" fill="#b04040" text-anchor="middle" font-weight="normal" font-style="normal" transform="rotate(-90 33.46 992.5)"  textLength="12.92" lengthAdjust="spacingAndGlyphs">[g/dl]</text>
<text x="257.49" y="969" font-size="6.27" fill="#9a50b0" text-anchor="middle" font-weight="normal" font-style="normal" transform="rotate(90 257.49 969)"  textLength="15.86" lengthAdjust="spacingAndGlyphs">CD34+</text>
<text x="248.74" y="969" font-size="6.27" fill="#9a50b0" text-anchor="middle" font-weight="normal" font-style="normal" transform="rotate(90 248.74 969)"  textLength="9.59" lengthAdjust="spacingAndGlyphs">[%]</text>
<text x="257.49" y="993" font-size="6.27" fill="#222" text-anchor="middle" font-weight="normal" font-style="normal" transform="rotate(90 257.49 993)"  textLength="9.59" lengthAdjust="spacingAndGlyphs">PLT</text>
<text x="248.74" y="993" font-size="6.27" fill="#222" text-anchor="middle" font-weight="normal" font-style="normal" transform="rotate(90 248.74 993)"  textLength="21.18" lengthAdjust="spacingAndGlyphs">[10E9/L]</text>
<polyline points="105.5,966.3 128.5,977 151.75,966.25 174.75,962 198,965 221,962" fill="none" stroke="#3a3ab8" stroke-width="0.6" stroke-linejoin="round" stroke-linecap="butt" />
<circle cx="105.5" cy="966.3" r="1.15" fill="#3a3ab8"/><circle cx="128.5" cy="977" r="1.15" fill="#3a3ab8"/><circle cx="151.75" cy="966.25" r="1.15" fill="#3a3ab8"/><circle cx="174.75" cy="962" r="1.15" fill="#3a3ab8"/><circle cx="198" cy="965" r="1.15" fill="#3a3ab8"/><circle cx="221" cy="962" r="1.15" fill="#3a3ab8"/>
<polyline points="151.75,970.5 174.75,963.75 198,961.25 221,975" fill="none" stroke="#9a3ab0" stroke-width="0.6" stroke-linejoin="round" stroke-linecap="butt" />
<circle cx="151.75" cy="970.5" r="1.15" fill="#9a3ab0"/><circle cx="174.75" cy="963.75" r="1.15" fill="#9a3ab0"/><circle cx="198" cy="961.25" r="1.15" fill="#9a3ab0"/><circle cx="221" cy="975" r="1.15" fill="#9a3ab0"/>
<polyline points="105.5,1001.2 128.5,1001.25 151.75,1000 174.75,998.75 198,987 221,985" fill="none" stroke="#b03a3a" stroke-width="0.6" stroke-linejoin="round" stroke-linecap="butt" />
<circle cx="105.5" cy="1001.2" r="1.15" fill="#b03a3a"/><circle cx="128.5" cy="1001.25" r="1.15" fill="#b03a3a"/><circle cx="151.75" cy="1000" r="1.15" fill="#b03a3a"/><circle cx="174.75" cy="998.75" r="1.15" fill="#b03a3a"/><circle cx="198" cy="987" r="1.15" fill="#b03a3a"/><circle cx="221" cy="985" r="1.15" fill="#b03a3a"/>
<polyline points="105.5,992.7 128.5,990.5 151.75,990.5 174.75,985.5 198,1000.5 221,997.5" fill="none" stroke="#222" stroke-width="0.6" stroke-linejoin="round" stroke-linecap="butt" />
<circle cx="105.5" cy="992.7" r="1.15" fill="#222"/><circle cx="128.5" cy="990.5" r="1.15" fill="#222"/><circle cx="151.75" cy="990.5" r="1.15" fill="#222"/><circle cx="174.75" cy="985.5" r="1.15" fill="#222"/><circle cx="198" cy="1000.5" r="1.15" fill="#222"/><circle cx="221" cy="997.5" r="1.15" fill="#222"/>
<line x1="48.4" y1="1084.15" x2="232" y2="1084.15" stroke="#c9c9c9" stroke-width="0.45" />
<line x1="48.4" y1="1073.1" x2="232" y2="1073.1" stroke="#c9c9c9" stroke-width="0.45" />
<line x1="48.4" y1="1062.05" x2="232" y2="1062.05" stroke="#c9c9c9" stroke-width="0.45" />
<line x1="48.4" y1="1051" x2="232" y2="1051" stroke="#c9c9c9" stroke-width="0.45" />
<line x1="48.4" y1="1039.95" x2="232" y2="1039.95" stroke="#c9c9c9" stroke-width="0.45" />
<line x1="48.4" y1="1028.9" x2="232" y2="1028.9" stroke="#c9c9c9" stroke-width="0.45" />
<line x1="48.4" y1="1017.85" x2="232" y2="1017.85" stroke="#c9c9c9" stroke-width="0.45" />
<line x1="48.4" y1="1006.8" x2="232" y2="1006.8" stroke="#c9c9c9" stroke-width="0.45" />
<line x1="48.4" y1="1003.8" x2="48.4" y2="1095.2" stroke="#222" stroke-width="0.8" />
<line x1="48.4" y1="1095.2" x2="232" y2="1095.2" stroke="#222" stroke-width="0.8" />
<line x1="47.1" y1="1095.2" x2="48.4" y2="1095.2" stroke="#222" stroke-width="0.5" />
<text x="43" y="1096.55" font-size="3.8" fill="#333" text-anchor="end" font-weight="normal" font-style="normal"  stroke="#333" stroke-width="0.2">0</text>
<line x1="47.1" y1="1073.1" x2="48.4" y2="1073.1" stroke="#222" stroke-width="0.5" />
<text x="43" y="1074.45" font-size="3.8" fill="#333" text-anchor="end" font-weight="normal" font-style="normal"  stroke="#333" stroke-width="0.2">10</text>
<line x1="47.1" y1="1051" x2="48.4" y2="1051" stroke="#222" stroke-width="0.5" />
<text x="43" y="1052.35" font-size="3.8" fill="#333" text-anchor="end" font-weight="normal" font-style="normal"  stroke="#333" stroke-width="0.2">20</text>
<line x1="47.1" y1="1028.9" x2="48.4" y2="1028.9" stroke="#222" stroke-width="0.5" />
<text x="43" y="1030.25" font-size="3.8" fill="#333" text-anchor="end" font-weight="normal" font-style="normal"  stroke="#333" stroke-width="0.2">30</text>
<line x1="47.1" y1="1006.8" x2="48.4" y2="1006.8" stroke="#222" stroke-width="0.5" />
<text x="43" y="1008.15" font-size="3.8" fill="#333" text-anchor="end" font-weight="normal" font-style="normal"  stroke="#333" stroke-width="0.2">40</text>
<line x1="60" y1="1095.2" x2="60" y2="1097.6" stroke="#222" stroke-width="0.6" />
<line x1="83" y1="1095.2" x2="83" y2="1097.6" stroke="#222" stroke-width="0.6" />
<line x1="105.5" y1="1095.2" x2="105.5" y2="1097.6" stroke="#222" stroke-width="0.6" />
<line x1="128.5" y1="1095.2" x2="128.5" y2="1097.6" stroke="#222" stroke-width="0.6" />
<line x1="151.75" y1="1095.2" x2="151.75" y2="1097.6" stroke="#222" stroke-width="0.6" />
<line x1="174.75" y1="1095.2" x2="174.75" y2="1097.6" stroke="#222" stroke-width="0.6" />
<line x1="198" y1="1095.2" x2="198" y2="1097.6" stroke="#222" stroke-width="0.6" />
<line x1="221" y1="1095.2" x2="221" y2="1097.6" stroke="#222" stroke-width="0.6" />
<text x="60" y="1105.3" font-size="4.3" fill="#222" text-anchor="middle" font-weight="normal" font-style="normal"  stroke="#222" stroke-width="0.2">11-1997</text>
<text x="83" y="1105.3" font-size="4.3" fill="#222" text-anchor="middle" font-weight="normal" font-style="normal"  stroke="#222" stroke-width="0.2">04-1998</text>
<text x="105.5" y="1105.3" font-size="4.3" fill="#222" text-anchor="middle" font-weight="normal" font-style="normal"  stroke="#222" stroke-width="0.2">11-2005</text>
<text x="128.5" y="1105.3" font-size="4.3" fill="#222" text-anchor="middle" font-weight="normal" font-style="normal"  stroke="#222" stroke-width="0.2">01-2009</text>
<text x="151.75" y="1105.3" font-size="4.3" fill="#222" text-anchor="middle" font-weight="normal" font-style="normal"  stroke="#222" stroke-width="0.2">09-2010</text>
<text x="174.75" y="1105.3" font-size="4.3" fill="#222" text-anchor="middle" font-weight="normal" font-style="normal"  stroke="#222" stroke-width="0.2">12-2012</text>
<text x="198" y="1105.3" font-size="4.3" fill="#222" text-anchor="middle" font-weight="normal" font-style="normal"  stroke="#222" stroke-width="0.2">12-2013</text>
<text x="221" y="1105.3" font-size="4.3" fill="#222" text-anchor="middle" font-weight="normal" font-style="normal"  stroke="#222" stroke-width="0.2">05-2014</text>
<text x="30.5" y="1049.5" font-size="5.6" fill="#333" text-anchor="middle" font-weight="normal" font-style="normal" transform="rotate(-90 30.5 1049.5)"  stroke="#333" stroke-width="0.2">Variant allele frequency [%]</text>
<polyline points="60,1040.1 83,1044.8 105.5,1050 128.5,1042.5 151.75,1046 174.75,1040 198,1094.5 221,1094.5" fill="none" stroke="#d06040" stroke-width="0.5" stroke-linejoin="round" stroke-linecap="butt" />
<polyline points="60,1067.2 83,1082.1 105.5,1057.8 128.5,1056 151.75,1057 174.75,1057.1 198,1094.5 221,1094.5" fill="none" stroke="#d06040" stroke-width="0.5" stroke-linejoin="round" stroke-linecap="butt" />
<polyline points="60,1088 83,1090 105.5,1085 128.5,1088 151.75,1080 174.75,1072 198,1046.7 221,1049" fill="none" stroke="#5050e0" stroke-width="0.5" stroke-linejoin="round" stroke-linecap="butt" />
<polyline points="60,1085 83,1087 105.5,1080 128.5,1084 151.75,1086 174.75,1070 198,1064.1 221,1063" fill="none" stroke="#5050e0" stroke-width="0.5" stroke-linejoin="round" stroke-linecap="butt" />
<polyline points="60,1090 83,1088 105.5,1078 128.5,1086 151.75,1083 174.75,1076 198,1067.6 221,1068.8" fill="none" stroke="#5050e0" stroke-width="0.5" stroke-linejoin="round" stroke-linecap="butt" />
<polyline points="60,1092 83,1091 105.5,1088 128.5,1090 151.75,1091 174.75,1082 198,1072 221,1086.3" fill="none" stroke="#5050e0" stroke-width="0.5" stroke-linejoin="round" stroke-linecap="butt" />
<polyline points="60,1080 83,1078 105.5,1076 128.5,1079 151.75,1088 174.75,1080 198,1075 221,1072" fill="none" stroke="#7070e0" stroke-width="0.5" stroke-linejoin="round" stroke-linecap="butt" />
<polyline points="60,1093.3 83,1086.8 105.5,1090.5 128.5,1093.3 151.75,1092.1 174.75,1089.8 198,1072.8 221,1079.3" fill="none" stroke="#f08a30" stroke-width="1.8" stroke-dasharray="3,2" stroke-linejoin="round" stroke-linecap="butt" />
<polyline points="60,1053.2 83,1055 105.5,1050 128.5,1034.3 151.75,1050.2 174.75,1043.2 198,1095 221,1094.5" fill="none" stroke="#c8431c" stroke-width="2.6" stroke-linejoin="round" stroke-linecap="butt" />
<polyline points="60,1045.7 83,1061.9 105.5,1060.3 128.5,1037.3 151.75,1057.1 174.75,1050.2 198,1095 221,1095" fill="none" stroke="#2cc02c" stroke-width="2.6" stroke-linejoin="round" stroke-linecap="butt" />
<polyline points="60,1082.1 83,1069.6 105.5,1070.3 128.5,1081.7 151.75,1074.2 174.75,1071.8 198,1049.5 221,1049" fill="none" stroke="#1010d0" stroke-width="2.6" stroke-linejoin="round" stroke-linecap="butt" />
<line x1="177.5" y1="1033.8" x2="196.1" y2="1033.8" stroke="#222" stroke-width="0.8" />
<line x1="177.5" y1="1032.5" x2="177.5" y2="1035.1" stroke="#222" stroke-width="0.7" />
<line x1="196.1" y1="1032.5" x2="196.1" y2="1035.1" stroke="#222" stroke-width="0.7" />
<text x="186.8" y="1028.2" font-size="5.5" fill="#333" text-anchor="middle" font-weight="normal" font-style="normal"  stroke="#333" stroke-width="0.2">Lenalidomide</text>
<line x1="199.6" y1="1019.4" x2="232" y2="1019.4" stroke="#111" stroke-width="0.8" />
<line x1="199.6" y1="1017.6" x2="199.6" y2="1021.2" stroke="#111" stroke-width="0.7" />
<polygon points="230.5,1017.6 234.5,1019.4 230.5,1021.2" fill="#111"/>
<text x="216" y="1014.6" font-size="5.6" fill="#333" text-anchor="middle" font-weight="normal" font-style="normal"  stroke="#333" stroke-width="0.2">phlebotomy</text>
<line x1="229.1" y1="1033.8" x2="235.1" y2="1033.8" stroke="#c8431c" stroke-width="2.4" />
<text x="239" y="1035.25" font-size="4.1" fill="#333" text-anchor="start" font-weight="normal" font-style="normal"  stroke="#333" stroke-width="0.2">CHRM2 R52H</text>
<line x1="229.1" y1="1042.7" x2="235.1" y2="1042.7" stroke="#1010d0" stroke-width="2.4" />
<text x="239" y="1044.15" font-size="4.1" fill="#333" text-anchor="start" font-weight="normal" font-style="normal"  stroke="#333" stroke-width="0.2">DNMT3A R326H</text>
<line x1="229.1" y1="1050.6" x2="235.1" y2="1050.6" stroke="#f08a30" stroke-width="2.4" stroke-dasharray="2.5,1"/>
<text x="239" y="1052.05" font-size="4.1" fill="#333" text-anchor="start" font-weight="normal" font-style="normal"  stroke="#333" stroke-width="0.2">RAET1G R156K</text>
<line x1="229.1" y1="1060" x2="235.1" y2="1060" stroke="#2cc02c" stroke-width="2.4" />
<text x="239" y="1061.45" font-size="4.1" fill="#333" text-anchor="start" font-weight="normal" font-style="normal"  stroke="#333" stroke-width="0.2">del(5q)</text>
<line x1="52.5" y1="1109.2" x2="67.5" y2="1109.2" stroke="#d04040" stroke-width="0.9" />
<line x1="144" y1="1109.2" x2="159.5" y2="1109.2" stroke="#d04040" stroke-width="0.9" />
<line x1="190.5" y1="1109.2" x2="205.5" y2="1109.2" stroke="#d04040" stroke-width="0.9" />
<text x="37.5" y="1120.5" font-size="4" fill="#111" text-anchor="middle" font-weight="bold" font-style="normal" >WHO</text>
<polygon points="49.25,1113 188,1113 191.16,1118.75 188,1124.5 49.25,1124.5" fill="#e2ebc6" stroke="#888" stroke-width="0.5" stroke-linejoin="round"/>
<polygon points="188,1113 233.6,1113 236.76,1118.75 233.6,1124.5 188,1124.5 191.16,1118.75" fill="#cbdc8c" stroke="#888" stroke-width="0.5" stroke-linejoin="round"/>
<text x="118.62" y="1120.25" font-size="4.3" fill="#222" text-anchor="middle" font-weight="bold" font-style="normal" >del(5q)</text>
<text x="212.38" y="1118.15" font-size="4.1" fill="#222" text-anchor="middle" font-weight="bold" font-style="italic" >hematologic</text>
<text x="212.38" y="1122.45" font-size="4.1" fill="#222" text-anchor="middle" font-weight="bold" font-style="italic" >remission</text>
<path d="M36.1,1200.9 C37.45,1197.85 40.82,1188.68 44.2,1182.6 C47.58,1176.52 52.33,1168.78 56.4,1164.4 C60.47,1160.02 63.18,1158.33 68.6,1156.3 C74.02,1154.27 82.15,1153.35 88.9,1152.2 C95.65,1151.05 101.67,1150.08 109.1,1149.4 C116.53,1148.72 126.05,1148.1 133.5,1148.1 C140.95,1148.1 147.72,1149.73 153.8,1149.4 C159.88,1149.07 165.27,1146.65 170,1146.1 C174.73,1145.55 178.82,1144.4 182.2,1146.1 C185.58,1147.8 187.93,1152.98 190.3,1156.3 C192.67,1159.62 195.18,1163.85 196.4,1166 C197.62,1168.15 197.4,1168.67 197.6,1169.2 C196.95,1170.08 194.8,1171.63 193.7,1174.5 C192.6,1177.37 191.88,1180.9 191,1186.4 C190.12,1191.9 189.72,1202 188.4,1207.5 C187.08,1213 185.97,1216.98 183.1,1219.4 C180.23,1221.82 176.25,1221.35 171.2,1222 C166.15,1222.65 157.63,1222.2 152.8,1223.3 C147.97,1224.4 145.72,1226.4 142.2,1228.6 C138.68,1230.8 134.78,1235.18 131.7,1236.5 C128.62,1237.82 126.35,1237.6 123.7,1236.5 C121.05,1235.4 118.87,1232.98 115.8,1229.9 C112.73,1226.82 108.43,1220.07 105.3,1218 C102.17,1215.93 101.77,1217.58 97,1217.5 C92.23,1217.42 81.43,1216.83 76.7,1217.5 C71.97,1218.17 71.05,1220.33 68.6,1221.5 C66.15,1222.67 64.1,1224.33 62,1224.5 C59.9,1224.67 58.28,1224 56,1222.5 C53.72,1221 50.93,1218.25 48.3,1215.5 C45.67,1212.75 42.23,1208.43 40.2,1206 C38.17,1203.57 36.78,1201.75 36.1,1200.9 Z" fill="#3db54b" stroke="#1c2f6b" stroke-width="1.3" stroke-linejoin="round"/>
<path d="M39.5,1213.5 C40.17,1214 41.75,1214.83 43.5,1216.5 C45.25,1218.17 47.83,1221.42 50,1223.5 C52.17,1225.58 54.33,1227.8 56.5,1229 C58.67,1230.2 60.75,1231.2 63,1230.7 C65.25,1230.2 67.67,1227.2 70,1226 C72.33,1224.8 72.5,1223.92 77,1223.5 C81.5,1223.08 92.28,1223.32 97,1223.5 C101.72,1223.68 102.17,1222.43 105.3,1224.6 C108.43,1226.77 112.73,1233.42 115.8,1236.5 C118.87,1239.58 121.05,1242 123.7,1243.1 C126.35,1244.2 128.62,1244.63 131.7,1243.1 C134.78,1241.57 138.68,1236.32 142.2,1233.9 C145.72,1231.48 147.08,1229.7 152.8,1228.6 C158.52,1227.5 170.57,1227.97 176.5,1227.3 C182.43,1226.63 185.53,1227.02 188.4,1224.6 C191.27,1222.18 192.52,1218.28 193.7,1212.8 C194.88,1207.32 194.75,1197.87 195.5,1191.7 C196.25,1185.53 197.4,1179.1 198.2,1175.8 C199,1172.5 199.08,1172.77 200.3,1171.9 C201.52,1171.03 201.9,1170.73 205.5,1170.6 C209.1,1170.47 219.17,1171.02 221.9,1171.1 L221.9,1240.5 C219.17,1241.15 210.43,1242.43 205.5,1244.4 C200.57,1246.37 196.25,1249 192.3,1252.3 C188.35,1255.6 185.32,1262.22 181.8,1264.2 C178.28,1266.18 175.17,1264.85 171.2,1264.2 C167.23,1263.55 163.27,1260.73 158,1260.3 C152.73,1259.87 147.07,1261.07 139.6,1261.6 C132.13,1262.13 119.8,1263.43 113.2,1263.5 C106.6,1263.57 106.75,1262.88 100,1262 C93.25,1261.12 79.53,1259.78 72.7,1258.2 C65.87,1256.62 62.82,1255.37 59,1252.5 C55.18,1249.63 52.47,1245.97 49.8,1241 C47.13,1236.03 44.72,1227.28 43,1222.7 C41.28,1218.12 40.08,1215.03 39.5,1213.5 Z" fill="#2e6dbd" stroke="#1c2f6b" stroke-width="1.5" stroke-linejoin="round" />
<path d="M62.4,1249.8 C64.12,1249.1 69.83,1246.65 72.7,1245.6 C75.57,1244.55 76.72,1243.43 79.6,1243.5 C82.48,1243.57 86.6,1245.08 90,1246 C93.4,1246.92 96.38,1247.83 100,1249 C103.62,1250.17 107.3,1252 111.7,1253 C116.1,1254 120.87,1254.67 126.4,1255 C131.93,1255.33 138.3,1255.45 144.9,1255 C151.5,1254.55 159.42,1253.18 166,1252.3 C172.58,1251.42 180.23,1251.88 184.4,1249.7 C188.57,1247.52 189.45,1244.03 191,1239.2 C192.55,1234.37 192.6,1225.77 193.7,1220.7 C194.8,1215.63 196.07,1211.22 197.6,1208.8 C199.13,1206.38 200.7,1206.2 202.9,1206.2 C205.1,1206.2 207.63,1207.48 210.8,1208.8 C213.97,1210.12 220.05,1213.22 221.9,1214.1 L221.9,1235.2 C219.17,1235.87 210.43,1237.22 205.5,1239.2 C200.57,1241.18 195.82,1244.25 192.3,1247.1 C188.78,1249.95 187.92,1254.32 184.4,1256.3 C180.88,1258.28 176.47,1258.78 171.2,1259 C165.93,1259.22 159.38,1257.6 152.8,1257.6 C146.22,1257.6 140.5,1259.1 131.7,1259 C122.9,1258.9 109.83,1258.08 100,1257 C90.17,1255.92 78.97,1253.7 72.7,1252.5 C66.43,1251.3 64.12,1250.25 62.4,1249.8 Z" fill="#f48a2a" stroke="#1c2f6b" stroke-width="0.6" stroke-linejoin="round" />
<rect x="222.2" y="1165" width="4" height="105" fill="#fff" />
<polygon points="33.8,1199.2 34.67,1201.3 36.94,1201.48 35.21,1202.96 35.74,1205.17 33.8,1203.98 31.86,1205.17 32.39,1202.96 30.66,1201.48 32.93,1201.3" fill="#c0203a"/>
<polygon points="38.8,1209.7 39.67,1211.8 41.94,1211.98 40.21,1213.46 40.74,1215.67 38.8,1214.48 36.86,1215.67 37.39,1213.46 35.66,1211.98 37.93,1211.8" fill="#c0203a"/>
<text x="120" y="1184.6" font-size="6.5" fill="#0a3a10" text-anchor="middle" font-weight="bold" font-style="italic" stroke="#0a3a10" stroke-width="0.22">CHRM2</text>
<text x="120" y="1193.4" font-size="6.5" fill="#0a3a10" text-anchor="middle" font-weight="bold" font-style="italic" stroke="#0a3a10" stroke-width="0.22">/del(5q)</text>
<text x="92.4" y="1236.6" font-size="6.4" fill="#0a1a4a" text-anchor="middle" font-weight="bold" font-style="italic" stroke="#0a1a4a" stroke-width="0.22">DNMT3A</text>
<text x="208" y="1228.1" font-size="6.4" fill="#3a1a0a" text-anchor="middle" font-weight="bold" font-style="italic" stroke="#3a1a0a" stroke-width="0.22">RAET1G</text>
<text x="286.1" y="944" font-size="11.8" fill="#111" text-anchor="start" font-weight="bold" font-style="normal" stroke="#111" stroke-width="0.3">H</text>
<text x="382.8" y="953.6" font-size="6.2" fill="#111" text-anchor="middle" font-weight="bold" font-style="normal" >P40</text>
<line x1="320.1" y1="1083.35" x2="446" y2="1083.35" stroke="#c9c9c9" stroke-width="0.45" />
<line x1="320.1" y1="1072" x2="446" y2="1072" stroke="#c9c9c9" stroke-width="0.45" />
<line x1="320.1" y1="1060.65" x2="446" y2="1060.65" stroke="#c9c9c9" stroke-width="0.45" />
<line x1="320.1" y1="1049.3" x2="446" y2="1049.3" stroke="#c9c9c9" stroke-width="0.45" />
<line x1="320.1" y1="1037.95" x2="446" y2="1037.95" stroke="#c9c9c9" stroke-width="0.45" />
<line x1="320.1" y1="1026.6" x2="446" y2="1026.6" stroke="#c9c9c9" stroke-width="0.45" />
<line x1="320.1" y1="1015.25" x2="446" y2="1015.25" stroke="#c9c9c9" stroke-width="0.45" />
<line x1="320.1" y1="1003.9" x2="446" y2="1003.9" stroke="#c9c9c9" stroke-width="0.45" />
<line x1="320.1" y1="992.55" x2="446" y2="992.55" stroke="#c9c9c9" stroke-width="0.45" />
<line x1="320.1" y1="981.2" x2="446" y2="981.2" stroke="#c9c9c9" stroke-width="0.45" />
<line x1="320.1" y1="969.85" x2="446" y2="969.85" stroke="#c9c9c9" stroke-width="0.45" />
<line x1="320.1" y1="966.5" x2="320.1" y2="1094.7" stroke="#222" stroke-width="0.8" />
<line x1="320.1" y1="1094.7" x2="446" y2="1094.7" stroke="#222" stroke-width="0.8" />
<line x1="318.8" y1="1094.7" x2="320.1" y2="1094.7" stroke="#222" stroke-width="0.5" />
<text x="314.7" y="1096.05" font-size="3.8" fill="#333" text-anchor="end" font-weight="normal" font-style="normal"  stroke="#333" stroke-width="0.2">0</text>
<line x1="318.8" y1="1072" x2="320.1" y2="1072" stroke="#222" stroke-width="0.5" />
<text x="314.7" y="1073.35" font-size="3.8" fill="#333" text-anchor="end" font-weight="normal" font-style="normal"  stroke="#333" stroke-width="0.2">10</text>
<line x1="318.8" y1="1049.3" x2="320.1" y2="1049.3" stroke="#222" stroke-width="0.5" />
<text x="314.7" y="1050.65" font-size="3.8" fill="#333" text-anchor="end" font-weight="normal" font-style="normal"  stroke="#333" stroke-width="0.2">20</text>
<line x1="318.8" y1="1026.6" x2="320.1" y2="1026.6" stroke="#222" stroke-width="0.5" />
<text x="314.7" y="1027.95" font-size="3.8" fill="#333" text-anchor="end" font-weight="normal" font-style="normal"  stroke="#333" stroke-width="0.2">30</text>
<line x1="318.8" y1="1003.9" x2="320.1" y2="1003.9" stroke="#222" stroke-width="0.5" />
<text x="314.7" y="1005.25" font-size="3.8" fill="#333" text-anchor="end" font-weight="normal" font-style="normal"  stroke="#333" stroke-width="0.2">40</text>
<line x1="318.8" y1="981.2" x2="320.1" y2="981.2" stroke="#222" stroke-width="0.5" />
<text x="314.7" y="982.55" font-size="3.8" fill="#333" text-anchor="end" font-weight="normal" font-style="normal"  stroke="#333" stroke-width="0.2">50</text>
<text x="328.5" y="1105.3" font-size="4.3" fill="#222" text-anchor="middle" font-weight="normal" font-style="normal"  stroke="#222" stroke-width="0.2">05-2010</text>
<text x="364.75" y="1105.3" font-size="4.3" fill="#222" text-anchor="middle" font-weight="normal" font-style="normal"  stroke="#222" stroke-width="0.2">11-2010</text>
<text x="400.4" y="1105.3" font-size="4.3" fill="#222" text-anchor="middle" font-weight="normal" font-style="normal"  stroke="#222" stroke-width="0.2">05-2011</text>
<text x="436.4" y="1105.3" font-size="4.3" fill="#222" text-anchor="middle" font-weight="normal" font-style="normal"  stroke="#222" stroke-width="0.2">10-2011</text>
<text x="305" y="1032.8" font-size="6" fill="#333" text-anchor="middle" font-weight="normal" font-style="normal" transform="rotate(-90 305 1032.8)" >Var. allele frequency [%]</text>
<line x1="320.1" y1="1094.7" x2="460.8" y2="1094.7" stroke="#222" stroke-width="0.8" />
<line x1="328.5" y1="1094.7" x2="328.5" y2="1096.3" stroke="#222" stroke-width="0.5" />
<line x1="364.75" y1="1094.7" x2="364.75" y2="1096.3" stroke="#222" stroke-width="0.5" />
<line x1="400.4" y1="1094.7" x2="400.4" y2="1096.3" stroke="#222" stroke-width="0.5" />
<line x1="436.4" y1="1094.7" x2="436.4" y2="1096.3" stroke="#222" stroke-width="0.5" />
<line x1="457" y1="1094.7" x2="457" y2="1096.3" stroke="#222" stroke-width="0.5" />
<text x="457" y="1100.7" font-size="3.5" fill="#444" text-anchor="middle" font-weight="normal" font-style="italic"  stroke="#444" stroke-width="0.2">11-</text>
<text x="457" y="1104.7" font-size="3.5" fill="#444" text-anchor="middle" font-weight="normal" font-style="italic"  stroke="#444" stroke-width="0.2">2011</text>
<line x1="320.1" y1="981.1" x2="446" y2="981.1" stroke="#e03030" stroke-width="0.6" stroke-dasharray="1.5,1"/>
<line x1="328.5" y1="1011.5" x2="328.5" y2="1020" stroke="#e8e040" stroke-width="0.5" />
<line x1="400.4" y1="1075.5" x2="400.4" y2="1091" stroke="#e8e040" stroke-width="0.5" />
<line x1="436.4" y1="1077" x2="436.4" y2="1086" stroke="#e8e040" stroke-width="0.5" />
<polyline points="328.5,1015.8 364.75,1089.9 400.4,1084.4 436.4,1080.8" fill="none" stroke="#e8e030" stroke-width="1.8" stroke-linejoin="round" stroke-linecap="butt" />
<polyline points="328.5,1037.3 364.75,1085 400.4,1093.8 436.4,1093.1" fill="none" stroke="#50a0e8" stroke-width="1.3" stroke-linejoin="round" stroke-linecap="butt" />
<polyline points="328.5,1026.6 364.75,1086.6 400.4,1086.6 436.4,1088.2" fill="none" stroke="#40d040" stroke-width="1.8" stroke-dasharray="3,1.5" stroke-linejoin="round" stroke-linecap="butt" />
<polyline points="328.5,1024.3 364.75,1094.7 400.4,1088.2 436.4,1087.3" fill="none" stroke="#1010b0" stroke-width="1.6" stroke-linejoin="round" stroke-linecap="butt" />
<polyline points="328.5,1094.7 364.75,1063.2 400.4,1060.6 436.4,1060" fill="none" stroke="#2020d0" stroke-width="1.6" stroke-dasharray="4,2.5" stroke-linejoin="round" stroke-linecap="butt" />
<line x1="341.6" y1="1033" x2="439" y2="1033" stroke="#222" stroke-width="0.8" />
<line x1="341.6" y1="1031.7" x2="341.6" y2="1034.3" stroke="#222" stroke-width="0.7" />
<line x1="439" y1="1031.7" x2="439" y2="1034.3" stroke="#222" stroke-width="0.7" />
<text x="384.4" y="1029.6" font-size="5.5" fill="#333" text-anchor="middle" font-weight="normal" font-style="normal"  stroke="#333" stroke-width="0.2">Lenalidomide</text>
<text x="458.3" y="1090.5" font-size="7.5" fill="#111" text-anchor="middle" font-weight="bold" font-style="normal" >†</text>
<line x1="415.8" y1="986" x2="421.8" y2="986" stroke="#e8e030" stroke-width="1.8" />
<text x="429" y="987.45" font-size="4.1" fill="#333" text-anchor="start" font-weight="normal" font-style="normal"  stroke="#333" stroke-width="0.2">SF3B1 K700E</text>
<line x1="415.8" y1="995.5" x2="421.8" y2="995.5" stroke="#40d040" stroke-width="1.8" stroke-dasharray="2,1"/>
<text x="429" y="996.95" font-size="4.1" fill="#333" text-anchor="start" font-weight="normal" font-style="normal"  stroke="#333" stroke-width="0.2">del(5q)</text>
<line x1="415.8" y1="1005" x2="421.8" y2="1005" stroke="#50a0e8" stroke-width="1.8" />
<text x="429" y="1006.45" font-size="4.1" fill="#333" text-anchor="start" font-weight="normal" font-style="normal"  stroke="#333" stroke-width="0.2">TET2 L1231P</text>
<line x1="415.8" y1="1014.6" x2="421.8" y2="1014.6" stroke="#1010b0" stroke-width="1.8" />
<text x="429" y="1016.05" font-size="4.1" fill="#333" text-anchor="start" font-weight="normal" font-style="normal"  stroke="#333" stroke-width="0.2">DNMT3A G510D</text>
<line x1="415.8" y1="1023.9" x2="421.8" y2="1023.9" stroke="#2020d0" stroke-width="1.8" stroke-dasharray="2,1"/>
<text x="429" y="1025.35" font-size="4.1" fill="#333" text-anchor="start" font-weight="normal" font-style="normal"  stroke="#333" stroke-width="0.2">DNMT3A R693H</text>
<line x1="321" y1="1109.2" x2="336" y2="1109.2" stroke="#d04040" stroke-width="0.9" />
<line x1="429" y1="1109.2" x2="444" y2="1109.2" stroke="#d04040" stroke-width="0.9" />
<defs><pattern id="hatch" width="2.2" height="2.2" patternUnits="userSpaceOnUse" patternTransform="rotate(45)"><rect width="2.2" height="2.2" fill="#f0d0d0"/><line x1="0" y1="0" x2="0" y2="2.2" stroke="#d08080" stroke-width="0.9"/></pattern></defs>
<text x="309" y="1120.8" font-size="4" fill="#111" text-anchor="middle" font-weight="bold" font-style="normal" >WHO</text>
<polygon points="321.2,1113.75 371.2,1113.75 374.16,1119.12 371.2,1124.5 321.2,1124.5" fill="#e2ebc6" stroke="#888" stroke-width="0.5" stroke-linejoin="round"/>
<polygon points="371.2,1113.75 438,1113.75 440.96,1119.12 438,1124.5 371.2,1124.5 374.16,1119.12" fill="#c9dc8c" stroke="#888" stroke-width="0.5" stroke-linejoin="round"/>
<polygon points="438,1113.75 468.5,1113.75 471.46,1119.12 468.5,1124.5 438,1124.5 440.96,1119.12" fill="url(#hatch)" stroke="#888" stroke-width="0.5" stroke-linejoin="round"/>
<text x="346.2" y="1120.62" font-size="4.3" fill="#222" text-anchor="middle" font-weight="bold" font-style="normal" >del(5q)</text>
<text x="406.08" y="1120.62" font-size="4.3" fill="#222" text-anchor="middle" font-weight="bold" font-style="italic" >transfusion independence</text>
<text x="454.73" y="1120.62" font-size="4.3" fill="#222" text-anchor="middle" font-weight="bold" font-style="italic" >relapse</text>
<path d="M306.9,1207.8 C307.58,1206.93 309.78,1204.53 311,1202.6 C312.22,1200.67 313.12,1199.7 314.2,1196.2 C315.28,1192.7 316.28,1186.47 317.5,1181.6 C318.72,1176.73 320.02,1171.6 321.5,1167 C322.98,1162.4 324.63,1157.93 326.4,1154 C328.17,1150.07 330.33,1145.78 332.1,1143.4 C333.87,1141.02 335.6,1140.15 337,1139.7 C338.4,1139.25 339.43,1139.95 340.5,1140.7 C341.57,1141.45 342.37,1141.98 343.4,1144.2 C344.43,1146.42 345.55,1149.93 346.7,1154 C347.85,1158.07 349,1163.47 350.3,1168.6 C351.6,1173.73 353.02,1179.4 354.5,1184.8 C355.98,1190.2 357.68,1195.47 359.2,1201 C360.72,1206.53 362.22,1213.17 363.6,1218 C364.98,1222.83 366.18,1227 367.5,1230 C368.82,1233 370.08,1234.57 371.5,1236 C372.92,1237.43 373.13,1238 376,1238.6 C378.87,1239.2 382.53,1239.77 388.7,1239.6 C394.87,1239.43 405.7,1238.3 413,1237.6 C420.3,1236.9 427.02,1236.17 432.5,1235.4 C437.98,1234.63 443.67,1233.4 445.9,1233 L445.9,1248.6 C443.67,1248.4 437.98,1247.2 432.5,1247.4 C427.02,1247.6 418.27,1249.4 413,1249.8 C407.73,1250.2 404.95,1250.2 400.9,1249.8 C396.85,1249.4 392.77,1247.6 388.7,1247.4 C384.63,1247.2 380.15,1247.8 376.5,1248.6 C372.85,1249.4 369.63,1250.38 366.8,1252.2 C363.97,1254.02 361.93,1257.07 359.5,1259.5 C357.07,1261.93 354.6,1264.88 352.2,1266.8 C349.8,1268.72 347.37,1270.47 345.1,1271 C342.83,1271.53 341.03,1271.12 338.6,1270 C336.17,1268.88 332.93,1267.13 330.5,1264.3 C328.07,1261.47 325.9,1257.33 324,1253 C322.1,1248.67 320.73,1243.45 319.1,1238.3 C317.47,1233.15 315.55,1226.15 314.2,1222.1 C312.85,1218.05 312.22,1216.38 311,1214 C309.78,1211.62 307.58,1208.83 306.9,1207.8 Z" fill="#6cbd45" stroke="#1e4a2a" stroke-width="1.1" stroke-linejoin="round" />
<path d="M345.5,1140.5 C346.2,1141.92 348.28,1146.33 349.7,1149 C351.12,1151.67 352.37,1154.42 354,1156.5 C355.63,1158.58 356.97,1159.75 359.5,1161.5 C362.03,1163.25 365.15,1165.87 369.2,1167 C373.25,1168.13 378.52,1168.3 383.8,1168.3 C389.08,1168.3 394.82,1167.42 400.9,1167 C406.98,1166.58 412.8,1166 420.3,1165.8 C427.8,1165.6 441.63,1165.8 445.9,1165.8 L445.9,1227.9 C443.67,1228.3 437.98,1229.48 432.5,1230.3 C427.02,1231.12 419.48,1232.18 413,1232.8 C406.52,1233.42 399.27,1233.68 393.6,1234 C387.93,1234.32 382.67,1234.9 379,1234.7 C375.33,1234.5 373.63,1234.33 371.6,1232.8 C369.57,1231.27 368.22,1229.15 366.8,1225.5 C365.38,1221.85 364.32,1216.58 363.1,1210.9 C361.88,1205.22 360.88,1197.55 359.5,1191.4 C358.12,1185.25 356.13,1179.15 354.8,1174 C353.47,1168.85 352.55,1164.5 351.5,1160.5 C350.45,1156.5 349.5,1153.33 348.5,1150 C347.5,1146.67 346,1142.08 345.5,1140.5 Z" fill="#2e6dbd" stroke="#1c2f6b" stroke-width="1.0" stroke-linejoin="round" />
<polyline points="345.6,1142 348.4,1152 352.2,1168 356.8,1186 361.3,1204 365.5,1219.5 369.8,1231 375,1236.3 390,1237 413,1235.2 432.5,1232.9 445.9,1230.5" fill="none" stroke="#ffffff" stroke-width="2" stroke-linejoin="round" stroke-linecap="butt" />
<rect x="446.1" y="1160" width="4" height="115" fill="#fff" />
<polygon points="304.2,1204 305.13,1206.23 307.53,1206.42 305.7,1207.99 306.26,1210.33 304.2,1209.08 302.14,1210.33 302.7,1207.99 300.87,1206.42 303.27,1206.23" fill="#c0203a"/>
<polygon points="343.9,1133.9 344.83,1136.13 347.23,1136.32 345.4,1137.89 345.96,1140.23 343.9,1138.98 341.84,1140.23 342.4,1137.89 340.57,1136.32 342.97,1136.13" fill="#c0203a"/>
<text x="336.3" y="1202.6" font-size="6.6" fill="#0a3a10" text-anchor="middle" font-weight="bold" font-style="italic" stroke="#0a3a10" stroke-width="0.22">SF3B1/</text>
<text x="336.3" y="1210.5" font-size="6.6" fill="#0a3a10" text-anchor="middle" font-weight="bold" font-style="italic" stroke="#0a3a10" stroke-width="0.22">TET2/</text>
<text x="336.3" y="1218.4" font-size="6.6" fill="#0a3a10" text-anchor="middle" font-weight="bold" font-style="italic" stroke="#0a3a10" stroke-width="0.22">DNMT3A/</text>
<text x="336.3" y="1226.3" font-size="6.6" fill="#0a3a10" text-anchor="middle" font-weight="bold" font-style="italic" stroke="#0a3a10" stroke-width="0.22">del(5q)</text>
<text x="400.2" y="1208.4" font-size="6.6" fill="#0a1a4a" text-anchor="middle" font-weight="bold" font-style="italic" stroke="#0a1a4a" stroke-width="0.22">DNMT3A</text>
<polygon points="29.4,216.8 31.9,215.7 31.9,217.9" fill="#7a1028"/>
<polygon points="36.7,216.8 39.2,215.7 39.2,217.9" fill="#7a1028"/>
<polygon points="131.5,216.8 134,215.7 134,217.9" fill="#7a1028"/>
<polygon points="288.6,218 291.1,216.9 291.1,219.1" fill="#7a1028"/>
<polygon points="294.4,218 296.9,216.9 296.9,219.1" fill="#7a1028"/>
<polygon points="56.7,553.2 59.2,552.1 59.2,554.3" fill="#7a1028"/>
<polygon points="127.9,535.8 130.4,534.7 130.4,536.9" fill="#7a1028"/>
<polygon points="310.3,548.3 312.8,547.2 312.8,549.4" fill="#7a1028"/>
<polygon points="356.6,532.1 359.1,531 359.1,533.2" fill="#7a1028"/>
<polygon points="98.4,896.1 100.9,895 100.9,897.2" fill="#7a1028"/>
<polygon points="332.2,881.5 334.7,880.4 334.7,882.6" fill="#7a1028"/>
<polygon points="403.5,865.5 406,864.4 406,866.6" fill="#7a1028"/>
<polygon points="60.8,1249.8 63.3,1248.7 63.3,1250.9" fill="#7a1028"/>
<rect x="0.5" y="0.5" width="492" height="1279" fill="none" stroke="#444" stroke-width="1.2"/>
</svg>
</body></html>
